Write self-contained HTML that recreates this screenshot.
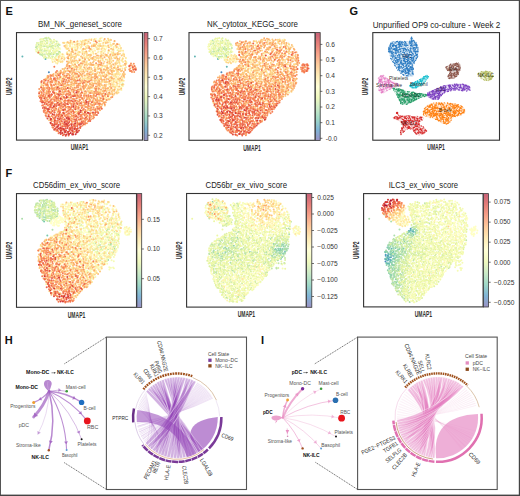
<!DOCTYPE html><html><head><meta charset="utf-8"><style>html,body{margin:0;padding:0;background:#fff;}svg{display:block;font-family:"Liberation Sans", sans-serif;}</style></head><body><svg width="520" height="496" viewBox="0 0 520 496"><rect width="520" height="496" fill="#fff"/><text x="5.6" y="14.6" font-size="11" font-weight="bold" fill="#111">E</text><text x="349.6" y="14.8" font-size="11" font-weight="bold" fill="#111">G</text><text x="5.6" y="177.0" font-size="11" font-weight="bold" fill="#111">F</text><text x="4.8" y="343.7" font-size="11" font-weight="bold" fill="#111">H</text><text x="261.0" y="343.5" font-size="11" font-weight="bold" fill="#111">I</text><g stroke-width="2.00" stroke-linecap="round" fill="none"><path d="M48.9 72.3h0" stroke="#4989be"/><path d="M22.4 56.5h0M45.5 58.9h0" stroke="#62b5b4"/><path d="M59.5 52.1h0" stroke="#78c9ac"/><path d="M58.1 47.2h0" stroke="#92d3ac"/><path d="M46.6 38.4h0M50.2 39.5h0M53.6 54.0h0M56.7 54.2h0" stroke="#acdeab"/><path d="M45.1 38.3h0M44.8 41.2h0M49.6 41.3h0M50.9 41.8h0M53.9 42.0h0M56.8 41.4h0M46.9 43.1h0M58.7 44.3h0M38.6 44.7h0M41.2 45.5h0M52.3 45.8h0M57.5 45.8h0M35.9 47.2h0M37.1 46.4h0M44.2 46.3h0M49.4 46.3h0M51.3 46.7h0M37.1 48.2h0M52.9 47.8h0M41.0 50.8h0M43.5 51.4h0M44.9 50.8h0M49.9 53.8h0M56.8 53.7h0M40.0 54.3h0M41.3 54.7h0M43.0 55.1h0M44.7 54.5h0M51.0 54.6h0M58.2 53.9h0M42.8 55.7h0" stroke="#c4e7a8"/><path d="M46.2 37.8h0M48.5 37.8h0M40.3 39.6h0M43.2 39.0h0M49.6 38.9h0M44.2 41.0h0M46.7 40.3h0M47.3 40.4h0M40.6 41.9h0M42.2 41.8h0M37.0 42.9h0M47.4 42.9h0M50.0 44.2h0M52.1 43.4h0M56.8 43.8h0M40.6 44.8h0M53.6 45.8h0M59.7 44.9h0M43.2 46.3h0M46.1 46.2h0M47.2 47.1h0M55.5 46.5h0M48.3 47.5h0M53.6 48.7h0M58.3 47.6h0M39.8 50.6h0M40.3 49.1h0M42.2 49.6h0M45.1 50.5h0M46.7 49.1h0M46.9 50.8h0M58.5 51.4h0M37.9 52.7h0M39.6 53.5h0M42.5 53.6h0M48.7 53.4h0M51.6 53.0h0M59.1 53.0h0M60.0 52.8h0M47.2 54.2h0M49.3 54.3h0M45.4 56.5h0M48.6 55.8h0M49.3 56.3h0M52.2 56.8h0M52.9 56.6h0M56.7 55.6h0M46.5 58.1h0M52.3 57.1h0M122.6 83.4h0" stroke="#daf0a3"/><path d="M43.4 40.0h0M51.1 40.2h0M54.0 39.7h0M47.2 42.2h0M38.8 43.1h0M40.9 43.7h0M42.1 43.8h0M44.4 43.0h0M53.0 42.8h0M36.3 44.9h0M45.5 44.4h0M49.4 45.3h0M50.5 45.0h0M55.3 44.7h0M39.1 46.1h0M41.3 46.5h0M40.1 47.8h0M41.1 47.5h0M44.7 49.0h0M51.1 47.8h0M59.9 48.6h0M37.1 49.3h0M50.0 50.6h0M57.1 50.2h0M117.5 50.2h0M36.4 51.4h0M38.4 50.7h0M49.0 52.0h0M50.1 51.5h0M52.9 50.8h0M54.8 52.1h0M55.9 51.3h0M41.5 52.5h0M46.3 53.0h0M53.7 52.8h0M55.0 53.1h0M52.2 54.3h0M55.7 56.5h0M44.0 57.8h0M44.7 56.9h0M48.4 57.7h0M50.4 58.0h0M54.9 57.7h0M59.9 60.9h0" stroke="#ecf7a6"/><path d="M41.3 39.1h0M100.0 39.1h0M41.5 39.8h0M55.1 40.9h0M80.4 41.1h0M52.5 41.4h0M55.4 43.7h0M98.7 43.8h0M110.2 42.8h0M43.5 44.5h0M47.6 45.4h0M83.5 44.5h0M53.3 46.9h0M57.7 47.3h0M38.0 47.6h0M56.4 48.8h0M35.7 49.7h0M48.5 50.2h0M50.9 49.3h0M53.8 50.5h0M55.5 49.5h0M40.5 51.7h0M69.3 50.7h0M90.5 50.8h0M108.3 51.2h0M44.0 55.5h0M102.5 58.9h0M75.5 62.5h0M118.6 62.3h0M105.1 67.0h0M119.8 84.2h0M121.7 85.1h0M122.8 86.2h0" stroke="#f5fbb5"/><path d="M101.9 37.8h0M96.1 38.8h0M49.6 41.1h0M98.3 40.6h0M44.1 41.9h0M57.9 42.5h0M71.8 41.5h0M86.6 41.2h0M69.3 45.4h0M75.6 45.5h0M100.7 45.5h0M73.8 46.9h0M78.6 47.1h0M114.3 46.4h0M42.7 48.6h0M46.4 48.9h0M71.1 48.2h0M75.7 48.5h0M80.2 48.7h0M93.8 48.4h0M106.1 48.4h0M110.5 48.7h0M116.1 48.3h0M58.2 49.5h0M60.2 49.2h0M66.3 49.0h0M85.5 49.3h0M114.1 50.0h0M74.1 50.7h0M102.4 51.7h0M43.6 52.2h0M91.2 53.0h0M59.8 54.3h0M61.5 54.2h0M63.8 55.3h0M56.4 58.2h0M82.7 59.2h0M96.3 60.0h0M125.7 58.5h0M52.0 60.2h0M61.2 61.6h0M82.0 60.8h0M57.6 62.0h0M109.6 64.7h0M95.3 66.8h0M102.3 66.4h0M81.6 68.8h0M113.9 74.0h0M123.4 75.8h0M118.9 78.8h0M110.4 80.0h0M113.1 80.8h0M116.4 80.8h0M109.1 86.3h0M113.3 86.0h0M115.9 87.8h0M118.1 86.9h0M120.4 86.7h0M121.3 87.2h0M110.0 88.7h0M108.8 97.0h0" stroke="#ffffc4"/><path d="M91.5 38.9h0M110.3 39.5h0M100.6 41.0h0M101.4 41.0h0M64.4 42.7h0M75.5 42.4h0M77.0 42.1h0M105.2 41.5h0M109.4 41.8h0M114.2 41.4h0M66.5 42.8h0M71.9 43.0h0M72.9 42.8h0M93.4 44.3h0M102.6 43.5h0M66.7 44.8h0M72.4 44.5h0M87.2 45.5h0M105.0 45.4h0M66.7 46.9h0M67.2 46.1h0M72.1 47.2h0M75.3 47.3h0M81.0 46.8h0M96.9 47.4h0M103.6 46.7h0M106.0 46.2h0M107.3 46.8h0M111.0 46.3h0M113.6 46.9h0M117.5 47.1h0M120.1 46.0h0M74.4 47.7h0M67.3 49.1h0M94.6 50.6h0M103.0 50.4h0M120.4 49.1h0M121.5 50.4h0M67.4 52.1h0M81.9 50.6h0M95.1 50.8h0M98.6 51.5h0M104.8 51.6h0M109.3 51.2h0M111.5 51.5h0M68.0 53.8h0M69.6 53.5h0M77.4 52.8h0M78.3 53.0h0M79.9 52.4h0M84.2 52.2h0M86.8 52.6h0M97.8 52.4h0M100.7 53.1h0M101.3 52.2h0M111.6 53.1h0M112.7 53.2h0M71.1 53.9h0M76.2 54.1h0M113.0 54.9h0M60.4 56.2h0M86.1 56.6h0M116.0 56.1h0M59.4 57.1h0M63.8 56.9h0M52.0 58.8h0M53.7 59.6h0M60.6 59.9h0M68.9 58.5h0M79.1 58.8h0M117.1 58.7h0M58.2 60.5h0M111.2 61.0h0M55.8 62.8h0M62.3 62.3h0M87.1 62.9h0M126.4 62.5h0M107.3 64.4h0M75.2 66.0h0M94.6 65.3h0M96.2 65.0h0M121.6 66.2h0M70.5 67.2h0M72.9 67.9h0M74.8 66.8h0M83.5 67.1h0M98.6 66.5h0M101.7 67.5h0M97.2 68.1h0M113.2 69.2h0M90.7 70.3h0M95.2 70.8h0M96.8 69.8h0M105.7 70.4h0M116.1 70.0h0M98.6 72.0h0M92.9 72.7h0M107.1 73.0h0M120.5 74.0h0M109.0 76.9h0M118.5 76.9h0M61.0 77.6h0M115.8 77.8h0M77.1 79.3h0M89.1 79.9h0M115.8 80.1h0M97.2 80.9h0M117.6 81.1h0M121.9 81.3h0M111.9 82.3h0M115.9 82.1h0M119.4 83.2h0M120.4 82.0h0M80.3 83.9h0M108.2 84.5h0M116.4 84.5h0M115.2 86.3h0M92.1 88.6h0M115.5 88.7h0M68.9 90.9h0M79.2 90.6h0M81.9 90.2h0M121.4 90.1h0M117.6 92.6h0M109.3 94.9h0M98.8 96.3h0M95.4 108.2h0" stroke="#fff3b0"/><path d="M89.2 39.4h0M100.5 38.5h0M82.7 40.8h0M84.4 40.6h0M86.9 39.9h0M94.1 39.8h0M103.9 40.2h0M106.8 41.1h0M82.8 41.9h0M84.8 42.3h0M93.8 41.3h0M106.5 42.7h0M69.8 43.6h0M79.0 43.5h0M85.9 43.5h0M87.6 43.2h0M100.2 44.1h0M70.0 45.0h0M74.7 44.7h0M79.2 45.2h0M84.3 44.9h0M97.9 45.8h0M110.3 44.7h0M111.8 45.3h0M119.2 44.6h0M70.0 46.4h0M81.8 46.1h0M85.8 46.7h0M99.2 46.7h0M102.2 46.4h0M72.1 48.4h0M81.0 47.5h0M96.3 47.5h0M98.9 48.8h0M102.2 48.3h0M104.2 48.7h0M113.3 48.4h0M118.6 48.6h0M75.2 49.7h0M77.3 49.8h0M99.0 49.1h0M105.1 49.7h0M78.5 51.8h0M82.7 51.7h0M85.0 52.1h0M92.8 51.4h0M120.3 50.9h0M123.1 50.8h0M66.8 52.9h0M82.4 52.7h0M86.3 52.6h0M93.2 53.0h0M108.1 53.1h0M116.1 53.6h0M123.3 53.6h0M73.9 54.4h0M78.9 55.2h0M93.6 53.8h0M112.6 53.9h0M123.0 54.8h0M59.3 55.8h0M62.2 56.6h0M70.3 56.1h0M70.8 55.8h0M79.0 55.3h0M83.9 55.8h0M101.7 55.8h0M114.2 55.4h0M61.5 58.3h0M75.7 57.6h0M84.5 57.7h0M86.8 57.7h0M89.3 56.9h0M99.5 57.4h0M114.1 57.7h0M119.9 57.4h0M122.7 58.3h0M125.9 58.0h0M55.6 58.9h0M58.7 58.9h0M68.6 58.8h0M72.7 59.9h0M80.4 59.4h0M91.4 58.8h0M100.8 58.8h0M107.5 59.8h0M122.2 59.8h0M54.9 61.2h0M68.9 61.2h0M77.7 61.1h0M86.9 61.3h0M99.3 61.3h0M102.9 60.4h0M107.8 61.1h0M121.4 60.5h0M122.8 61.5h0M52.7 62.0h0M58.3 61.6h0M73.7 62.0h0M77.5 62.3h0M82.4 61.8h0M116.4 62.0h0M123.0 62.0h0M126.0 61.9h0M57.3 63.5h0M74.6 63.9h0M77.5 63.3h0M108.8 63.5h0M112.6 64.2h0M119.6 63.7h0M82.0 64.9h0M104.1 65.9h0M114.7 65.9h0M117.9 65.7h0M120.2 65.8h0M123.3 65.3h0M79.4 66.8h0M86.3 67.1h0M115.4 67.4h0M126.0 67.3h0M73.4 68.1h0M79.2 69.2h0M101.3 68.5h0M114.7 68.0h0M120.1 68.9h0M122.5 68.5h0M66.7 70.2h0M79.4 69.6h0M81.6 69.5h0M86.5 70.1h0M103.2 70.0h0M114.2 70.9h0M59.1 71.9h0M68.1 71.1h0M76.4 71.6h0M85.4 71.0h0M118.2 71.5h0M104.7 74.1h0M115.2 73.9h0M118.9 73.1h0M124.1 74.0h0M75.7 75.7h0M80.2 75.6h0M86.5 75.0h0M98.6 75.5h0M108.6 74.8h0M114.5 75.1h0M117.7 74.6h0M119.5 74.8h0M61.6 77.1h0M68.9 77.2h0M82.6 75.9h0M85.3 75.7h0M87.0 75.7h0M90.9 76.6h0M113.9 75.9h0M115.5 76.1h0M116.6 77.1h0M46.7 77.4h0M76.6 78.1h0M82.9 78.3h0M84.7 78.2h0M86.4 78.3h0M101.2 77.9h0M109.8 78.0h0M122.2 78.1h0M61.4 79.0h0M81.6 79.4h0M84.1 78.9h0M87.3 79.8h0M106.9 81.9h0M123.7 80.7h0M86.2 83.3h0M95.0 83.1h0M102.9 82.0h0M113.6 82.5h0M113.9 84.5h0M71.0 85.4h0M100.4 85.9h0M117.0 85.9h0M58.4 87.5h0M94.8 87.8h0M112.3 89.3h0M89.8 90.1h0M92.7 91.1h0M98.6 91.0h0M100.3 91.2h0M107.5 90.3h0M117.0 91.3h0M118.1 90.3h0M113.5 95.3h0M49.3 98.4h0M100.0 99.2h0M106.4 97.7h0M108.3 98.8h0M89.5 110.1h0" stroke="#fee79c"/><path d="M94.6 39.2h0M108.0 38.8h0M108.9 40.3h0M68.1 42.5h0M81.5 42.1h0M103.5 42.8h0M63.1 42.8h0M64.0 43.1h0M68.5 43.0h0M81.9 44.0h0M90.2 43.1h0M94.5 44.2h0M96.2 44.2h0M113.0 43.9h0M65.5 45.5h0M77.1 44.6h0M81.0 44.6h0M91.9 45.6h0M95.1 45.3h0M99.4 45.5h0M103.3 45.5h0M77.3 46.2h0M88.2 45.9h0M65.5 47.5h0M67.1 48.8h0M68.4 48.6h0M77.6 48.1h0M85.1 49.0h0M86.9 47.9h0M90.5 48.9h0M98.0 48.9h0M101.4 48.9h0M121.0 48.1h0M82.8 49.4h0M83.4 49.5h0M91.5 49.4h0M97.3 49.2h0M71.2 52.1h0M79.7 51.9h0M89.2 51.0h0M101.3 51.5h0M113.4 52.2h0M118.9 51.3h0M71.1 53.7h0M103.5 53.3h0M113.9 53.7h0M120.0 53.7h0M62.6 54.2h0M71.5 54.8h0M77.5 54.7h0M84.7 53.8h0M86.9 54.0h0M91.3 55.1h0M101.4 54.4h0M118.4 54.3h0M124.1 54.5h0M72.5 56.4h0M74.9 56.9h0M76.1 56.0h0M81.8 56.4h0M87.1 55.8h0M95.6 56.8h0M103.0 55.6h0M105.5 55.4h0M107.2 56.2h0M109.2 56.2h0M110.4 55.6h0M124.2 56.2h0M58.6 56.9h0M64.6 58.2h0M67.2 57.5h0M72.0 57.2h0M74.2 56.9h0M90.7 58.3h0M93.5 58.1h0M96.4 57.9h0M97.9 58.0h0M111.2 57.3h0M57.4 60.0h0M64.2 59.5h0M70.7 59.2h0M88.2 58.5h0M94.3 59.6h0M98.5 58.7h0M105.9 59.4h0M111.6 58.7h0M122.8 58.8h0M62.5 61.2h0M70.8 60.6h0M89.1 60.0h0M95.6 60.1h0M109.8 60.4h0M117.2 60.6h0M118.8 60.6h0M125.3 61.1h0M60.7 62.1h0M69.3 62.4h0M77.9 62.2h0M84.1 62.8h0M86.1 62.6h0M104.4 61.8h0M111.4 62.2h0M119.3 62.3h0M71.3 63.2h0M72.6 64.4h0M79.9 64.2h0M86.7 64.4h0M88.9 64.1h0M115.8 64.6h0M117.1 63.3h0M126.2 63.7h0M67.9 65.6h0M71.0 65.9h0M73.3 65.4h0M80.5 66.0h0M87.3 65.3h0M90.1 65.0h0M92.9 64.9h0M105.4 66.2h0M107.1 65.7h0M111.1 65.2h0M75.2 67.0h0M81.1 66.7h0M91.0 67.4h0M94.5 67.4h0M97.7 67.8h0M110.2 67.1h0M118.3 66.6h0M120.7 66.3h0M76.6 68.0h0M80.2 68.3h0M85.2 68.9h0M89.6 68.9h0M116.1 68.8h0M124.9 68.3h0M64.1 70.0h0M64.5 70.7h0M70.3 70.6h0M83.1 69.7h0M88.6 69.5h0M92.8 70.8h0M107.5 70.1h0M116.8 69.7h0M120.1 70.1h0M61.2 72.5h0M78.1 71.6h0M81.0 71.3h0M82.0 72.0h0M97.3 72.2h0M107.5 72.1h0M112.4 72.1h0M117.2 71.2h0M70.7 72.7h0M90.0 72.7h0M97.2 73.3h0M102.6 72.9h0M116.9 73.1h0M69.1 74.6h0M73.2 75.2h0M87.8 75.4h0M100.3 75.2h0M102.3 75.2h0M104.3 75.6h0M115.9 74.4h0M122.6 74.9h0M123.6 74.4h0M57.2 76.1h0M65.5 77.0h0M66.2 77.1h0M99.3 75.6h0M101.0 76.7h0M106.2 76.2h0M73.0 78.8h0M89.0 78.8h0M90.4 78.1h0M101.0 77.7h0M124.2 77.6h0M59.3 79.4h0M69.2 79.2h0M94.7 79.3h0M96.2 80.2h0M98.3 79.8h0M99.4 79.1h0M111.5 80.3h0M113.5 79.2h0M117.7 79.1h0M122.3 80.0h0M61.4 80.7h0M72.0 81.2h0M92.8 80.5h0M99.7 81.4h0M104.3 81.1h0M105.4 81.5h0M110.5 80.6h0M114.0 81.3h0M119.4 80.8h0M49.6 82.4h0M55.0 82.5h0M58.3 83.3h0M77.1 83.2h0M89.8 82.7h0M92.0 82.7h0M93.1 83.4h0M101.2 83.0h0M108.9 82.0h0M109.4 82.3h0M41.3 83.7h0M41.9 85.0h0M44.8 84.1h0M56.3 84.2h0M65.2 84.2h0M83.3 85.0h0M86.9 84.6h0M106.1 84.5h0M109.3 83.6h0M112.3 84.2h0M117.5 83.8h0M123.4 84.4h0M51.0 85.9h0M68.4 85.2h0M72.9 85.2h0M74.1 85.6h0M102.9 85.7h0M112.6 86.4h0M64.7 87.8h0M65.3 87.1h0M69.0 87.2h0M80.7 87.9h0M89.2 88.1h0M100.0 86.8h0M102.4 88.1h0M113.6 86.6h0M115.1 87.2h0M75.9 88.2h0M98.2 89.7h0M117.9 89.2h0M119.8 89.6h0M83.9 89.8h0M95.6 89.9h0M102.3 90.7h0M109.1 90.3h0M110.3 89.8h0M56.0 92.8h0M72.0 91.7h0M82.7 92.9h0M88.7 91.9h0M90.0 91.5h0M100.6 92.3h0M104.1 91.6h0M108.7 92.7h0M114.2 91.5h0M118.5 92.4h0M73.2 94.2h0M85.5 93.8h0M110.6 94.1h0M112.2 92.9h0M117.0 93.4h0M91.8 96.0h0M107.0 94.4h0M68.8 97.6h0M105.2 96.6h0M43.5 98.2h0M81.9 98.5h0M87.1 98.4h0M95.1 98.7h0M104.7 99.1h0M101.4 100.5h0M93.2 100.8h0M104.7 102.0h0M58.4 103.6h0M94.1 103.2h0M65.7 106.1h0M87.8 109.1h0M56.8 110.2h0M75.6 111.7h0M77.4 111.3h0M83.1 110.6h0M86.2 115.5h0M89.0 117.0h0M52.5 119.8h0" stroke="#fed78b"/><path d="M70.6 40.8h0M77.5 41.2h0M85.5 40.2h0M91.3 40.1h0M111.0 40.0h0M67.6 42.2h0M70.3 42.6h0M88.5 41.6h0M99.3 41.3h0M107.8 42.5h0M77.4 44.0h0M105.8 42.9h0M113.9 43.7h0M116.9 44.1h0M93.9 45.3h0M108.2 45.6h0M115.8 45.6h0M64.4 45.9h0M89.3 46.8h0M91.8 46.5h0M95.0 45.9h0M100.8 45.9h0M108.9 47.2h0M116.5 46.9h0M111.2 48.8h0M69.1 50.5h0M72.5 50.5h0M113.0 49.8h0M75.9 50.6h0M73.2 52.3h0M117.9 53.1h0M82.6 54.0h0M88.6 54.9h0M90.2 54.8h0M95.9 53.8h0M105.4 54.4h0M68.3 56.4h0M81.0 56.6h0M90.5 55.8h0M93.8 56.8h0M98.6 55.8h0M112.9 55.5h0M121.7 55.4h0M71.1 57.8h0M100.9 56.9h0M102.6 58.4h0M108.9 57.6h0M115.2 58.3h0M116.6 57.1h0M61.8 58.4h0M74.4 58.7h0M84.7 58.6h0M89.3 59.9h0M92.6 59.1h0M109.8 59.0h0M119.3 59.0h0M56.8 60.1h0M72.5 61.1h0M74.3 60.9h0M76.1 60.4h0M83.1 61.3h0M93.7 61.3h0M100.5 61.1h0M113.2 60.7h0M68.5 62.4h0M71.5 62.1h0M90.5 62.8h0M92.9 62.6h0M98.9 62.0h0M100.3 62.1h0M109.3 61.7h0M115.3 63.2h0M68.0 63.5h0M85.7 64.4h0M90.5 64.5h0M103.5 63.6h0M110.0 63.5h0M84.6 64.9h0M100.7 65.2h0M102.4 65.4h0M125.2 65.0h0M66.8 66.3h0M69.1 67.2h0M77.6 67.3h0M111.5 66.3h0M62.5 69.1h0M64.4 68.8h0M65.3 67.9h0M91.6 69.1h0M98.3 69.0h0M106.1 69.4h0M107.0 68.2h0M108.4 68.2h0M111.7 68.3h0M71.8 69.7h0M73.9 70.4h0M94.6 70.2h0M105.5 70.2h0M110.2 69.8h0M112.1 70.4h0M119.8 69.5h0M122.2 70.6h0M61.7 72.4h0M63.7 72.1h0M73.5 72.1h0M89.5 72.5h0M91.0 72.1h0M101.0 71.3h0M101.7 71.4h0M108.5 70.9h0M113.8 71.1h0M121.1 71.2h0M53.7 74.0h0M64.6 73.0h0M84.3 72.6h0M86.8 73.9h0M94.3 74.0h0M112.0 72.5h0M122.9 73.9h0M67.6 75.2h0M71.8 74.4h0M77.3 74.4h0M91.1 74.9h0M92.3 74.1h0M96.2 74.9h0M106.3 74.8h0M111.8 74.6h0M112.4 74.4h0M124.8 74.3h0M64.0 76.3h0M72.6 76.7h0M73.6 75.9h0M82.1 76.8h0M89.0 76.6h0M95.2 76.3h0M110.6 77.2h0M111.6 76.9h0M121.6 76.6h0M59.5 78.5h0M63.7 78.3h0M74.4 78.1h0M77.8 77.5h0M80.1 78.2h0M87.8 77.7h0M93.0 77.4h0M97.4 78.3h0M97.6 77.3h0M105.1 77.5h0M106.8 78.7h0M112.1 78.5h0M114.0 78.4h0M45.5 78.9h0M46.8 78.9h0M49.3 79.6h0M57.6 79.2h0M75.2 79.9h0M102.9 79.7h0M106.4 79.8h0M118.9 79.3h0M121.3 80.0h0M81.9 81.5h0M94.9 80.9h0M101.9 81.0h0M56.1 81.9h0M61.8 82.6h0M68.0 82.3h0M70.5 82.5h0M76.0 82.9h0M81.8 82.6h0M97.6 82.3h0M105.0 82.2h0M106.9 82.1h0M116.5 82.4h0M73.0 83.7h0M101.6 85.1h0M122.1 84.7h0M41.1 86.2h0M56.2 86.3h0M59.8 85.6h0M66.8 85.8h0M80.5 85.8h0M85.4 86.0h0M86.4 85.8h0M88.7 85.9h0M90.5 86.6h0M91.8 85.1h0M97.6 86.0h0M105.1 86.3h0M105.9 86.0h0M110.7 86.1h0M119.2 86.5h0M53.1 88.0h0M62.7 87.7h0M72.5 87.7h0M88.2 87.6h0M92.6 87.0h0M98.2 88.0h0M103.5 87.4h0M105.5 87.4h0M108.1 88.1h0M110.0 86.8h0M68.8 88.8h0M84.6 88.3h0M87.1 89.1h0M103.4 88.7h0M105.3 88.6h0M121.2 88.6h0M40.6 91.0h0M46.8 90.8h0M48.8 91.3h0M51.8 89.8h0M88.0 91.0h0M91.4 91.0h0M112.6 90.5h0M114.4 90.1h0M44.9 92.6h0M58.7 92.1h0M67.0 91.3h0M86.3 92.7h0M92.6 92.9h0M102.9 91.6h0M106.5 92.1h0M111.6 91.5h0M116.1 92.4h0M70.1 93.7h0M76.6 94.5h0M93.8 94.2h0M109.7 93.7h0M114.4 93.8h0M47.8 95.1h0M70.0 94.6h0M79.7 95.1h0M108.0 95.9h0M60.8 97.5h0M76.6 96.3h0M89.4 96.9h0M97.2 97.5h0M99.7 97.4h0M52.3 98.2h0M63.5 98.0h0M69.5 97.7h0M77.7 98.0h0M89.1 99.1h0M109.7 99.2h0M60.2 100.4h0M79.3 99.9h0M89.6 100.2h0M93.2 99.2h0M103.0 99.2h0M106.3 100.1h0M108.9 99.4h0M99.5 101.4h0M54.6 103.7h0M88.6 103.8h0M93.0 102.6h0M102.6 103.6h0M48.8 104.2h0M76.3 103.8h0M97.9 103.9h0M102.2 104.7h0M71.4 106.8h0M84.7 105.6h0M90.8 106.2h0M94.1 105.6h0M98.9 106.8h0M99.9 106.7h0M104.9 105.5h0M74.1 108.2h0M78.0 107.2h0M55.5 108.8h0M76.7 108.7h0M97.3 109.5h0M61.1 110.2h0M64.7 110.5h0M87.9 110.1h0M62.8 112.9h0M74.8 112.3h0M82.2 112.2h0M91.2 112.6h0M71.6 114.2h0M77.1 113.9h0M50.0 116.9h0M72.9 116.5h0M49.1 120.2h0M74.7 119.7h0M72.2 121.9h0M79.4 122.5h0M62.5 125.5h0M76.4 124.2h0" stroke="#fdc47b"/><path d="M104.7 39.0h0M114.6 40.9h0M84.6 43.9h0M93.7 46.0h0M83.4 48.8h0M72.0 49.2h0M90.2 49.1h0M108.7 50.3h0M72.2 51.6h0M86.3 51.4h0M75.3 53.5h0M67.3 54.2h0M69.4 55.0h0M106.8 54.9h0M110.4 54.4h0M115.1 54.6h0M117.5 54.6h0M97.1 55.4h0M100.9 56.1h0M82.5 57.9h0M92.3 57.9h0M104.5 57.2h0M85.1 59.5h0M117.5 58.7h0M67.0 61.6h0M84.4 61.3h0M98.3 61.1h0M107.2 62.6h0M67.1 64.4h0M75.1 64.6h0M82.6 63.6h0M91.4 64.3h0M93.4 64.7h0M98.2 64.6h0M101.0 64.4h0M113.5 64.4h0M125.0 63.8h0M66.7 66.1h0M76.6 66.2h0M91.9 65.0h0M98.3 66.0h0M131.9 65.3h0M84.4 67.4h0M89.3 67.5h0M107.2 67.5h0M114.0 67.8h0M117.8 67.6h0M70.0 67.8h0M87.6 68.5h0M95.1 69.2h0M99.9 68.4h0M104.0 69.3h0M130.3 68.5h0M132.9 68.9h0M60.7 70.8h0M68.3 70.7h0M76.5 69.5h0M125.2 70.0h0M65.6 71.5h0M71.9 71.0h0M74.5 72.5h0M83.4 71.3h0M87.4 71.6h0M95.1 71.2h0M104.0 72.3h0M111.3 70.9h0M123.8 72.1h0M56.0 72.8h0M57.9 73.4h0M60.9 72.6h0M63.3 72.9h0M67.2 73.8h0M68.6 74.0h0M72.5 73.0h0M74.9 74.0h0M79.4 72.6h0M80.6 74.1h0M82.8 73.8h0M88.0 73.7h0M95.7 74.1h0M99.7 72.7h0M101.8 72.7h0M108.7 73.1h0M110.0 73.8h0M50.3 74.9h0M52.9 74.7h0M55.9 75.2h0M57.7 74.1h0M59.9 74.9h0M78.7 75.3h0M81.4 74.9h0M84.6 75.6h0M95.2 75.3h0M106.7 75.4h0M47.6 76.1h0M53.0 75.9h0M53.5 76.0h0M56.6 75.9h0M76.2 77.2h0M79.1 76.0h0M91.9 77.2h0M94.6 76.5h0M103.3 76.3h0M105.4 77.1h0M123.9 76.1h0M65.8 77.5h0M71.5 77.5h0M111.8 77.9h0M120.2 78.3h0M51.0 79.5h0M51.8 80.2h0M63.4 80.4h0M72.3 79.0h0M74.4 79.7h0M82.7 80.4h0M91.4 79.3h0M101.1 79.3h0M104.3 79.6h0M108.4 79.2h0M44.1 81.4h0M52.6 80.9h0M55.4 81.2h0M62.0 81.3h0M69.2 81.3h0M73.7 80.5h0M75.4 81.0h0M80.2 81.0h0M85.8 80.9h0M87.1 81.8h0M99.1 80.9h0M44.7 83.0h0M71.8 82.6h0M74.6 82.3h0M84.8 82.7h0M99.0 83.1h0M50.6 84.1h0M58.3 84.2h0M60.2 83.7h0M62.3 85.0h0M63.8 84.4h0M67.5 84.4h0M68.9 85.0h0M71.1 84.6h0M74.2 83.7h0M86.0 84.9h0M89.8 83.9h0M90.7 84.2h0M93.1 84.0h0M95.0 83.6h0M96.6 83.8h0M98.4 84.3h0M100.0 84.1h0M104.6 85.0h0M110.5 83.9h0M43.5 85.4h0M48.1 86.2h0M58.1 86.5h0M63.6 86.5h0M65.4 86.6h0M76.7 85.8h0M79.0 85.2h0M99.1 85.5h0M43.1 87.4h0M44.9 87.9h0M46.9 87.9h0M54.9 87.7h0M61.2 88.0h0M70.9 86.7h0M83.7 87.1h0M85.3 87.1h0M91.1 87.5h0M96.5 88.2h0M44.8 89.5h0M50.8 88.5h0M53.7 88.7h0M61.2 89.3h0M66.1 89.6h0M79.4 89.4h0M88.9 88.4h0M89.7 88.3h0M94.6 88.6h0M101.0 89.6h0M105.9 88.8h0M107.8 88.6h0M114.4 89.4h0M54.8 89.8h0M62.5 89.9h0M64.9 89.7h0M71.4 90.0h0M74.9 90.2h0M81.2 90.1h0M46.7 92.0h0M62.1 91.9h0M63.2 92.2h0M79.0 91.7h0M84.6 91.4h0M95.0 92.9h0M97.7 91.9h0M99.2 92.8h0M41.4 94.2h0M41.9 93.2h0M49.2 93.1h0M54.8 94.1h0M63.1 94.1h0M63.9 94.0h0M77.9 93.1h0M82.1 93.0h0M84.5 93.8h0M88.4 94.4h0M94.3 93.2h0M96.2 93.0h0M100.4 93.3h0M102.3 94.0h0M103.7 93.3h0M108.0 94.3h0M54.9 95.9h0M57.7 94.5h0M62.7 94.8h0M83.9 95.3h0M84.5 95.5h0M101.3 94.8h0M104.9 95.3h0M112.4 94.6h0M38.9 96.2h0M53.8 97.0h0M62.0 96.8h0M70.8 96.2h0M86.4 96.7h0M88.1 97.4h0M90.9 97.0h0M93.2 97.0h0M94.1 96.0h0M103.4 96.9h0M111.0 97.4h0M55.1 98.3h0M72.8 98.7h0M73.5 99.0h0M84.3 98.0h0M89.6 99.0h0M97.2 98.9h0M44.2 100.7h0M56.9 100.1h0M76.9 100.6h0M82.2 99.1h0M83.5 100.1h0M90.4 99.9h0M96.9 100.6h0M98.6 100.4h0M100.1 100.4h0M52.3 101.8h0M58.6 102.3h0M59.7 100.9h0M60.8 101.5h0M63.7 101.3h0M70.7 101.5h0M74.6 101.7h0M77.5 101.5h0M81.4 101.9h0M83.5 102.3h0M90.0 101.2h0M95.0 102.2h0M101.8 101.1h0M102.9 100.9h0M105.8 102.2h0M79.3 103.6h0M84.1 102.3h0M85.3 103.3h0M96.9 102.5h0M79.3 105.0h0M83.8 105.3h0M90.8 104.0h0M92.1 104.9h0M101.1 104.6h0M45.7 106.5h0M51.3 105.6h0M54.8 106.2h0M78.5 106.3h0M81.0 105.8h0M86.5 106.8h0M101.3 106.9h0M58.7 108.2h0M66.3 107.2h0M90.3 108.2h0M46.4 108.9h0M53.9 109.7h0M61.2 108.7h0M68.2 108.8h0M91.0 110.1h0M51.2 111.2h0M70.3 111.4h0M72.0 111.2h0M86.5 111.5h0M91.3 110.1h0M94.5 110.2h0M100.0 110.3h0M54.2 112.3h0M57.6 111.9h0M59.5 112.8h0M70.3 114.3h0M92.6 113.5h0M95.1 114.0h0M58.6 115.2h0M65.8 115.3h0M91.5 115.9h0M70.8 117.1h0M91.6 116.8h0M72.7 119.0h0M85.6 119.2h0M91.1 119.3h0M77.2 120.7h0M81.4 119.6h0M83.2 121.0h0M60.3 122.0h0M73.5 121.4h0M87.9 121.5h0M85.0 124.6h0M56.4 131.0h0" stroke="#fcaf6b"/><path d="M74.1 41.8h0M96.8 42.4h0M117.5 44.2h0M89.1 48.1h0M68.1 58.2h0M79.5 60.3h0M101.4 63.0h0M81.0 63.3h0M96.1 63.3h0M99.8 64.4h0M131.0 63.5h0M133.8 63.8h0M78.9 65.1h0M129.4 66.6h0M132.4 66.9h0M134.7 66.6h0M74.4 69.4h0M118.3 69.4h0M129.3 69.4h0M135.8 68.2h0M101.0 69.9h0M129.9 70.9h0M131.7 71.0h0M55.8 72.2h0M132.0 72.1h0M134.2 72.1h0M75.8 73.5h0M77.0 73.7h0M62.9 74.6h0M64.6 75.4h0M89.6 74.5h0M48.7 76.2h0M50.8 76.1h0M69.8 75.8h0M96.7 76.9h0M48.0 77.7h0M50.5 78.0h0M51.2 78.7h0M55.6 78.2h0M57.6 77.9h0M62.9 78.8h0M95.1 78.3h0M66.4 79.9h0M71.0 79.5h0M51.7 81.3h0M56.5 80.8h0M58.6 81.8h0M65.6 81.6h0M68.6 80.4h0M76.1 81.1h0M84.8 80.6h0M90.9 80.5h0M109.5 81.1h0M47.6 82.6h0M51.2 82.3h0M52.3 82.3h0M59.2 82.5h0M62.7 83.4h0M65.1 83.2h0M67.3 82.5h0M80.1 83.2h0M87.9 82.2h0M46.0 84.3h0M53.6 84.8h0M55.6 83.9h0M76.1 83.6h0M78.6 83.7h0M46.1 85.6h0M47.7 85.2h0M51.9 85.9h0M54.1 85.3h0M77.9 85.3h0M83.8 85.7h0M93.2 85.7h0M96.0 86.6h0M47.2 88.0h0M51.8 87.9h0M74.6 87.7h0M76.7 87.3h0M78.3 87.0h0M82.5 86.8h0M111.2 88.0h0M39.2 89.0h0M42.1 89.2h0M43.4 88.5h0M47.4 88.7h0M52.8 89.0h0M56.7 88.2h0M58.5 89.4h0M63.7 89.1h0M65.9 88.8h0M70.2 88.5h0M72.4 89.4h0M73.3 89.4h0M78.0 89.4h0M80.8 89.0h0M83.5 88.5h0M99.0 88.7h0M43.1 90.2h0M49.1 90.9h0M53.3 90.7h0M56.6 89.8h0M59.6 90.9h0M65.3 91.3h0M73.7 89.9h0M85.8 91.2h0M104.2 90.7h0M105.5 90.4h0M39.3 92.2h0M50.2 91.8h0M59.5 91.7h0M64.6 91.8h0M68.6 91.4h0M94.2 91.8h0M109.4 92.6h0M46.3 93.7h0M48.1 93.0h0M60.4 93.6h0M66.5 93.5h0M68.1 93.6h0M74.7 94.0h0M80.5 93.4h0M89.9 93.0h0M90.9 93.1h0M40.3 95.5h0M41.6 95.3h0M45.4 95.4h0M55.3 95.7h0M66.9 94.7h0M74.5 95.5h0M75.3 95.4h0M93.6 95.2h0M99.2 94.5h0M40.8 97.1h0M43.0 96.5h0M44.8 97.1h0M45.9 97.4h0M48.1 96.7h0M58.4 96.2h0M67.9 97.3h0M78.2 96.4h0M80.3 96.6h0M81.4 97.4h0M84.0 96.0h0M102.5 96.6h0M112.3 96.9h0M46.7 98.1h0M79.5 97.6h0M91.7 97.8h0M94.0 98.3h0M100.9 98.3h0M45.8 100.0h0M47.8 99.8h0M53.7 99.2h0M58.4 100.0h0M62.2 99.5h0M65.3 100.2h0M69.5 100.2h0M73.3 99.3h0M74.6 99.2h0M86.9 99.2h0M95.5 100.0h0M106.8 100.1h0M45.7 102.1h0M47.0 101.3h0M50.8 102.1h0M54.3 101.1h0M56.4 101.2h0M65.8 100.8h0M68.9 101.3h0M79.0 101.7h0M92.6 101.2h0M97.3 102.1h0M46.9 103.7h0M50.6 103.7h0M60.8 103.2h0M68.0 102.3h0M69.9 103.1h0M71.4 103.8h0M73.3 102.9h0M81.4 103.5h0M104.0 102.7h0M62.1 104.7h0M64.9 104.6h0M71.3 104.4h0M71.6 105.4h0M82.1 105.2h0M84.9 104.1h0M94.2 104.5h0M99.4 105.0h0M104.8 104.2h0M75.3 105.5h0M76.4 106.4h0M81.7 105.6h0M88.4 105.9h0M89.0 106.2h0M92.4 105.6h0M97.1 106.8h0M53.9 107.6h0M55.5 107.9h0M60.1 107.2h0M60.8 107.9h0M62.8 107.2h0M65.6 107.4h0M69.2 107.1h0M82.6 107.0h0M85.2 107.0h0M87.3 107.5h0M88.7 108.5h0M91.3 107.8h0M93.6 107.6h0M99.3 108.2h0M100.9 107.2h0M51.4 109.3h0M65.2 109.8h0M70.9 109.4h0M72.8 109.9h0M78.2 108.8h0M80.2 109.9h0M82.8 110.0h0M85.5 109.9h0M93.0 109.4h0M45.3 110.6h0M78.9 111.6h0M85.1 111.3h0M90.3 110.5h0M97.7 111.6h0M45.8 112.7h0M47.3 111.7h0M66.2 112.2h0M77.6 112.9h0M97.0 112.3h0M45.4 113.5h0M46.8 113.6h0M56.9 114.2h0M58.6 114.7h0M61.6 114.6h0M66.9 114.7h0M68.4 113.8h0M75.2 114.7h0M82.0 114.4h0M83.2 114.0h0M84.9 113.9h0M86.4 113.9h0M93.6 114.2h0M51.8 116.0h0M54.0 115.0h0M55.9 116.2h0M60.1 115.0h0M64.5 115.5h0M68.9 116.2h0M71.9 115.8h0M75.1 116.3h0M81.5 115.7h0M87.5 115.8h0M93.5 116.1h0M95.3 115.0h0M46.4 116.5h0M52.9 117.2h0M61.7 116.5h0M63.1 117.5h0M73.8 117.6h0M81.8 116.8h0M82.8 117.9h0M94.0 117.4h0M59.3 118.3h0M71.2 118.7h0M82.0 118.6h0M87.4 119.0h0M93.0 118.5h0M61.0 120.5h0M63.7 119.7h0M69.0 120.1h0M70.4 120.2h0M79.8 119.7h0M85.2 120.8h0M86.4 119.6h0M51.7 121.2h0M54.1 121.4h0M85.0 122.0h0M54.9 124.1h0M56.6 123.5h0M62.2 123.2h0M63.2 123.5h0M70.1 124.2h0M86.9 123.2h0M60.6 125.1h0M82.5 125.5h0M52.5 127.2h0M55.8 129.7h0M75.9 128.9h0M77.1 129.8h0M75.0 131.5h0M73.6 132.2h0" stroke="#f99760"/><path d="M95.7 41.3h0M69.4 65.9h0M130.2 65.2h0M134.4 66.1h0M67.5 68.5h0M71.9 68.5h0M134.8 69.0h0M57.0 71.1h0M69.8 71.7h0M130.9 71.0h0M60.1 73.4h0M51.5 75.5h0M66.6 75.7h0M60.1 77.1h0M78.5 76.3h0M67.8 78.0h0M69.4 78.1h0M44.1 79.8h0M53.9 79.4h0M55.4 79.9h0M64.5 79.6h0M79.6 79.9h0M41.8 80.9h0M48.2 80.8h0M50.4 81.8h0M89.1 81.3h0M43.6 82.9h0M83.8 82.2h0M47.4 84.3h0M51.2 85.0h0M82.8 83.5h0M49.1 87.8h0M49.1 89.2h0M59.4 88.5h0M96.0 89.1h0M43.6 90.5h0M68.5 91.1h0M76.7 90.8h0M96.0 90.9h0M41.4 92.3h0M43.5 91.7h0M48.4 91.6h0M54.1 92.6h0M70.0 92.6h0M73.7 91.9h0M77.9 91.5h0M43.7 94.2h0M57.1 94.1h0M70.6 94.3h0M98.1 94.0h0M43.0 95.8h0M49.9 94.6h0M51.9 94.8h0M61.0 94.6h0M65.9 95.0h0M69.0 95.0h0M72.2 95.9h0M77.7 95.2h0M81.2 95.3h0M86.3 95.5h0M88.3 96.0h0M90.5 95.8h0M95.9 95.9h0M96.7 94.5h0M102.8 96.0h0M51.0 96.1h0M55.6 97.3h0M56.6 96.9h0M107.9 96.3h0M49.9 97.8h0M58.4 98.1h0M60.4 98.4h0M64.9 98.0h0M66.5 98.0h0M71.0 97.7h0M76.4 98.3h0M82.5 98.3h0M41.0 99.3h0M42.2 100.4h0M50.6 100.2h0M51.7 99.6h0M54.9 100.1h0M64.9 100.6h0M80.0 99.9h0M40.5 101.2h0M41.9 101.7h0M49.5 101.8h0M67.5 100.8h0M85.4 102.2h0M88.7 101.8h0M52.8 103.1h0M61.7 103.0h0M64.7 102.6h0M65.7 103.6h0M74.3 103.7h0M76.6 102.7h0M98.6 103.4h0M99.9 103.4h0M42.9 105.2h0M44.6 104.3h0M51.8 104.7h0M56.3 104.1h0M68.2 104.3h0M86.2 104.1h0M88.2 105.1h0M95.8 104.1h0M42.2 105.6h0M44.0 106.9h0M48.0 105.5h0M59.4 105.6h0M61.1 105.9h0M63.2 106.4h0M68.0 106.8h0M69.1 107.0h0M49.5 107.4h0M51.0 107.2h0M70.6 108.3h0M71.6 107.1h0M75.5 107.3h0M78.8 107.7h0M81.7 108.1h0M97.4 108.3h0M44.2 110.1h0M56.2 108.8h0M58.6 109.7h0M69.6 109.5h0M83.9 108.9h0M95.3 109.3h0M98.5 108.7h0M99.5 108.8h0M43.7 110.9h0M47.8 110.2h0M54.8 110.6h0M58.6 111.2h0M59.9 111.3h0M67.1 111.3h0M68.6 110.8h0M95.7 111.0h0M44.0 111.9h0M51.4 112.8h0M68.3 113.2h0M69.1 113.3h0M71.3 112.2h0M74.0 112.4h0M84.8 112.2h0M48.7 114.4h0M50.5 113.3h0M64.4 113.4h0M73.5 113.3h0M90.1 113.6h0M45.7 115.5h0M49.1 116.4h0M56.9 115.6h0M67.7 116.4h0M73.7 115.5h0M78.9 114.8h0M80.8 115.1h0M84.6 115.5h0M90.0 115.3h0M49.3 116.7h0M60.5 117.0h0M65.4 116.6h0M67.6 116.6h0M78.0 117.3h0M80.2 116.8h0M86.5 117.1h0M89.8 117.2h0M53.7 118.4h0M54.8 119.1h0M62.0 119.1h0M67.9 118.0h0M76.4 118.4h0M78.6 119.4h0M84.4 118.7h0M55.9 120.7h0M57.9 120.6h0M67.3 120.1h0M71.7 120.9h0M88.8 120.5h0M57.2 122.3h0M59.4 121.9h0M66.4 121.6h0M77.2 122.2h0M81.1 122.7h0M83.4 121.4h0M88.9 121.1h0M57.3 123.4h0M74.3 124.1h0M77.5 123.3h0M85.2 123.2h0M73.5 124.4h0M78.0 124.6h0M60.4 127.3h0M64.0 126.4h0M74.1 126.0h0M75.6 126.3h0M80.0 127.3h0M53.2 127.7h0M59.9 129.3h0M62.5 129.0h0M58.1 131.3h0M58.6 133.2h0M62.6 133.1h0M67.3 132.4h0M38.4 52.5h0M54.3 66.8h0" stroke="#f67e54"/><path d="M129.3 66.1h0M132.9 67.2h0M133.7 69.7h0M58.7 75.2h0M54.1 78.2h0M45.7 80.4h0M63.5 81.6h0M77.8 80.5h0M41.3 82.1h0M61.3 85.2h0M41.1 87.5h0M52.9 92.0h0M81.8 92.2h0M39.1 93.5h0M51.8 94.2h0M54.1 92.9h0M105.5 93.9h0M59.3 95.4h0M49.1 96.2h0M63.9 96.9h0M75.0 96.0h0M39.9 97.7h0M41.6 98.1h0M56.9 98.6h0M103.3 99.0h0M68.4 100.2h0M71.2 100.4h0M85.8 100.6h0M43.1 102.0h0M72.9 101.2h0M75.2 100.8h0M44.7 103.1h0M48.5 102.3h0M51.8 103.0h0M80.6 103.2h0M88.4 103.3h0M91.8 102.3h0M46.6 104.3h0M50.1 104.7h0M54.7 104.8h0M58.2 105.1h0M63.7 104.3h0M73.3 105.1h0M77.5 104.0h0M50.3 106.3h0M56.3 106.1h0M65.0 105.8h0M42.9 108.0h0M46.3 108.3h0M52.7 107.8h0M49.1 109.2h0M63.1 109.5h0M64.9 109.2h0M101.8 108.7h0M48.3 111.3h0M52.6 111.1h0M73.3 111.2h0M49.5 111.9h0M54.6 112.6h0M59.9 112.7h0M79.1 113.1h0M88.7 113.0h0M95.2 112.8h0M98.2 113.1h0M54.4 114.7h0M58.9 114.2h0M63.9 113.7h0M89.3 113.8h0M76.6 115.9h0M96.9 114.9h0M55.1 117.3h0M55.5 117.4h0M58.5 116.4h0M75.8 116.6h0M85.7 117.8h0M60.6 118.6h0M64.8 119.2h0M74.3 119.5h0M80.5 118.9h0M89.6 119.0h0M50.8 120.1h0M65.5 120.9h0M90.2 121.0h0M54.8 122.2h0M61.9 121.2h0M64.4 121.7h0M67.2 122.0h0M75.2 121.7h0M81.7 121.4h0M50.9 123.6h0M52.7 123.9h0M60.2 124.1h0M71.7 123.6h0M79.2 123.7h0M82.8 122.9h0M52.0 125.3h0M56.5 124.6h0M64.2 124.8h0M65.5 124.3h0M69.0 125.4h0M74.6 125.4h0M83.7 124.3h0M54.5 126.1h0M62.2 126.5h0M65.6 126.2h0M67.2 126.0h0M68.2 125.9h0M71.3 127.1h0M72.7 126.9h0M77.3 126.1h0M80.8 126.5h0M57.0 127.6h0M65.8 128.2h0M69.6 128.0h0M70.8 128.1h0M72.7 128.2h0M76.7 128.9h0M80.2 128.0h0M61.5 129.4h0M64.4 129.5h0M69.4 129.6h0M61.7 130.7h0M69.7 131.0h0M71.7 130.6h0M68.3 133.3h0M62.9 135.2h0M64.2 134.3h0M68.6 135.4h0" stroke="#ec6649"/><path d="M135.8 69.7h0M57.6 87.5h0M67.7 87.9h0M60.0 91.2h0M58.8 94.3h0M48.8 95.4h0M73.5 96.2h0M44.5 98.5h0M42.2 102.6h0M57.6 102.7h0M59.6 104.3h0M67.2 104.1h0M44.9 108.1h0M75.3 109.2h0M63.2 110.3h0M63.4 112.8h0M80.5 112.3h0M85.0 112.2h0M93.0 112.4h0M78.8 113.8h0M62.1 115.4h0M68.9 118.0h0M47.5 118.5h0M50.5 118.7h0M57.7 118.6h0M54.8 120.5h0M59.4 119.5h0M76.0 119.9h0M69.2 122.1h0M68.1 123.5h0M53.2 125.3h0M54.8 124.3h0M58.6 124.9h0M67.1 124.9h0M79.7 124.8h0M56.6 127.3h0M55.2 128.4h0M61.9 128.3h0M67.5 127.9h0M75.0 128.1h0M77.8 128.2h0M54.2 129.8h0M57.2 130.1h0M66.1 130.4h0M70.7 129.0h0M72.7 130.2h0M79.0 130.4h0M64.2 130.7h0M72.6 131.2h0M64.7 132.1h0M72.8 133.5h0M77.7 132.1h0M60.7 134.1h0M68.4 134.2h0M65.7 135.7h0" stroke="#e14f3f"/><path d="M76.4 92.4h0M66.7 96.9h0M60.8 98.8h0M86.8 102.0h0M53.8 106.3h0M73.4 106.7h0M48.0 109.1h0M80.9 110.7h0M87.9 112.7h0M52.6 114.2h0M48.4 116.2h0M51.0 119.0h0M66.8 117.9h0M69.0 118.9h0M50.5 122.7h0M64.7 122.7h0M66.4 124.0h0M75.2 123.5h0M81.0 124.1h0M71.6 124.9h0M57.9 126.3h0M58.5 128.4h0M60.4 127.9h0M63.6 128.9h0M74.4 129.1h0M60.7 130.7h0M65.4 131.9h0M68.1 131.8h0M76.5 130.5h0M60.1 132.6h0M62.1 133.1h0M70.7 133.0h0M76.7 132.5h0M66.2 134.5h0M69.1 134.0h0M72.2 134.5h0M73.1 134.4h0M75.6 134.3h0" stroke="#d33938"/></g><g stroke-width="2.00" stroke-linecap="round" fill="none"><path d="M210.9 52.5h0M221.4 72.3h0" stroke="#4989be"/><path d="M194.9 56.5h0M218.0 59.0h0M226.8 66.8h0" stroke="#62b5b4"/><path d="M226.2 56.1h0" stroke="#92d3ac"/><path d="M212.6 40.4h0M218.6 44.1h0M223.6 48.4h0M218.3 50.8h0M230.8 52.2h0" stroke="#acdeab"/><path d="M222.8 40.8h0M213.2 43.8h0M225.6 44.1h0M229.3 43.6h0M230.8 44.3h0M224.8 47.1h0M226.5 48.7h0M231.9 47.9h0M219.1 49.8h0M224.6 49.2h0M226.5 50.1h0M213.2 51.5h0M214.3 51.4h0M219.9 53.7h0M211.2 54.1h0M225.3 54.2h0M215.3 55.6h0M219.3 56.8h0M220.9 56.8h0M222.0 56.4h0M218.3 57.0h0" stroke="#c4e7a8"/><path d="M222.5 38.2h0M220.8 41.2h0M226.4 40.5h0M228.2 40.4h0M213.9 42.1h0M216.4 41.8h0M224.9 42.5h0M220.5 43.6h0M222.4 43.3h0M210.8 44.5h0M214.9 45.3h0M227.0 45.2h0M230.8 44.8h0M215.4 46.9h0M220.3 47.2h0M222.6 47.2h0M213.0 48.7h0M218.6 48.3h0M220.1 47.8h0M224.9 48.2h0M228.1 47.7h0M229.7 48.9h0M213.9 49.8h0M217.3 50.2h0M222.1 49.7h0M210.2 51.2h0M216.3 51.7h0M221.4 51.7h0M225.4 50.7h0M227.5 52.0h0M228.1 51.7h0M230.9 51.4h0M213.0 53.6h0M223.1 53.6h0M226.4 52.9h0M221.3 54.3h0M224.0 53.8h0M228.3 54.2h0M227.0 57.6h0" stroke="#daf0a3"/><path d="M214.7 39.4h0M215.6 38.6h0M217.5 38.5h0M219.3 38.1h0M221.6 39.1h0M225.7 39.2h0M217.2 40.5h0M220.4 42.6h0M222.0 42.6h0M223.4 41.8h0M227.5 42.2h0M210.9 43.0h0M217.4 43.4h0M227.4 43.0h0M215.9 45.5h0M220.1 44.6h0M220.6 45.9h0M224.6 44.6h0M228.5 44.5h0M231.7 45.4h0M209.2 46.3h0M213.4 47.0h0M227.8 46.9h0M228.7 46.2h0M214.3 48.5h0M215.7 48.6h0M221.7 48.2h0M209.1 49.3h0M210.9 50.3h0M221.3 49.4h0M227.8 49.3h0M228.9 49.4h0M209.4 52.0h0M220.2 50.9h0M223.2 51.7h0M211.0 52.6h0M215.2 53.0h0M217.6 52.7h0M218.8 52.7h0M224.6 53.6h0M227.7 52.6h0M230.1 52.6h0M211.9 54.5h0M213.7 54.5h0M216.4 53.9h0M217.1 54.4h0M220.1 54.0h0M216.7 56.5h0M224.5 55.9h0M228.1 56.4h0M219.1 58.4h0" stroke="#ecf7a6"/><path d="M211.1 41.0h0M215.5 41.2h0M218.8 40.9h0M212.4 41.8h0M218.3 41.5h0M229.1 42.7h0M229.6 42.2h0M209.1 43.9h0M215.6 43.4h0M224.5 42.8h0M208.7 44.7h0M213.0 45.2h0M208.2 46.8h0M211.5 47.0h0M217.5 46.4h0M218.7 45.9h0M226.3 45.9h0M231.3 46.1h0M211.4 48.7h0M215.2 50.3h0M231.0 50.0h0M232.4 51.7h0M226.9 54.3h0M213.5 56.2h0M221.4 57.7h0M224.0 57.7h0M225.4 57.8h0" stroke="#f5fbb5"/><path d="M224.1 40.7h0M210.1 41.6h0M223.7 45.2h0M257.2 45.5h0M208.5 48.5h0M229.1 56.1h0M230.7 57.9h0M230.1 60.0h0M258.9 75.5h0M290.4 88.3h0" stroke="#ffffc4"/><path d="M284.1 39.5h0M277.6 40.8h0M256.6 43.1h0M218.1 44.4h0M244.9 55.3h0M264.5 54.0h0M268.0 56.8h0M268.8 56.5h0M232.5 57.4h0M286.6 58.2h0M225.3 59.8h0M232.8 59.8h0M250.6 58.9h0M225.7 61.5h0M229.1 60.4h0M231.6 60.3h0M234.4 60.5h0M236.5 61.3h0M250.1 60.7h0M235.5 62.2h0M289.4 64.7h0M245.4 67.5h0M248.3 66.3h0M254.2 69.2h0M250.5 69.7h0M250.4 72.3h0M258.3 72.0h0M248.0 72.6h0M249.1 75.6h0M241.5 76.1h0M254.3 86.5h0" stroke="#fff3b0"/><path d="M254.5 41.2h0M282.3 40.3h0M278.0 41.7h0M244.9 43.3h0M250.8 43.4h0M288.4 43.4h0M269.2 44.6h0M285.0 45.2h0M281.1 46.2h0M287.3 46.3h0M241.9 49.4h0M268.6 49.9h0M285.7 49.1h0M287.1 49.5h0M276.0 51.7h0M240.9 52.4h0M265.1 52.8h0M290.3 52.2h0M231.2 55.0h0M231.7 55.2h0M234.7 54.8h0M248.6 54.9h0M253.6 54.1h0M231.2 56.0h0M233.7 56.1h0M242.7 56.9h0M263.8 56.1h0M294.1 56.1h0M236.1 57.6h0M236.9 57.4h0M224.6 60.0h0M227.2 59.5h0M230.8 59.2h0M290.6 59.0h0M259.2 61.6h0M229.7 61.6h0M251.3 62.3h0M259.1 62.6h0M250.4 64.2h0M255.5 64.6h0M257.4 64.6h0M265.8 64.6h0M270.7 63.8h0M294.5 66.1h0M240.8 67.0h0M243.0 66.4h0M246.5 67.2h0M250.3 66.7h0M260.8 66.5h0M265.3 66.8h0M280.0 67.0h0M256.1 69.0h0M283.8 68.9h0M288.8 68.1h0M295.5 69.4h0M251.6 70.6h0M263.6 70.7h0M266.4 70.9h0M272.5 70.5h0M256.6 71.9h0M260.3 71.9h0M263.4 71.9h0M263.0 73.8h0M266.7 72.5h0M268.1 74.0h0M254.1 74.5h0M256.2 74.4h0M274.6 75.3h0M228.5 75.7h0M257.2 76.1h0M268.4 76.0h0M251.6 78.3h0M260.0 78.2h0M254.0 79.1h0M279.9 81.5h0M284.7 83.0h0M241.1 85.5h0M280.3 86.3h0M291.7 88.0h0M284.5 89.4h0M272.9 90.6h0M286.5 91.3h0M287.7 91.7h0M289.3 92.5h0M269.1 99.4h0M271.0 104.9h0" stroke="#fee79c"/><path d="M277.9 39.7h0M279.7 39.6h0M263.1 40.1h0M267.6 40.4h0M269.9 40.5h0M274.0 40.7h0M283.4 41.2h0M284.9 40.1h0M256.2 41.3h0M258.8 41.4h0M267.6 42.0h0M271.6 42.6h0M238.8 43.8h0M278.2 43.0h0M279.7 43.9h0M284.5 43.0h0M244.1 45.9h0M247.8 45.5h0M253.1 45.7h0M255.3 45.2h0M274.8 45.2h0M276.8 45.6h0M289.1 44.4h0M240.7 47.3h0M246.2 46.4h0M247.7 47.1h0M260.4 46.7h0M288.7 47.2h0M292.6 46.6h0M238.4 47.7h0M253.9 48.3h0M269.5 48.4h0M274.0 48.4h0M282.3 48.4h0M237.3 49.1h0M256.9 50.6h0M262.0 50.5h0M271.5 50.0h0M243.1 51.0h0M247.8 51.8h0M288.2 51.9h0M245.7 53.8h0M246.8 53.2h0M263.2 53.2h0M268.7 53.1h0M286.7 52.2h0M281.4 54.5h0M284.0 54.1h0M285.5 55.1h0M235.5 56.4h0M236.2 55.9h0M258.8 56.3h0M274.9 56.5h0M276.5 55.3h0M233.4 58.4h0M245.9 56.9h0M258.1 58.4h0M262.7 57.4h0M230.0 58.8h0M234.5 58.6h0M243.5 59.9h0M253.3 59.7h0M256.1 59.8h0M262.7 58.7h0M294.2 58.9h0M227.3 60.1h0M247.1 61.6h0M252.4 60.3h0M256.6 61.0h0M267.0 60.5h0M274.1 60.6h0M282.9 60.8h0M285.0 60.1h0M226.5 62.3h0M228.3 62.7h0M230.6 62.4h0M233.0 61.8h0M248.1 63.1h0M253.4 61.9h0M259.5 62.6h0M262.6 62.7h0M263.8 61.6h0M270.8 62.7h0M278.2 62.9h0M285.1 61.9h0M296.6 61.7h0M231.0 63.3h0M260.5 63.3h0M276.9 63.9h0M286.4 63.9h0M287.8 64.6h0M294.0 64.3h0M295.5 63.9h0M242.2 65.8h0M246.0 65.6h0M273.5 65.4h0M275.3 66.1h0M276.9 64.7h0M279.2 66.1h0M239.3 66.9h0M257.1 67.8h0M273.1 66.5h0M275.3 66.5h0M291.1 66.6h0M245.0 68.8h0M248.7 68.4h0M251.4 68.6h0M252.9 68.1h0M268.4 68.9h0M275.0 69.4h0M280.3 69.2h0M287.3 68.9h0M242.2 70.0h0M247.9 70.8h0M265.0 69.6h0M284.2 70.6h0M291.8 70.6h0M244.5 71.0h0M254.7 71.0h0M270.8 71.8h0M273.8 71.0h0M288.7 71.4h0M294.0 71.0h0M241.8 73.9h0M244.1 72.7h0M250.0 73.7h0M253.6 72.8h0M261.5 73.2h0M270.2 73.3h0M272.2 72.7h0M273.3 73.5h0M231.5 74.9h0M241.3 75.4h0M243.5 74.6h0M246.3 74.3h0M247.0 75.3h0M250.6 74.7h0M259.9 74.2h0M267.1 74.9h0M271.4 74.5h0M270.3 76.5h0M271.4 76.1h0M283.3 75.7h0M286.7 77.2h0M289.9 76.7h0M244.6 77.7h0M247.1 77.3h0M255.3 77.3h0M256.1 78.4h0M264.2 77.8h0M268.4 77.4h0M296.2 78.6h0M242.6 79.1h0M251.6 80.3h0M255.9 79.0h0M261.4 79.1h0M270.6 79.8h0M295.1 79.5h0M248.6 80.7h0M250.8 81.6h0M256.9 80.9h0M260.6 81.3h0M265.4 80.4h0M272.7 80.9h0M274.7 81.0h0M233.8 83.2h0M245.2 82.6h0M250.1 82.0h0M262.2 82.3h0M266.7 82.4h0M277.1 82.1h0M280.7 82.5h0M290.3 83.0h0M291.5 82.6h0M264.4 84.6h0M282.8 85.0h0M292.0 84.4h0M244.9 85.4h0M262.3 85.4h0M289.1 86.4h0M247.3 88.1h0M264.1 88.1h0M264.7 87.4h0M284.8 87.5h0M217.3 89.1h0M260.5 88.6h0M272.6 88.9h0M213.7 90.6h0M275.2 90.3h0M280.0 90.3h0M283.7 90.2h0M287.4 90.7h0M291.5 91.8h0M239.9 93.1h0M286.5 92.9h0M221.0 95.5h0M285.4 96.1h0M271.7 97.6h0M265.8 100.3h0M278.4 99.6h0M240.6 102.2h0M265.8 100.8h0M258.6 103.8h0M235.9 107.6h0M260.5 109.1h0M264.9 111.0h0M261.5 118.2h0" stroke="#fed78b"/><path d="M272.4 39.6h0M246.2 41.2h0M260.7 40.5h0M261.8 39.8h0M273.3 40.8h0M239.9 41.3h0M243.3 42.0h0M248.9 42.4h0M253.7 41.3h0M257.3 42.7h0M262.1 42.0h0M279.0 41.4h0M281.9 42.3h0M283.9 41.6h0M241.7 43.0h0M249.4 43.6h0M262.6 43.7h0M267.2 44.2h0M271.0 44.1h0M275.6 43.6h0M281.7 43.8h0M284.1 43.6h0M236.1 45.0h0M237.0 45.3h0M239.0 45.6h0M247.2 45.8h0M250.1 45.7h0M286.2 44.9h0M291.8 45.0h0M249.4 46.7h0M256.6 46.8h0M275.6 47.4h0M290.9 47.5h0M243.5 47.9h0M247.6 48.5h0M256.3 48.1h0M260.9 48.3h0M267.1 48.1h0M268.7 49.0h0M272.6 48.8h0M277.3 47.6h0M288.8 48.5h0M240.5 49.6h0M249.9 49.8h0M290.0 49.1h0M252.8 52.1h0M273.3 50.6h0M284.0 51.0h0M289.1 50.9h0M239.2 52.6h0M255.3 52.7h0M258.8 52.2h0M267.0 52.5h0M272.1 52.6h0M279.4 52.7h0M241.8 53.8h0M289.0 53.8h0M295.6 55.0h0M243.7 55.7h0M249.4 55.5h0M255.8 56.9h0M260.3 56.8h0M271.4 56.4h0M277.5 55.4h0M285.5 55.6h0M289.9 56.9h0M228.0 57.3h0M241.4 57.5h0M243.0 57.7h0M249.1 58.0h0M251.0 57.8h0M259.7 57.2h0M273.5 57.9h0M279.5 57.6h0M289.4 57.0h0M291.4 57.8h0M293.2 58.1h0M298.3 57.9h0M236.5 59.1h0M238.0 59.2h0M245.6 59.0h0M247.7 59.8h0M255.4 58.7h0M265.2 58.5h0M266.5 58.9h0M281.9 58.8h0M283.2 59.4h0M288.5 59.0h0M292.0 58.8h0M242.8 60.2h0M244.4 60.6h0M253.9 60.4h0M264.3 61.0h0M267.8 60.4h0M279.8 61.1h0M280.4 60.3h0M296.5 60.5h0M241.3 62.5h0M249.5 62.3h0M256.7 61.6h0M273.3 61.7h0M282.8 63.1h0M287.9 62.4h0M288.3 62.3h0M290.6 62.7h0M241.1 63.2h0M246.7 64.2h0M253.4 64.2h0M259.4 64.3h0M268.1 63.9h0M281.1 64.3h0M253.1 65.6h0M254.5 65.8h0M256.3 65.4h0M257.6 65.6h0M260.5 66.1h0M266.6 64.8h0M281.7 66.0h0M236.6 67.8h0M237.9 67.6h0M262.7 67.4h0M267.6 66.7h0M283.4 67.5h0M235.2 69.0h0M237.7 69.4h0M240.4 68.2h0M241.4 68.1h0M248.0 69.3h0M258.4 67.9h0M259.7 69.2h0M261.9 68.7h0M272.7 69.1h0M245.6 70.4h0M246.8 70.7h0M253.9 70.8h0M255.6 70.5h0M257.3 70.3h0M259.0 69.9h0M270.3 70.5h0M273.5 70.4h0M275.2 69.9h0M287.7 70.6h0M232.7 72.0h0M242.8 72.4h0M245.6 71.3h0M248.3 72.2h0M262.0 71.7h0M265.4 71.4h0M273.4 71.1h0M275.8 72.4h0M277.8 72.2h0M281.8 72.4h0M284.1 71.3h0M229.2 73.4h0M233.7 73.3h0M239.0 73.8h0M243.0 74.0h0M252.1 73.9h0M256.2 73.3h0M257.3 72.8h0M259.1 74.0h0M278.5 73.2h0M282.8 73.9h0M287.4 73.1h0M290.0 73.4h0M291.9 73.3h0M294.8 72.6h0M229.8 74.8h0M235.0 74.7h0M261.2 74.9h0M272.5 74.2h0M286.1 75.4h0M288.9 74.5h0M293.5 75.3h0M219.7 76.3h0M237.5 76.0h0M244.7 76.3h0M251.9 76.1h0M253.6 77.2h0M255.4 76.2h0M259.6 76.4h0M261.1 76.7h0M264.7 75.7h0M278.4 77.0h0M280.9 76.8h0M226.1 78.3h0M229.0 78.0h0M235.7 77.3h0M245.9 77.2h0M252.5 78.0h0M259.0 78.5h0M271.2 78.4h0M279.7 78.5h0M287.7 77.4h0M231.9 80.2h0M246.1 79.3h0M247.9 79.3h0M250.5 79.3h0M259.8 79.0h0M263.3 79.7h0M267.7 78.9h0M273.8 79.7h0M286.2 80.0h0M287.7 78.8h0M292.7 79.3h0M235.2 80.7h0M238.4 81.2h0M242.4 80.6h0M261.2 81.6h0M278.6 81.9h0M282.0 80.6h0M294.1 81.4h0M295.3 80.3h0M213.9 82.5h0M231.1 83.2h0M238.8 82.3h0M249.0 82.1h0M253.2 82.0h0M257.2 82.7h0M259.1 83.2h0M269.7 83.1h0M272.1 83.4h0M274.3 82.2h0M282.5 82.1h0M293.3 83.1h0M224.4 83.8h0M232.0 83.9h0M233.6 83.6h0M245.0 84.8h0M253.1 84.9h0M257.6 83.6h0M260.6 84.2h0M270.9 84.7h0M277.9 84.1h0M281.8 83.8h0M285.4 84.6h0M290.5 83.6h0M222.8 86.6h0M232.7 85.8h0M274.2 85.8h0M286.8 86.4h0M291.0 86.0h0M223.6 87.4h0M238.6 87.7h0M240.6 86.7h0M245.4 87.4h0M252.2 87.1h0M257.0 87.6h0M257.6 87.4h0M270.4 88.1h0M274.0 86.7h0M276.1 86.9h0M282.0 87.8h0M290.1 87.6h0M253.6 88.4h0M266.9 88.4h0M286.2 89.0h0M292.9 89.8h0M217.4 90.9h0M225.1 90.1h0M246.4 90.1h0M249.9 90.6h0M258.0 90.2h0M266.2 90.2h0M275.9 90.6h0M291.3 91.0h0M228.3 92.0h0M267.7 91.7h0M282.3 93.0h0M259.6 95.9h0M263.2 95.6h0M271.7 95.2h0M212.8 96.8h0M276.6 96.7h0M230.3 98.1h0M265.8 99.1h0M275.8 98.5h0M262.9 100.2h0M267.2 100.0h0M271.1 100.0h0M260.3 101.0h0M213.6 102.9h0M248.9 102.6h0M267.9 103.4h0M270.4 103.7h0M220.1 104.3h0M239.3 105.0h0M245.8 104.7h0M276.8 105.4h0M255.1 106.7h0M260.5 106.9h0M237.0 107.6h0M230.2 108.7h0M266.7 110.0h0M236.8 112.5h0M246.1 113.0h0M268.8 111.8h0M230.1 113.2h0M250.7 116.1h0M224.7 116.9h0M250.5 120.6h0M262.3 120.2h0M231.4 129.1h0M233.9 129.9h0M241.7 130.9h0" stroke="#fdc47b"/><path d="M264.2 38.3h0M267.0 38.7h0M268.8 39.2h0M265.2 40.2h0M275.7 39.8h0M280.0 41.0h0M250.0 42.3h0M260.4 41.9h0M266.1 42.5h0M270.1 42.7h0M273.0 42.2h0M235.9 43.6h0M240.3 43.7h0M244.7 43.7h0M269.4 43.5h0M275.1 43.5h0M286.4 42.9h0M240.8 44.8h0M258.5 45.1h0M260.8 45.4h0M263.5 44.8h0M265.1 45.3h0M271.5 45.5h0M273.1 44.8h0M238.5 46.5h0M244.4 46.7h0M253.1 47.1h0M261.7 46.3h0M264.1 47.4h0M264.7 46.3h0M269.1 47.2h0M245.4 48.2h0M275.5 48.4h0M279.7 47.8h0M280.3 47.8h0M293.8 48.7h0M239.1 49.6h0M243.5 49.8h0M248.0 50.1h0M251.8 49.3h0M266.3 49.7h0M268.0 49.2h0M278.0 50.6h0M289.3 49.2h0M294.4 49.7h0M241.6 51.7h0M245.9 51.8h0M250.6 51.4h0M253.7 50.7h0M258.0 51.4h0M260.2 50.7h0M267.1 52.1h0M276.9 52.2h0M278.8 51.2h0M292.4 51.9h0M244.3 53.3h0M249.2 53.6h0M252.2 53.7h0M274.6 53.3h0M296.4 52.2h0M250.8 54.8h0M256.7 54.2h0M278.9 53.8h0M297.6 54.8h0M240.6 56.7h0M246.3 56.7h0M247.2 55.8h0M250.8 56.0h0M255.2 56.9h0M261.8 55.4h0M282.1 55.7h0M292.4 55.6h0M245.2 57.5h0M251.2 57.1h0M253.9 57.5h0M264.4 58.0h0M268.7 58.3h0M275.9 57.2h0M277.5 57.7h0M280.7 56.9h0M295.8 57.0h0M250.1 59.1h0M258.4 58.5h0M270.7 58.7h0M275.8 58.5h0M279.2 59.5h0M287.3 59.2h0M298.0 58.9h0M239.5 61.6h0M241.7 61.4h0M256.2 60.3h0M262.7 61.1h0M269.2 60.3h0M271.5 60.5h0M292.2 61.5h0M292.9 61.3h0M295.4 60.6h0M243.9 62.0h0M254.9 62.5h0M266.1 62.7h0M281.5 62.7h0M299.2 63.0h0M242.2 63.8h0M248.2 64.4h0M252.3 64.2h0M282.8 64.7h0M290.5 64.2h0M297.0 64.1h0M238.6 65.9h0M239.8 65.3h0M243.2 66.0h0M248.8 66.1h0M262.6 66.0h0M263.1 65.4h0M269.5 66.1h0M271.7 66.3h0M278.6 65.2h0M285.5 65.0h0M292.5 66.3h0M297.8 65.0h0M252.3 67.7h0M254.3 66.7h0M255.1 67.0h0M265.7 66.8h0M271.4 66.8h0M278.7 67.8h0M286.8 67.6h0M290.4 66.4h0M294.6 67.2h0M305.4 66.9h0M237.0 68.2h0M243.1 68.6h0M266.1 68.6h0M267.2 68.7h0M271.0 68.6h0M285.5 69.4h0M293.7 68.3h0M234.4 69.6h0M280.9 69.5h0M285.7 69.4h0M296.4 69.6h0M237.5 71.1h0M238.4 71.6h0M240.3 71.0h0M287.3 71.7h0M296.6 71.9h0M230.6 73.7h0M246.1 73.9h0M274.9 72.7h0M281.5 74.0h0M286.2 73.3h0M293.7 73.5h0M228.0 75.2h0M237.4 75.2h0M240.6 74.4h0M253.5 75.0h0M264.5 75.1h0M269.8 74.4h0M277.1 74.5h0M278.7 75.3h0M282.8 75.0h0M290.9 74.5h0M222.1 76.7h0M231.0 76.1h0M239.2 77.0h0M247.0 75.7h0M249.2 76.4h0M266.0 76.0h0M277.9 77.0h0M292.1 76.5h0M218.0 77.6h0M231.1 78.1h0M236.7 78.1h0M240.7 77.5h0M272.9 78.1h0M275.3 77.6h0M282.8 78.4h0M289.5 77.7h0M290.0 78.4h0M292.2 77.3h0M218.5 80.3h0M237.1 79.8h0M244.9 79.7h0M256.9 78.9h0M265.8 80.2h0M271.4 78.9h0M277.2 79.9h0M278.4 79.9h0M282.0 79.1h0M296.7 78.8h0M230.0 81.2h0M233.2 81.2h0M237.5 81.6h0M243.7 81.5h0M252.8 81.7h0M255.3 80.7h0M258.8 81.3h0M264.4 81.6h0M270.7 81.0h0M275.8 80.9h0M287.5 80.8h0M289.3 80.7h0M290.0 80.7h0M217.0 83.5h0M231.6 83.5h0M235.4 82.9h0M237.7 82.6h0M242.7 83.3h0M246.0 82.7h0M261.5 82.0h0M265.0 82.2h0M268.7 82.7h0M287.9 81.9h0M295.9 82.5h0M296.3 82.7h0M221.6 85.0h0M229.2 84.5h0M234.2 83.9h0M235.9 84.5h0M249.3 84.1h0M251.0 83.8h0M255.5 84.5h0M266.6 84.5h0M269.5 83.8h0M274.8 83.5h0M275.6 84.8h0M279.5 85.1h0M287.2 84.9h0M293.8 84.3h0M218.3 86.1h0M250.8 86.1h0M252.8 85.6h0M255.7 86.6h0M259.8 86.4h0M268.9 85.4h0M270.2 86.2h0M281.9 86.0h0M288.3 86.1h0M294.7 86.1h0M218.8 88.0h0M230.0 88.1h0M243.3 87.3h0M273.3 87.8h0M278.3 87.3h0M283.1 87.3h0M288.4 86.8h0M294.0 87.9h0M221.1 89.6h0M231.9 89.5h0M233.6 89.2h0M240.0 88.3h0M242.2 89.3h0M248.6 88.2h0M259.3 89.2h0M273.3 89.6h0M281.4 89.6h0M282.8 89.5h0M287.4 88.2h0M291.8 88.5h0M229.0 90.4h0M235.7 89.9h0M240.9 91.0h0M247.5 90.5h0M257.0 91.3h0M261.3 91.1h0M264.0 90.1h0M282.1 90.9h0M216.2 91.6h0M219.8 91.8h0M221.3 91.9h0M224.2 92.1h0M235.9 92.9h0M238.2 91.7h0M245.2 92.0h0M256.7 91.8h0M259.4 91.7h0M260.7 91.7h0M263.5 92.7h0M265.2 92.0h0M271.3 92.0h0M279.0 92.6h0M281.0 92.2h0M283.3 91.6h0M285.2 92.1h0M211.0 94.1h0M212.8 94.2h0M219.0 92.9h0M230.9 93.8h0M235.2 94.4h0M248.6 93.8h0M251.5 94.0h0M252.2 93.5h0M266.6 94.2h0M273.0 93.4h0M275.8 93.0h0M285.8 94.0h0M215.2 94.8h0M233.2 94.9h0M239.4 94.9h0M251.3 94.9h0M260.4 95.3h0M276.6 94.7h0M279.4 95.5h0M281.9 96.0h0M285.2 94.5h0M287.9 94.6h0M219.5 97.0h0M224.0 97.3h0M236.6 97.4h0M239.3 97.3h0M253.4 97.3h0M264.2 96.8h0M266.9 96.2h0M281.8 97.0h0M283.2 96.4h0M224.6 98.2h0M254.9 98.2h0M258.1 98.8h0M258.5 98.4h0M261.5 97.6h0M276.5 98.0h0M280.3 97.7h0M224.7 99.6h0M226.2 100.6h0M238.1 99.5h0M241.7 100.7h0M261.1 99.5h0M272.5 100.1h0M275.9 100.3h0M213.1 101.4h0M221.1 100.8h0M222.5 101.6h0M245.3 101.7h0M248.8 100.9h0M255.5 101.2h0M263.1 102.0h0M264.0 101.4h0M273.4 101.8h0M220.1 103.9h0M224.6 102.3h0M238.1 103.2h0M246.2 102.8h0M248.0 102.9h0M252.2 102.6h0M264.8 103.8h0M274.8 103.8h0M222.2 105.4h0M228.9 104.3h0M235.4 103.9h0M244.8 104.0h0M254.3 104.3h0M266.5 103.8h0M268.6 103.9h0M276.0 104.5h0M221.1 106.7h0M230.3 106.6h0M263.2 106.2h0M267.3 105.4h0M252.8 108.0h0M254.9 108.5h0M257.6 108.3h0M262.6 107.8h0M221.3 108.6h0M224.3 109.9h0M226.5 108.9h0M239.8 109.6h0M249.1 109.1h0M259.1 109.6h0M219.1 111.4h0M225.3 110.1h0M238.4 111.0h0M241.3 111.6h0M243.1 111.7h0M269.5 111.4h0M224.2 113.1h0M241.5 111.7h0M256.5 112.8h0M259.1 112.8h0M263.4 114.4h0M264.9 113.3h0M220.3 116.4h0M221.9 115.3h0M245.8 115.2h0M249.2 115.4h0M226.5 117.9h0M228.8 117.1h0M246.8 117.5h0M252.8 117.4h0M253.3 116.9h0M257.7 117.6h0M227.9 118.1h0M249.5 119.1h0M260.8 118.0h0M245.9 121.0h0M238.4 122.1h0M240.4 122.6h0M248.2 121.1h0M254.4 122.1h0M256.9 121.9h0M257.5 122.6h0M249.4 124.2h0M253.5 124.4h0M232.0 126.9h0M251.3 127.4h0M247.1 128.1h0M241.7 129.2h0M246.2 129.0h0M231.4 131.7h0M239.3 131.1h0M240.6 132.3h0M246.2 134.0h0" stroke="#fcaf6b"/><path d="M237.3 42.7h0M245.5 41.6h0M247.3 43.6h0M259.9 42.9h0M272.7 43.9h0M243.7 44.9h0M251.4 45.7h0M242.5 47.0h0M270.3 47.2h0M274.6 46.2h0M285.4 46.8h0M240.1 48.5h0M240.4 47.8h0M251.6 48.2h0M257.1 48.9h0M286.0 48.3h0M259.0 49.1h0M281.3 49.9h0M239.1 52.1h0M265.1 51.4h0M272.3 51.7h0M280.1 51.8h0M292.8 52.1h0M242.5 52.8h0M257.3 52.7h0M276.7 53.1h0M282.1 53.3h0M292.6 53.0h0M242.8 54.6h0M261.7 54.0h0M273.5 54.8h0M280.5 55.9h0M284.1 56.4h0M288.4 56.7h0M297.9 55.3h0M255.4 57.0h0M260.2 58.3h0M270.3 57.3h0M282.2 57.6h0M297.7 57.2h0M240.2 59.4h0M260.5 59.4h0M263.6 59.6h0M278.7 60.0h0M296.3 58.7h0M248.3 61.6h0M277.6 61.1h0M288.4 60.3h0M239.8 61.6h0M279.5 62.6h0M297.5 62.4h0M245.1 64.4h0M272.2 64.5h0M273.8 64.7h0M279.6 64.3h0M285.0 64.7h0M264.8 65.4h0M283.7 65.8h0M302.3 65.0h0M308.2 65.4h0M293.5 66.8h0M296.4 66.9h0M301.0 67.6h0M303.9 67.2h0M292.7 69.3h0M301.3 69.3h0M304.8 69.4h0M236.4 69.4h0M241.5 69.6h0M268.7 69.4h0M277.5 70.7h0M293.3 69.6h0M294.6 70.1h0M303.6 70.7h0M306.3 70.4h0M307.4 70.8h0M231.1 72.2h0M253.1 72.3h0M280.4 71.9h0M302.1 71.5h0M227.1 73.3h0M232.8 73.0h0M264.0 72.8h0M232.8 75.5h0M280.1 74.8h0M291.9 75.0h0M296.7 74.7h0M223.7 76.5h0M233.6 75.7h0M235.2 77.2h0M243.5 76.5h0M249.6 76.4h0M275.0 76.9h0M284.1 76.1h0M288.1 76.8h0M293.7 75.7h0M219.9 77.9h0M221.9 78.0h0M223.4 78.3h0M226.9 78.2h0M233.8 78.7h0M239.3 78.1h0M242.8 78.7h0M249.6 78.4h0M265.7 78.6h0M267.9 77.6h0M276.2 77.3h0M277.9 77.3h0M281.9 78.3h0M293.8 78.5h0M222.8 79.6h0M226.3 79.3h0M230.6 80.2h0M241.7 79.7h0M275.5 78.8h0M280.8 79.5h0M289.9 79.4h0M214.5 81.4h0M220.9 80.8h0M223.4 81.1h0M230.7 80.6h0M240.2 81.9h0M246.3 81.9h0M267.2 81.2h0M268.6 80.8h0M285.2 81.3h0M220.2 83.4h0M220.9 82.1h0M279.4 83.2h0M285.4 82.6h0M215.5 84.2h0M217.3 83.7h0M227.7 83.5h0M239.8 84.7h0M242.5 83.5h0M243.9 84.6h0M261.4 83.7h0M265.8 84.0h0M273.2 84.4h0M288.5 84.3h0M295.7 83.7h0M220.1 85.1h0M221.7 86.4h0M227.5 85.2h0M227.8 85.1h0M230.2 86.4h0M246.1 85.3h0M257.7 85.6h0M264.4 85.5h0M265.7 86.1h0M279.3 86.6h0M283.6 86.6h0M293.2 86.1h0M213.7 87.8h0M221.2 86.8h0M222.5 87.6h0M226.9 87.1h0M233.4 87.1h0M235.7 87.2h0M237.0 88.2h0M242.2 88.1h0M255.1 87.9h0M262.7 87.8h0M267.2 87.2h0M269.0 86.8h0M287.2 88.0h0M214.2 88.8h0M222.8 88.2h0M224.8 89.6h0M229.0 89.4h0M235.3 88.8h0M241.6 88.8h0M257.5 89.7h0M263.4 89.3h0M267.6 88.8h0M277.6 89.5h0M279.5 88.3h0M211.9 90.0h0M223.1 90.8h0M231.8 90.5h0M233.1 90.5h0M251.2 91.3h0M253.2 90.8h0M260.4 91.3h0M268.7 91.2h0M270.7 89.7h0M285.9 91.3h0M288.4 90.0h0M213.9 91.4h0M217.9 92.7h0M223.5 92.2h0M232.6 92.5h0M233.7 92.4h0M239.3 91.7h0M247.3 91.5h0M248.9 91.9h0M255.1 92.5h0M270.6 91.4h0M273.4 91.4h0M276.0 91.9h0M217.7 93.4h0M242.4 93.4h0M244.0 93.6h0M245.1 93.9h0M254.5 93.3h0M263.6 93.2h0M265.5 93.8h0M268.5 94.2h0M271.6 93.5h0M274.6 94.4h0M279.6 93.7h0M283.1 94.2h0M219.1 94.9h0M231.1 94.9h0M243.3 95.4h0M244.4 94.5h0M248.7 95.9h0M249.6 94.4h0M255.3 95.3h0M256.9 95.6h0M266.0 95.9h0M268.2 95.8h0M273.8 94.8h0M275.5 95.3h0M215.1 96.8h0M216.3 97.3h0M222.0 96.5h0M227.3 96.2h0M232.4 97.4h0M235.4 96.8h0M240.3 96.8h0M243.9 96.4h0M248.2 97.2h0M250.1 97.6h0M255.8 97.2h0M262.7 97.4h0M264.9 97.2h0M272.3 96.8h0M274.4 96.7h0M278.9 96.1h0M279.9 96.7h0M231.6 97.9h0M236.2 98.6h0M239.4 99.1h0M241.7 98.1h0M243.3 98.3h0M267.7 98.3h0M279.1 97.9h0M281.9 98.9h0M220.7 99.6h0M231.9 100.5h0M253.2 99.4h0M260.8 99.3h0M279.9 100.5h0M217.4 101.9h0M237.2 101.1h0M239.2 102.2h0M249.4 101.5h0M254.5 100.7h0M259.6 102.2h0M271.6 101.0h0M275.2 100.8h0M278.3 101.4h0M215.0 103.6h0M227.7 102.6h0M230.9 103.5h0M236.6 102.5h0M241.4 103.7h0M244.0 103.2h0M269.1 102.3h0M272.8 103.4h0M225.2 105.4h0M231.0 104.6h0M233.2 105.3h0M242.0 105.3h0M264.5 105.1h0M273.9 105.2h0M214.4 105.5h0M222.3 106.3h0M232.7 106.7h0M248.7 106.2h0M251.2 106.9h0M253.3 106.6h0M256.1 106.3h0M261.5 107.0h0M215.7 107.1h0M245.2 107.9h0M253.5 108.5h0M259.6 108.2h0M264.6 107.0h0M267.1 107.0h0M268.7 108.2h0M271.9 108.5h0M274.3 107.0h0M217.4 109.9h0M226.9 109.0h0M233.8 109.7h0M236.9 109.3h0M238.8 109.4h0M257.2 109.4h0M262.0 109.2h0M264.1 108.8h0M270.2 109.7h0M273.9 109.1h0M216.6 111.3h0M227.1 111.3h0M235.2 111.7h0M254.5 110.8h0M262.6 110.6h0M267.7 111.1h0M217.7 113.0h0M220.6 113.0h0M243.5 112.9h0M251.8 111.8h0M263.8 112.4h0M219.4 113.3h0M227.5 113.9h0M229.2 114.5h0M239.0 113.6h0M257.9 114.1h0M266.7 113.3h0M267.5 113.7h0M226.2 115.4h0M242.8 115.8h0M243.2 114.8h0M248.0 115.7h0M254.7 115.0h0M264.3 116.3h0M265.3 115.1h0M267.2 115.4h0M235.5 117.1h0M243.5 116.8h0M248.5 117.5h0M261.0 116.9h0M222.1 119.3h0M223.7 118.1h0M240.2 119.4h0M243.2 118.1h0M250.4 118.8h0M255.5 118.2h0M225.6 119.8h0M228.4 121.0h0M235.6 119.5h0M239.7 120.9h0M241.0 120.1h0M244.1 120.9h0M253.1 120.3h0M259.9 120.7h0M227.4 122.5h0M230.9 121.6h0M246.4 122.0h0M249.2 121.4h0M261.9 121.6h0M228.4 123.3h0M234.4 124.0h0M240.0 122.7h0M244.9 122.7h0M249.0 124.2h0M233.2 124.4h0M245.1 125.0h0M251.7 125.2h0M254.8 125.3h0M226.8 127.2h0M240.7 126.2h0M242.7 127.2h0M246.5 127.2h0M248.1 126.5h0M225.8 127.7h0M238.0 127.6h0M226.6 129.3h0M247.6 129.8h0M250.1 129.5h0M227.5 130.6h0M229.5 131.4h0M235.6 131.2h0M236.9 132.3h0M245.4 133.1h0M236.1 135.1h0M245.9 135.2h0" stroke="#f99760"/><path d="M241.8 42.2h0M264.2 42.9h0M283.7 47.1h0M259.2 48.1h0M245.4 49.3h0M279.8 50.6h0M245.5 51.7h0M286.3 51.6h0M271.1 53.2h0M285.0 53.3h0M295.1 52.5h0M252.2 54.8h0M275.1 54.9h0M292.8 53.7h0M272.4 56.6h0M242.9 59.9h0M290.5 60.3h0M298.4 60.8h0M245.4 62.2h0M264.5 63.8h0M303.0 64.3h0M304.0 64.4h0M306.2 64.5h0M307.3 64.2h0M248.2 66.0h0M290.0 66.1h0M302.5 65.6h0M269.9 67.6h0M278.0 67.8h0M302.3 67.7h0M307.3 67.5h0M276.0 69.3h0M291.0 68.5h0M302.9 68.4h0M239.0 69.6h0M261.8 70.0h0M302.4 70.6h0M229.5 72.5h0M234.1 71.1h0M285.7 72.0h0M291.0 72.6h0M291.8 72.2h0M303.4 71.6h0M304.8 71.5h0M236.6 73.5h0M277.7 72.6h0M304.2 72.5h0M222.3 75.3h0M223.6 75.3h0M226.7 74.2h0M238.2 74.9h0M287.5 75.0h0M225.7 77.0h0M232.0 75.7h0M273.1 76.5h0M295.2 75.9h0M284.8 77.9h0M219.1 79.9h0M224.9 79.0h0M233.8 79.5h0M236.2 79.6h0M265.1 79.5h0M284.3 79.1h0M216.7 80.6h0M219.3 82.0h0M222.8 80.6h0M247.9 81.5h0M282.9 81.7h0M293.0 80.4h0M216.0 82.3h0M223.5 82.4h0M227.1 82.4h0M240.9 83.2h0M256.4 83.3h0M275.8 82.7h0M220.6 84.6h0M226.3 84.5h0M248.1 84.1h0M256.6 84.0h0M212.5 86.6h0M214.4 85.2h0M216.1 85.1h0M225.6 86.2h0M237.5 86.3h0M239.0 86.6h0M243.5 85.8h0M260.7 86.2h0M275.2 85.9h0M211.8 87.3h0M217.3 87.2h0M231.3 88.0h0M251.0 86.9h0M259.3 87.3h0M279.4 87.0h0M219.4 89.0h0M230.8 88.8h0M245.2 88.6h0M264.5 89.8h0M269.6 88.8h0M215.6 90.3h0M223.4 91.3h0M236.7 89.9h0M254.9 90.0h0M267.6 89.9h0M212.5 91.4h0M227.4 91.5h0M243.1 92.1h0M249.9 92.4h0M251.8 92.6h0M253.2 91.5h0M277.9 92.1h0M219.8 93.5h0M224.5 94.0h0M226.0 93.6h0M228.1 93.1h0M228.8 93.4h0M232.4 93.9h0M236.9 93.0h0M256.7 93.9h0M260.4 93.8h0M262.6 93.5h0M278.9 94.2h0M211.0 94.5h0M217.4 95.8h0M226.5 95.3h0M231.8 94.8h0M237.7 94.6h0M246.5 95.7h0M265.0 95.2h0M270.7 95.1h0M280.3 94.6h0M211.3 97.5h0M226.3 96.5h0M230.0 96.2h0M242.7 97.2h0M245.1 96.8h0M250.9 97.4h0M259.9 97.6h0M270.3 97.0h0M212.7 99.0h0M214.2 98.6h0M219.0 98.7h0M221.0 98.1h0M227.0 98.6h0M233.8 97.8h0M238.0 98.4h0M245.2 97.8h0M247.3 98.1h0M248.3 98.6h0M250.3 97.9h0M252.5 98.6h0M253.6 98.8h0M264.9 98.7h0M270.2 98.9h0M273.6 98.2h0M212.6 99.6h0M221.7 99.9h0M226.9 100.2h0M229.7 99.5h0M233.2 99.8h0M245.2 99.5h0M247.0 100.5h0M250.6 99.9h0M254.7 100.2h0M256.0 100.7h0M258.1 99.7h0M216.3 101.1h0M228.5 102.0h0M232.4 102.0h0M246.5 101.3h0M258.1 100.9h0M268.3 101.0h0M276.6 101.2h0M217.2 103.3h0M223.1 103.1h0M235.2 102.8h0M239.6 102.5h0M262.6 102.8h0M276.4 103.4h0M279.5 102.5h0M216.8 104.1h0M217.7 105.0h0M226.0 104.1h0M243.2 105.1h0M251.7 104.5h0M257.1 105.0h0M262.4 104.9h0M218.9 106.6h0M234.3 105.9h0M236.2 106.3h0M239.3 106.6h0M244.1 106.1h0M245.0 105.9h0M257.5 105.9h0M264.8 106.3h0M273.1 107.0h0M274.5 106.6h0M219.6 107.7h0M232.8 107.4h0M243.2 107.5h0M248.0 108.5h0M250.5 107.5h0M218.1 109.5h0M251.0 108.8h0M254.7 109.9h0M265.6 109.9h0M268.7 109.4h0M228.3 110.7h0M233.9 110.8h0M238.6 111.5h0M246.7 111.3h0M258.5 111.4h0M272.3 111.7h0M218.9 113.0h0M225.9 113.1h0M232.7 112.6h0M246.8 113.2h0M249.3 112.4h0M260.0 113.1h0M262.4 112.3h0M267.4 112.4h0M270.6 113.2h0M223.3 113.2h0M232.0 114.1h0M235.9 113.2h0M237.7 113.6h0M250.0 114.8h0M252.7 113.2h0M255.9 113.8h0M260.5 113.7h0M219.5 115.5h0M226.9 115.3h0M231.9 116.2h0M240.8 115.7h0M257.0 115.4h0M258.5 115.3h0M259.4 115.8h0M262.3 115.8h0M218.9 116.4h0M223.4 117.4h0M236.9 116.5h0M250.8 117.8h0M258.9 117.5h0M264.9 117.6h0M226.5 118.6h0M231.8 118.1h0M232.8 118.9h0M235.4 118.7h0M237.5 118.6h0M237.9 119.5h0M241.7 119.1h0M246.1 119.5h0M252.2 118.1h0M265.5 119.1h0M223.0 120.2h0M237.1 120.5h0M248.2 119.8h0M251.5 121.0h0M256.2 120.8h0M221.7 122.2h0M226.3 122.5h0M232.5 121.4h0M244.1 121.8h0M252.8 121.2h0M260.5 122.3h0M223.3 123.5h0M231.5 123.1h0M235.5 123.8h0M237.0 122.6h0M254.0 124.0h0M255.0 123.9h0M258.7 123.6h0M224.5 125.3h0M239.3 124.6h0M240.3 125.8h0M231.2 126.7h0M235.9 126.9h0M237.3 125.9h0M239.8 127.2h0M253.5 126.3h0M227.0 127.9h0M230.3 127.7h0M232.7 128.8h0M249.2 128.7h0M253.9 127.7h0M228.8 130.1h0M230.8 130.0h0M236.4 130.2h0M243.1 130.1h0M245.3 130.4h0M251.8 130.2h0M237.3 131.6h0M245.1 131.5h0M233.5 132.2h0M235.6 132.3h0M246.7 132.5h0M237.2 135.5h0" stroke="#f67e54"/><path d="M253.2 43.6h0M257.9 46.3h0M255.0 50.5h0M277.0 49.8h0M270.4 54.3h0M291.6 54.7h0M274.8 59.7h0M304.5 65.5h0M307.3 65.5h0M297.5 68.9h0M307.3 69.0h0M308.5 68.5h0M238.3 70.5h0M306.6 71.1h0M238.1 73.2h0M226.2 76.4h0M228.7 79.5h0M226.0 81.4h0M227.7 81.9h0M228.6 82.9h0M219.3 84.6h0M238.1 84.7h0M233.7 85.8h0M235.4 86.6h0M271.6 86.6h0M214.4 86.9h0M249.4 87.5h0M211.8 89.1h0M216.7 88.9h0M236.8 88.9h0M247.0 89.3h0M250.4 89.8h0M251.3 89.0h0M218.8 91.3h0M219.9 90.2h0M226.9 89.9h0M238.1 90.8h0M241.9 90.9h0M244.2 91.2h0M278.5 90.4h0M230.2 92.7h0M266.9 91.8h0M214.3 94.2h0M221.8 93.1h0M238.1 93.8h0M248.3 94.1h0M258.5 93.6h0M212.3 95.6h0M215.0 95.2h0M229.4 95.7h0M241.0 95.3h0M253.2 94.8h0M231.9 97.1h0M258.6 96.6h0M268.7 96.6h0M217.3 97.7h0M223.6 97.8h0M215.9 100.2h0M217.6 100.2h0M235.2 99.2h0M237.1 100.1h0M239.8 99.9h0M249.8 100.3h0M274.6 99.5h0M213.5 101.1h0M218.9 100.9h0M225.3 101.7h0M226.9 101.8h0M234.7 101.1h0M243.2 101.5h0M270.6 101.5h0M219.4 103.0h0M230.1 103.4h0M233.9 102.8h0M250.4 102.6h0M255.3 103.2h0M257.2 102.8h0M259.8 102.9h0M263.0 103.4h0M277.7 103.4h0M232.1 104.0h0M237.9 103.9h0M248.6 104.8h0M250.0 105.4h0M255.8 104.8h0M259.0 104.3h0M217.6 106.2h0M226.4 106.0h0M227.3 106.3h0M230.9 106.3h0M240.5 106.9h0M242.3 106.1h0M247.0 106.9h0M271.6 106.3h0M221.2 108.5h0M223.5 108.0h0M229.0 108.0h0M241.2 107.7h0M260.6 107.5h0M270.3 107.7h0M274.9 107.6h0M221.7 109.5h0M235.6 110.1h0M241.7 108.7h0M246.4 110.1h0M247.0 109.0h0M253.2 109.2h0M272.0 109.6h0M223.8 111.0h0M232.4 110.4h0M248.9 111.1h0M250.5 110.6h0M252.6 111.4h0M255.5 110.3h0M266.4 110.3h0M230.3 112.5h0M240.3 111.8h0M252.8 112.5h0M264.8 112.9h0M221.4 114.1h0M225.2 114.1h0M240.4 113.9h0M245.5 113.9h0M254.5 114.1h0M258.8 114.7h0M223.7 115.8h0M233.0 115.1h0M234.9 116.1h0M237.3 115.6h0M238.0 115.4h0M252.6 115.2h0M221.8 117.6h0M232.0 116.4h0M234.6 117.4h0M241.0 117.3h0M256.1 117.8h0M265.8 117.6h0M220.7 119.5h0M229.1 118.1h0M246.9 118.0h0M255.7 118.5h0M263.5 117.9h0M221.2 119.8h0M227.3 120.8h0M230.3 119.8h0M242.4 120.2h0M260.3 120.7h0M221.3 121.1h0M223.5 121.3h0M236.3 122.6h0M242.8 121.9h0M250.4 122.0h0M225.2 123.8h0M226.6 122.8h0M231.0 122.9h0M240.9 124.0h0M242.6 124.0h0M247.2 123.0h0M249.9 123.1h0M252.5 123.6h0M226.2 125.0h0M229.2 125.4h0M231.5 125.0h0M234.8 124.6h0M242.6 125.4h0M243.8 124.3h0M224.3 125.9h0M233.5 126.7h0M245.0 126.5h0M255.0 126.7h0M236.7 128.4h0M241.7 127.6h0M245.6 127.6h0M251.6 128.1h0M252.7 128.7h0M247.1 132.1h0M248.8 130.5h0M250.5 131.7h0M230.3 132.6h0M231.6 133.3h0M239.9 133.2h0M243.5 133.3h0M249.5 132.8h0M240.0 133.9h0M242.0 134.2h0M243.9 133.9h0M242.2 135.6h0" stroke="#ec6649"/><path d="M239.2 55.0h0M265.8 55.6h0M285.2 66.4h0M239.7 80.2h0M251.3 82.7h0M248.2 85.9h0M277.9 85.6h0M225.2 86.7h0M227.4 89.3h0M256.1 89.8h0M275.5 89.0h0M240.7 92.6h0M223.6 94.9h0M224.4 95.1h0M235.5 95.9h0M255.3 97.0h0M228.5 98.9h0M262.1 98.5h0M244.2 99.6h0M236.5 102.3h0M251.4 101.7h0M225.4 102.7h0M214.7 104.8h0M222.4 104.5h0M260.7 104.4h0M269.4 104.6h0M224.0 106.7h0M269.7 106.2h0M276.3 105.6h0M217.2 108.4h0M225.4 108.0h0M231.0 107.9h0M234.2 108.0h0M239.7 108.1h0M246.8 108.0h0M217.3 111.6h0M245.2 110.4h0M257.3 110.8h0M260.7 110.4h0M232.0 112.8h0M238.9 113.3h0M254.2 112.0h0M217.6 114.7h0M233.3 114.7h0M242.9 114.1h0M246.2 114.7h0M249.1 113.3h0M229.6 115.1h0M230.2 116.9h0M239.5 116.5h0M262.4 117.1h0M258.2 118.3h0M220.3 119.9h0M232.5 119.9h0M234.0 119.9h0M235.4 122.0h0M257.3 123.7h0M227.6 125.3h0M237.0 124.9h0M247.8 125.1h0M256.6 125.4h0M228.4 127.3h0M250.0 127.3h0M231.0 128.9h0M235.2 127.4h0M243.6 127.9h0M237.1 130.0h0M238.9 130.4h0M232.6 131.2h0M241.1 131.5h0M244.1 131.6h0M248.7 132.7h0M232.9 134.4h0M235.4 134.5h0" stroke="#e14f3f"/><path d="M222.2 80.2h0M225.5 83.1h0M221.0 96.9h0M216.5 99.2h0M218.8 100.1h0M231.0 102.3h0M227.2 107.6h0M231.6 108.7h0M244.3 110.0h0M221.7 111.5h0M229.9 111.6h0M222.7 112.9h0M227.2 111.9h0M235.5 112.9h0M245.0 117.8h0M257.4 120.6h0M264.8 119.8h0M229.0 121.3h0M241.0 128.2h0M239.1 134.1h0" stroke="#d33938"/></g><rect x="16.50" y="32.60" width="126.00" height="107.50" fill="none" stroke="#333" stroke-width="1.1"/><rect x="189.00" y="32.60" width="126.00" height="107.70" fill="none" stroke="#333" stroke-width="1.1"/><text x="80.0" y="27.3" font-size="8.7" fill="#222" text-anchor="middle" textLength="84.0" lengthAdjust="spacingAndGlyphs">BM_NK_geneset_score</text><text x="252.5" y="27.3" font-size="8.7" fill="#222" text-anchor="middle" textLength="91.0" lengthAdjust="spacingAndGlyphs">NK_cytotox_KEGG_score</text><text x="79.5" y="150.3" font-size="8.6" font-weight="bold" fill="#333" text-anchor="middle" textLength="17.5" lengthAdjust="spacingAndGlyphs">UMAP1</text><text transform="translate(12.1 86.3) rotate(-90)" x="0" y="0" font-size="8.6" font-weight="bold" fill="#333" text-anchor="middle" textLength="17.5" lengthAdjust="spacingAndGlyphs">UMAP2</text><text x="252.0" y="150.5" font-size="8.6" font-weight="bold" fill="#333" text-anchor="middle" textLength="17.5" lengthAdjust="spacingAndGlyphs">UMAP1</text><text transform="translate(184.6 86.5) rotate(-90)" x="0" y="0" font-size="8.6" font-weight="bold" fill="#333" text-anchor="middle" textLength="17.5" lengthAdjust="spacingAndGlyphs">UMAP2</text><defs><linearGradient id="cb144" x1="0" y1="0" x2="0" y2="1"><stop offset="0.00" stop-color="#c76178"/><stop offset="0.10" stop-color="#e67f79"/><stop offset="0.20" stop-color="#f8a48a"/><stop offset="0.30" stop-color="#fecd9d"/><stop offset="0.40" stop-color="#feecb7"/><stop offset="0.50" stop-color="#ffffd7"/><stop offset="0.60" stop-color="#f0f9bf"/><stop offset="0.70" stop-color="#cbeac7"/><stop offset="0.80" stop-color="#a0d9c7"/><stop offset="0.90" stop-color="#80b5d6"/><stop offset="1.00" stop-color="#9b92c5"/></linearGradient></defs><rect x="144.0" y="32.4" width="3.9" height="108.1" fill="url(#cb144)" stroke="#3a3a3a" stroke-width="0.8"/><line x1="147.9" y1="38.60" x2="150.1" y2="38.60" stroke="#333" stroke-width="0.7"/><text x="153.4" y="40.90" font-size="6.6" fill="#333">0.7</text><line x1="147.9" y1="57.94" x2="150.1" y2="57.94" stroke="#333" stroke-width="0.7"/><text x="153.4" y="60.24" font-size="6.6" fill="#333">0.6</text><line x1="147.9" y1="77.28" x2="150.1" y2="77.28" stroke="#333" stroke-width="0.7"/><text x="153.4" y="79.58" font-size="6.6" fill="#333">0.5</text><line x1="147.9" y1="96.62" x2="150.1" y2="96.62" stroke="#333" stroke-width="0.7"/><text x="153.4" y="98.92" font-size="6.6" fill="#333">0.4</text><line x1="147.9" y1="115.96" x2="150.1" y2="115.96" stroke="#333" stroke-width="0.7"/><text x="153.4" y="118.26" font-size="6.6" fill="#333">0.3</text><line x1="147.9" y1="135.30" x2="150.1" y2="135.30" stroke="#333" stroke-width="0.7"/><text x="153.4" y="137.60" font-size="6.6" fill="#333">0.2</text><defs><linearGradient id="cb315" x1="0" y1="0" x2="0" y2="1"><stop offset="0.00" stop-color="#c76178"/><stop offset="0.10" stop-color="#e67f79"/><stop offset="0.20" stop-color="#f8a48a"/><stop offset="0.30" stop-color="#fecd9d"/><stop offset="0.40" stop-color="#feecb7"/><stop offset="0.50" stop-color="#ffffd7"/><stop offset="0.60" stop-color="#f0f9bf"/><stop offset="0.70" stop-color="#cbeac7"/><stop offset="0.80" stop-color="#a0d9c7"/><stop offset="0.90" stop-color="#80b5d6"/><stop offset="1.00" stop-color="#9b92c5"/></linearGradient></defs><rect x="315.4" y="32.6" width="4.8" height="107.9" fill="url(#cb315)" stroke="#3a3a3a" stroke-width="0.8"/><line x1="320.2" y1="44.40" x2="322.4" y2="44.40" stroke="#333" stroke-width="0.7"/><text x="325.7" y="46.70" font-size="6.6" fill="#333">0.6</text><line x1="320.2" y1="60.05" x2="322.4" y2="60.05" stroke="#333" stroke-width="0.7"/><text x="325.7" y="62.35" font-size="6.6" fill="#333">0.5</text><line x1="320.2" y1="75.70" x2="322.4" y2="75.70" stroke="#333" stroke-width="0.7"/><text x="325.7" y="78.00" font-size="6.6" fill="#333">0.4</text><line x1="320.2" y1="91.35" x2="322.4" y2="91.35" stroke="#333" stroke-width="0.7"/><text x="325.7" y="93.65" font-size="6.6" fill="#333">0.3</text><line x1="320.2" y1="107.00" x2="322.4" y2="107.00" stroke="#333" stroke-width="0.7"/><text x="325.7" y="109.30" font-size="6.6" fill="#333">0.2</text><line x1="320.2" y1="122.65" x2="322.4" y2="122.65" stroke="#333" stroke-width="0.7"/><text x="325.7" y="124.95" font-size="6.6" fill="#333">0.1</text><line x1="320.2" y1="138.30" x2="322.4" y2="138.30" stroke="#333" stroke-width="0.7"/><text x="325.7" y="140.60" font-size="6.6" fill="#333">-0.0</text><g stroke-width="2.00" stroke-linecap="round" fill="none"><path d="M44.1 221.5h0M37.4 214.6h0M47.3 235.6h0" stroke="#78c9ac"/><path d="M38.7 208.8h0M40.3 212.9h0M43.6 213.4h0M45.1 217.3h0M42.8 220.3h0M79.4 220.5h0M107.7 237.2h0M110.7 244.0h0" stroke="#92d3ac"/><path d="M47.0 199.8h0M39.7 200.7h0M51.7 201.4h0M46.3 203.5h0M36.0 205.1h0M40.2 205.3h0M42.8 204.9h0M42.3 206.9h0M48.6 207.3h0M57.4 208.4h0M39.8 209.5h0M40.5 211.0h0M43.3 211.6h0M48.0 210.9h0M53.3 210.2h0M55.2 211.3h0M57.8 210.9h0M40.4 213.7h0M37.4 216.0h0M39.7 215.7h0M52.3 214.7h0M43.1 216.9h0M55.0 217.0h0M56.9 216.4h0M39.6 217.9h0M43.2 219.5h0M45.0 219.6h0M49.7 221.0h0M114.0 231.7h0M99.9 245.1h0M105.2 246.3h0M114.3 248.8h0M108.2 260.1h0M22.1 218.8h0M52.5 229.8h0" stroke="#acdeab"/><path d="M43.1 200.3h0M45.3 200.3h0M43.4 201.6h0M44.5 200.9h0M36.3 203.5h0M37.7 203.2h0M41.0 203.0h0M43.8 203.2h0M45.6 203.1h0M36.7 205.3h0M39.4 204.3h0M44.5 204.2h0M50.1 205.4h0M52.1 204.2h0M35.2 206.8h0M43.6 206.3h0M45.3 206.1h0M46.4 205.4h0M51.5 205.6h0M45.6 207.8h0M53.2 207.3h0M36.7 210.0h0M43.4 208.6h0M45.0 210.1h0M51.4 209.0h0M52.3 209.8h0M54.8 209.8h0M55.5 209.8h0M34.8 210.4h0M38.3 210.5h0M44.7 210.3h0M49.8 211.6h0M51.7 211.0h0M35.3 212.6h0M36.0 212.7h0M37.3 212.3h0M43.4 211.6h0M45.0 211.8h0M88.0 212.4h0M38.5 214.3h0M54.6 213.9h0M45.7 215.1h0M49.2 215.9h0M51.4 215.8h0M38.5 216.5h0M47.0 216.3h0M48.3 216.6h0M50.6 216.3h0M52.1 217.8h0M46.1 217.9h0M50.7 218.5h0M47.6 220.9h0M80.9 225.0h0M112.6 227.0h0M68.7 227.5h0M107.8 229.2h0M89.1 231.3h0M106.9 230.8h0M118.4 234.8h0M111.6 238.9h0M95.5 243.3h0M111.3 243.8h0M110.7 245.9h0M97.6 247.3h0M113.4 246.9h0M96.8 248.2h0M93.9 249.9h0M100.9 249.9h0M108.0 249.3h0M97.3 251.4h0M113.5 252.0h0M57.6 252.9h0M100.2 260.2h0" stroke="#c4e7a8"/><path d="M41.0 200.2h0M50.2 200.5h0M41.3 200.8h0M46.7 200.9h0M47.3 201.9h0M49.1 201.0h0M81.7 202.0h0M49.3 202.6h0M52.3 203.0h0M54.0 202.6h0M46.7 205.1h0M48.4 205.1h0M53.4 204.7h0M54.5 204.0h0M36.6 205.4h0M38.7 206.1h0M40.1 206.3h0M52.9 205.9h0M54.5 205.9h0M55.4 206.7h0M76.0 205.6h0M35.3 207.4h0M39.1 208.2h0M41.2 208.4h0M43.2 208.3h0M44.4 208.0h0M51.0 207.1h0M54.7 207.8h0M80.7 207.1h0M35.1 209.7h0M41.7 209.8h0M57.4 208.9h0M70.1 209.7h0M104.8 209.4h0M37.5 210.3h0M46.6 210.6h0M41.0 212.5h0M47.5 211.6h0M49.4 212.7h0M52.7 213.2h0M53.8 213.1h0M57.1 212.4h0M37.4 213.4h0M50.3 214.6h0M53.2 214.5h0M57.8 213.8h0M66.2 213.9h0M42.1 214.9h0M42.7 215.6h0M46.8 216.1h0M55.0 216.3h0M55.5 214.9h0M57.3 215.0h0M37.5 216.3h0M40.9 217.1h0M52.7 216.4h0M42.2 219.3h0M47.5 218.0h0M48.9 218.2h0M53.1 218.1h0M73.0 219.1h0M74.1 218.0h0M112.2 218.5h0M46.2 220.2h0M51.4 219.7h0M109.6 220.1h0M115.8 223.1h0M121.1 222.8h0M109.1 228.9h0M100.8 231.5h0M88.7 232.3h0M109.3 232.7h0M116.7 233.6h0M93.4 233.6h0M101.5 235.2h0M95.1 239.5h0M108.5 240.1h0M112.6 240.3h0M100.6 241.7h0M105.0 241.9h0M114.1 242.2h0M82.7 244.4h0M108.7 244.5h0M74.0 244.8h0M98.4 245.2h0M109.6 245.3h0M79.1 246.2h0M103.0 246.7h0M115.0 246.8h0M101.3 248.6h0M112.3 249.2h0M70.3 252.3h0M109.8 254.5h0M99.8 255.8h0M101.6 258.2h0M90.7 269.6h0" stroke="#daf0a3"/><path d="M40.1 203.5h0M50.2 203.6h0M75.1 204.4h0M49.4 206.3h0M104.1 206.4h0M50.3 208.0h0M46.7 209.5h0M48.9 209.5h0M68.6 209.4h0M73.4 208.8h0M78.5 208.8h0M102.6 211.6h0M51.1 211.9h0M55.6 212.5h0M63.3 212.9h0M42.6 213.2h0M45.8 213.4h0M47.9 213.8h0M51.4 214.6h0M73.1 215.1h0M74.6 215.6h0M81.4 214.7h0M113.2 215.0h0M98.6 216.7h0M54.5 218.0h0M86.2 218.6h0M110.5 218.6h0M66.3 222.4h0M69.3 222.2h0M72.8 221.6h0M82.3 221.4h0M103.4 221.1h0M90.8 223.8h0M100.1 223.4h0M108.1 224.0h0M97.2 224.4h0M82.3 225.8h0M86.6 226.8h0M94.9 227.3h0M114.8 226.5h0M83.7 228.3h0M87.3 228.3h0M97.4 227.5h0M117.9 227.7h0M119.1 228.0h0M100.2 229.7h0M111.7 230.3h0M63.6 231.3h0M76.5 230.8h0M129.6 231.6h0M79.8 232.2h0M106.1 232.5h0M73.0 233.6h0M111.9 233.7h0M117.0 234.1h0M104.6 236.6h0M111.8 236.4h0M117.0 235.3h0M118.8 235.7h0M57.9 237.4h0M93.4 236.9h0M100.3 238.1h0M118.7 238.1h0M114.2 238.2h0M101.1 240.4h0M109.9 240.4h0M114.4 240.3h0M115.6 240.5h0M117.9 240.7h0M75.0 242.1h0M81.8 241.5h0M102.1 241.9h0M118.4 241.4h0M50.8 244.3h0M90.3 243.9h0M93.1 243.2h0M81.5 244.9h0M89.0 244.7h0M114.5 245.0h0M116.2 245.0h0M90.1 248.4h0M95.1 248.4h0M116.1 249.0h0M92.8 249.8h0M100.0 250.3h0M102.6 249.9h0M116.0 249.8h0M105.2 252.3h0M109.6 252.0h0M96.3 252.3h0M97.2 253.5h0M103.1 253.3h0M105.9 253.0h0M112.3 254.4h0M101.5 257.0h0M87.5 258.4h0M98.0 258.2h0M108.2 257.6h0M107.0 259.3h0M106.8 261.2h0M89.0 262.5h0M104.3 262.8h0M70.2 263.7h0M98.6 269.0h0M87.2 270.9h0" stroke="#ecf7a6"/><path d="M80.3 201.9h0M68.4 203.6h0M73.9 203.8h0M75.2 203.4h0M101.4 202.5h0M71.3 204.3h0M81.9 205.1h0M106.4 204.2h0M107.0 204.0h0M65.8 206.4h0M36.6 207.1h0M72.6 207.4h0M82.6 207.8h0M84.1 208.1h0M103.2 208.3h0M70.3 210.2h0M98.3 211.0h0M103.3 211.1h0M102.4 211.9h0M76.2 213.3h0M92.7 213.8h0M95.6 213.2h0M115.9 216.2h0M78.4 217.7h0M82.9 216.9h0M96.6 216.5h0M119.4 217.0h0M71.2 218.4h0M77.8 219.2h0M103.6 219.2h0M115.6 218.7h0M65.5 219.6h0M71.9 220.9h0M81.2 219.9h0M81.4 219.9h0M92.3 219.9h0M117.0 221.1h0M80.4 223.6h0M97.7 224.1h0M104.3 223.0h0M65.5 224.3h0M75.2 224.8h0M77.3 224.6h0M95.3 225.4h0M108.6 225.6h0M112.3 224.9h0M113.9 224.2h0M121.5 225.0h0M79.8 226.0h0M119.6 226.3h0M91.0 227.5h0M91.7 227.5h0M124.9 227.6h0M129.5 227.8h0M77.9 230.3h0M89.5 229.4h0M92.6 230.4h0M94.7 229.1h0M102.6 229.8h0M118.3 228.8h0M65.4 231.2h0M69.5 231.4h0M81.2 231.2h0M95.8 231.5h0M97.7 232.0h0M104.6 231.7h0M81.8 232.2h0M98.0 233.5h0M101.7 232.7h0M103.1 233.1h0M107.2 233.4h0M115.2 233.2h0M118.6 233.3h0M99.9 233.8h0M101.2 234.1h0M102.5 234.2h0M108.2 234.2h0M110.3 234.9h0M127.7 234.8h0M129.2 234.6h0M81.6 235.9h0M108.4 236.4h0M68.8 238.1h0M73.5 237.8h0M86.0 237.2h0M89.8 238.0h0M92.8 237.4h0M106.3 236.9h0M115.1 236.8h0M85.4 238.2h0M97.9 238.4h0M105.6 239.5h0M115.7 239.8h0M98.1 240.6h0M106.6 241.3h0M45.6 241.9h0M92.6 241.9h0M94.9 241.8h0M98.6 241.7h0M112.0 242.1h0M101.8 244.1h0M102.9 244.0h0M113.9 243.0h0M116.0 244.4h0M119.1 243.5h0M52.1 245.3h0M94.4 245.1h0M118.0 246.0h0M117.9 247.4h0M63.1 247.8h0M103.8 248.7h0M81.4 249.3h0M106.8 250.7h0M95.5 251.8h0M98.2 252.3h0M100.5 251.5h0M110.1 253.4h0M113.7 253.9h0M98.4 254.5h0M101.4 254.4h0M106.7 255.1h0M110.6 255.4h0M86.1 256.7h0M111.7 255.5h0M113.9 256.9h0M76.8 258.5h0M80.2 258.4h0M94.2 258.5h0M106.3 257.6h0M110.0 258.0h0M92.4 258.7h0M97.3 260.0h0M111.6 260.2h0M95.6 260.7h0M113.8 261.2h0M95.4 263.8h0M100.9 263.8h0M107.2 263.8h0M98.8 265.8h0M101.4 266.4h0M71.6 267.8h0M91.9 267.6h0M97.8 266.9h0M109.3 267.3h0M110.9 267.8h0M113.1 267.4h0M109.4 269.4h0M113.9 268.2h0M90.0 269.8h0M86.0 272.1h0M90.4 272.1h0M96.9 272.6h0M49.5 274.1h0M93.6 274.7h0M95.4 276.9h0M91.6 277.9h0M46.0 284.2h0" stroke="#f5fbb5"/><path d="M91.8 199.7h0M72.1 202.5h0M82.0 202.8h0M61.3 204.6h0M64.8 204.9h0M69.2 203.8h0M77.4 204.9h0M86.8 204.6h0M99.6 204.1h0M63.5 206.2h0M77.9 206.3h0M114.8 206.8h0M66.6 208.4h0M68.3 207.8h0M70.0 207.1h0M79.0 208.4h0M90.9 207.2h0M112.7 208.3h0M66.7 208.9h0M75.9 209.3h0M109.3 209.1h0M65.2 210.2h0M68.4 210.7h0M74.5 211.3h0M80.7 210.8h0M85.9 211.3h0M87.6 210.3h0M94.6 210.9h0M105.6 210.2h0M115.0 211.6h0M67.4 212.4h0M70.4 213.0h0M72.6 212.4h0M81.3 212.9h0M98.6 212.1h0M70.8 213.3h0M87.0 214.2h0M104.2 213.9h0M105.3 213.5h0M115.3 213.7h0M116.0 214.2h0M59.3 216.3h0M67.6 215.8h0M78.9 215.7h0M82.9 214.9h0M58.2 217.7h0M60.4 217.1h0M62.0 217.9h0M68.3 216.8h0M73.0 217.7h0M77.1 216.6h0M88.0 217.7h0M99.5 217.2h0M56.8 218.4h0M57.7 218.3h0M60.3 219.0h0M62.1 219.1h0M62.7 219.0h0M64.6 218.5h0M84.6 218.7h0M94.5 217.9h0M53.9 219.7h0M55.7 220.1h0M56.7 220.4h0M59.5 220.8h0M61.0 220.3h0M63.2 220.3h0M69.4 220.7h0M99.5 219.7h0M103.3 219.5h0M118.7 220.3h0M119.3 219.9h0M51.4 221.4h0M51.8 221.4h0M54.7 221.8h0M56.4 222.3h0M57.9 221.7h0M59.0 221.0h0M61.9 222.0h0M62.8 222.2h0M75.9 222.4h0M76.9 221.5h0M85.6 221.9h0M93.1 221.9h0M100.0 221.7h0M108.7 222.1h0M50.5 222.7h0M51.3 223.4h0M53.6 222.9h0M54.4 224.0h0M56.6 222.7h0M58.3 222.9h0M60.0 223.1h0M65.7 224.0h0M75.5 223.4h0M83.2 222.8h0M88.2 223.4h0M89.5 223.3h0M93.5 223.8h0M95.2 223.3h0M102.3 223.9h0M53.1 225.2h0M54.3 225.5h0M56.5 224.4h0M57.8 225.7h0M59.0 225.6h0M71.6 224.5h0M73.8 225.7h0M79.8 224.2h0M92.2 225.7h0M109.5 225.5h0M114.8 224.6h0M58.8 226.1h0M71.5 227.0h0M74.8 226.5h0M83.2 225.7h0M105.3 226.5h0M108.0 227.2h0M108.6 226.5h0M117.4 226.3h0M95.2 228.4h0M106.2 228.8h0M126.7 228.5h0M83.9 230.3h0M85.2 230.2h0M112.9 230.0h0M114.0 229.8h0M124.2 228.8h0M125.1 229.2h0M127.9 230.2h0M129.0 229.2h0M131.0 229.8h0M60.1 231.7h0M79.4 231.5h0M84.4 231.6h0M102.9 231.1h0M110.0 231.4h0M120.3 231.2h0M125.3 231.3h0M128.4 231.9h0M83.6 233.3h0M86.0 232.2h0M87.5 232.4h0M90.8 232.8h0M113.5 232.0h0M119.9 232.2h0M126.9 232.5h0M68.3 234.7h0M77.1 234.8h0M82.9 234.6h0M88.9 234.3h0M90.1 233.8h0M114.9 234.9h0M125.1 233.8h0M126.3 235.0h0M50.9 236.5h0M88.1 236.5h0M93.2 236.1h0M94.3 236.1h0M99.5 236.3h0M107.2 235.5h0M73.1 236.7h0M94.9 236.8h0M99.6 237.4h0M118.0 236.7h0M58.7 238.7h0M82.0 239.4h0M88.8 239.1h0M107.5 238.6h0M70.0 241.2h0M71.5 240.3h0M77.8 240.7h0M80.8 241.3h0M84.8 240.4h0M92.7 240.4h0M99.5 239.9h0M102.2 240.3h0M104.7 240.4h0M103.4 241.9h0M106.6 241.4h0M108.5 242.6h0M63.0 243.5h0M82.0 243.0h0M87.7 243.2h0M91.7 243.0h0M96.7 244.3h0M78.6 244.8h0M85.5 244.5h0M93.4 244.9h0M102.4 244.6h0M105.5 246.0h0M107.4 245.9h0M42.9 247.0h0M61.4 246.5h0M87.8 246.9h0M93.9 247.6h0M100.0 246.8h0M107.7 246.3h0M109.9 246.6h0M111.1 247.3h0M106.7 248.7h0M108.6 248.0h0M68.7 249.3h0M79.3 250.8h0M87.5 249.6h0M104.9 249.5h0M110.0 250.0h0M116.8 250.2h0M101.2 251.2h0M106.6 251.3h0M116.6 251.4h0M54.8 252.4h0M82.0 253.3h0M94.6 253.0h0M101.0 253.9h0M77.0 254.7h0M82.5 254.6h0M90.0 254.9h0M93.2 254.4h0M99.5 254.8h0M106.1 255.1h0M84.7 255.5h0M88.7 256.5h0M103.1 255.5h0M75.4 258.1h0M71.9 258.7h0M99.9 259.0h0M105.5 259.4h0M89.8 261.4h0M49.0 262.8h0M67.2 262.1h0M101.1 261.8h0M105.8 263.2h0M61.9 264.0h0M89.4 264.2h0M96.4 264.7h0M85.6 266.0h0M93.6 266.3h0M85.1 271.1h0M100.1 269.7h0M91.4 271.2h0M95.3 273.1h0M65.8 274.5h0M58.2 296.0h0" stroke="#ffffc4"/><path d="M90.0 200.4h0M93.2 201.6h0M82.8 203.5h0M90.8 202.8h0M104.5 203.7h0M108.6 202.4h0M65.8 204.0h0M68.5 205.2h0M73.4 204.9h0M67.7 206.8h0M69.1 205.6h0M70.2 205.4h0M72.8 206.0h0M74.9 206.0h0M83.2 205.5h0M90.0 206.9h0M110.3 205.6h0M105.9 208.2h0M63.5 208.8h0M65.8 209.0h0M80.1 209.1h0M103.1 209.2h0M112.5 209.5h0M113.4 209.5h0M116.3 209.6h0M65.0 211.1h0M77.5 210.7h0M81.9 210.2h0M83.4 210.7h0M113.2 211.0h0M74.0 211.7h0M86.5 212.5h0M93.3 211.7h0M104.1 212.8h0M67.4 214.5h0M69.8 214.7h0M75.6 214.1h0M80.8 214.3h0M85.3 213.3h0M118.5 213.6h0M86.8 214.9h0M88.4 215.5h0M103.5 216.3h0M112.5 215.4h0M64.9 217.1h0M65.4 217.5h0M71.8 217.6h0M95.0 217.4h0M105.8 217.4h0M108.1 216.5h0M108.5 216.9h0M115.8 217.0h0M67.0 218.1h0M75.8 217.9h0M79.6 218.9h0M90.3 218.8h0M91.7 217.9h0M94.9 218.8h0M114.0 218.6h0M119.7 218.5h0M68.3 219.5h0M73.2 219.9h0M75.6 220.9h0M86.0 220.0h0M113.6 219.6h0M115.9 220.6h0M91.3 221.7h0M109.9 222.2h0M111.8 222.0h0M114.1 221.6h0M70.3 223.8h0M86.4 223.4h0M113.0 223.2h0M66.5 225.4h0M70.4 224.8h0M87.3 225.1h0M94.2 224.3h0M100.7 226.7h0M104.2 226.8h0M110.5 225.9h0M116.0 225.9h0M126.6 227.1h0M70.1 228.9h0M75.9 227.4h0M79.8 228.4h0M85.4 227.7h0M88.2 228.3h0M102.3 227.5h0M105.4 228.2h0M109.9 227.6h0M113.4 228.0h0M114.7 227.7h0M128.4 228.7h0M68.6 230.3h0M88.3 229.6h0M99.1 229.9h0M103.0 230.2h0M105.9 229.3h0M119.4 230.4h0M74.7 230.5h0M77.6 231.8h0M108.1 231.4h0M130.9 231.8h0M59.5 233.0h0M61.4 232.1h0M75.5 232.1h0M77.2 233.5h0M92.7 233.4h0M125.2 232.5h0M129.2 233.4h0M87.0 234.7h0M53.7 235.8h0M66.2 236.2h0M89.8 236.6h0M96.7 236.0h0M105.0 236.1h0M115.0 236.5h0M54.9 236.9h0M65.3 236.7h0M98.1 237.5h0M46.3 239.3h0M75.4 239.4h0M81.2 238.3h0M99.8 238.3h0M109.3 238.4h0M74.6 241.2h0M76.4 239.9h0M86.3 240.2h0M93.2 239.9h0M96.1 239.8h0M76.8 242.4h0M91.5 242.6h0M85.9 243.5h0M98.8 243.9h0M117.2 244.5h0M42.2 244.8h0M71.4 245.4h0M75.5 245.2h0M80.0 244.7h0M91.4 245.5h0M96.5 245.1h0M103.7 244.6h0M113.3 244.5h0M40.6 246.3h0M45.3 247.4h0M66.4 246.9h0M86.5 246.8h0M96.3 246.8h0M52.1 248.4h0M53.6 248.1h0M82.0 248.1h0M85.9 248.4h0M91.3 247.7h0M99.9 247.8h0M113.1 248.3h0M58.3 249.9h0M72.9 249.9h0M74.2 250.0h0M83.4 250.7h0M88.9 250.7h0M113.8 250.5h0M54.5 251.3h0M59.9 252.1h0M63.1 251.6h0M67.4 252.2h0M78.2 252.1h0M111.3 252.3h0M85.2 253.9h0M115.4 252.5h0M44.1 254.6h0M91.1 254.0h0M97.0 255.0h0M103.9 255.2h0M114.8 255.0h0M67.0 256.3h0M71.6 255.5h0M76.1 255.8h0M91.5 256.0h0M94.3 256.3h0M95.7 256.7h0M96.8 256.3h0M64.5 258.0h0M82.9 257.8h0M84.4 257.4h0M93.7 258.0h0M96.7 257.1h0M104.3 258.5h0M65.8 259.1h0M88.4 259.8h0M102.6 258.8h0M78.1 261.7h0M82.3 260.7h0M90.4 260.7h0M101.8 261.6h0M104.4 260.7h0M69.4 261.9h0M81.1 262.3h0M86.8 262.8h0M89.5 262.3h0M99.4 261.7h0M105.0 264.3h0M97.4 264.9h0M75.0 268.0h0M78.7 267.6h0M96.1 267.5h0M100.2 267.5h0M68.2 268.5h0M81.5 269.1h0M85.7 268.5h0M90.7 269.1h0M95.6 268.3h0M97.7 268.0h0M67.9 271.3h0M75.5 271.5h0M88.2 271.7h0M95.3 271.9h0M80.6 274.2h0M86.0 273.8h0M83.6 275.2h0M87.2 278.8h0M74.4 279.0h0M83.2 279.1h0M90.2 279.4h0M47.0 281.3h0M90.4 283.8h0M64.2 285.4h0M51.8 289.9h0" stroke="#fff3b0"/><path d="M104.2 200.4h0M108.8 202.0h0M80.1 203.4h0M92.6 202.9h0M99.7 202.3h0M62.8 204.5h0M78.7 205.1h0M80.4 204.7h0M86.2 205.3h0M89.9 203.9h0M94.9 204.2h0M97.9 203.8h0M61.0 206.5h0M84.6 205.8h0M85.9 205.5h0M91.4 206.4h0M97.4 206.3h0M98.8 206.6h0M100.7 206.5h0M63.5 208.5h0M90.1 206.9h0M97.0 208.1h0M98.8 208.3h0M107.5 208.1h0M88.9 209.2h0M90.9 209.1h0M91.7 209.0h0M99.2 209.5h0M100.9 208.5h0M108.4 209.7h0M71.7 210.1h0M89.1 211.1h0M90.5 210.9h0M108.5 211.4h0M65.3 212.2h0M68.2 212.3h0M77.8 212.5h0M80.1 212.4h0M92.6 211.6h0M95.6 212.9h0M73.4 213.6h0M82.0 214.4h0M84.5 213.6h0M97.2 213.4h0M99.8 213.2h0M102.4 214.7h0M108.0 214.6h0M113.0 213.5h0M63.7 215.1h0M70.2 214.8h0M77.4 216.2h0M93.9 215.2h0M95.1 215.9h0M107.5 216.0h0M69.3 217.8h0M80.9 217.0h0M84.7 216.3h0M90.6 217.4h0M104.0 217.6h0M111.7 217.4h0M118.7 217.1h0M81.8 217.9h0M83.1 218.6h0M99.5 218.9h0M100.8 218.1h0M116.6 218.8h0M84.6 219.5h0M95.9 220.3h0M107.5 220.9h0M78.8 221.1h0M81.4 221.4h0M86.3 221.9h0M89.3 221.5h0M95.8 222.4h0M97.4 222.1h0M121.5 221.4h0M79.1 223.6h0M82.6 222.7h0M97.0 223.3h0M105.9 223.1h0M109.5 223.4h0M114.6 223.3h0M117.5 223.2h0M120.3 224.1h0M88.8 224.5h0M90.5 225.4h0M100.9 224.4h0M118.4 224.8h0M66.2 227.3h0M87.1 226.6h0M95.9 227.1h0M72.2 227.4h0M99.8 228.3h0M108.6 227.2h0M70.1 228.9h0M74.0 230.1h0M74.4 230.3h0M77.1 229.8h0M81.4 228.8h0M66.8 231.3h0M70.0 231.9h0M91.3 230.7h0M112.6 230.6h0M115.9 230.6h0M127.1 230.9h0M62.4 232.1h0M67.5 232.8h0M69.0 233.2h0M72.5 232.0h0M78.7 232.2h0M95.3 233.5h0M96.6 232.0h0M100.3 232.1h0M59.3 233.5h0M65.5 234.0h0M69.9 234.9h0M74.2 234.2h0M81.0 234.2h0M96.8 233.6h0M58.4 235.1h0M63.4 236.1h0M73.0 235.7h0M78.9 235.4h0M85.7 236.5h0M63.5 237.7h0M78.3 237.8h0M83.3 237.7h0M84.3 236.9h0M87.8 237.2h0M102.9 237.6h0M109.6 237.6h0M111.5 237.9h0M55.1 239.1h0M72.8 238.6h0M84.4 238.4h0M103.1 238.9h0M118.6 239.2h0M49.1 240.2h0M57.1 241.0h0M60.3 240.3h0M63.0 240.6h0M65.0 241.2h0M80.2 241.4h0M89.9 240.3h0M49.5 242.9h0M60.3 241.5h0M63.5 241.5h0M65.3 242.0h0M89.8 241.6h0M116.2 242.4h0M53.0 243.0h0M57.2 244.2h0M70.9 244.3h0M72.9 243.9h0M73.5 243.9h0M85.2 243.5h0M104.7 243.7h0M105.9 242.9h0M61.2 244.5h0M62.8 245.0h0M68.2 245.3h0M87.0 245.4h0M64.9 246.9h0M73.9 247.6h0M81.6 246.3h0M83.4 247.5h0M84.7 247.3h0M90.4 247.3h0M91.8 246.4h0M66.5 248.3h0M69.3 248.8h0M70.9 247.8h0M78.8 248.2h0M92.4 249.1h0M97.6 248.3h0M105.2 248.4h0M110.3 248.5h0M43.3 250.2h0M50.9 249.8h0M84.7 250.4h0M90.2 250.0h0M95.8 249.3h0M97.8 249.5h0M74.8 252.0h0M80.6 251.4h0M86.0 250.8h0M89.7 252.2h0M90.5 252.1h0M92.2 251.7h0M104.4 252.0h0M114.7 250.8h0M41.3 252.3h0M59.6 252.5h0M69.8 253.7h0M73.9 252.8h0M76.0 252.4h0M77.8 253.3h0M82.7 253.1h0M87.4 252.6h0M90.7 252.4h0M91.9 252.9h0M112.5 252.9h0M43.0 255.0h0M62.4 255.4h0M66.0 254.3h0M69.5 255.0h0M71.8 254.9h0M75.3 255.4h0M83.5 254.4h0M86.4 254.7h0M69.4 256.6h0M81.6 255.9h0M89.9 256.5h0M105.0 256.1h0M107.1 256.9h0M108.5 256.2h0M109.4 256.5h0M56.2 257.7h0M65.3 258.0h0M67.1 258.1h0M100.5 257.4h0M110.6 257.6h0M59.0 258.7h0M61.8 259.3h0M67.0 259.1h0M69.0 258.6h0M78.1 260.2h0M81.1 260.1h0M85.5 259.6h0M94.7 259.3h0M68.0 261.3h0M98.5 260.4h0M54.9 261.8h0M60.3 263.2h0M63.0 262.4h0M92.1 262.3h0M95.0 263.1h0M97.3 262.2h0M102.5 261.9h0M71.4 264.2h0M73.0 264.7h0M77.9 263.4h0M80.7 263.8h0M82.2 264.2h0M54.8 266.2h0M58.0 265.7h0M68.5 265.3h0M77.9 266.3h0M86.7 265.4h0M88.1 265.3h0M90.1 266.4h0M95.9 266.3h0M103.3 264.9h0M85.8 267.3h0M87.8 266.5h0M101.6 267.1h0M56.1 269.1h0M60.2 269.4h0M86.2 268.0h0M91.7 268.7h0M52.0 271.0h0M78.2 270.1h0M93.2 269.7h0M96.0 271.0h0M98.7 269.7h0M51.4 271.8h0M66.4 271.7h0M74.2 271.8h0M94.3 271.3h0M93.1 274.0h0M43.5 274.9h0M54.0 275.7h0M87.1 275.3h0M65.6 276.4h0M74.6 275.9h0M80.9 277.1h0M81.9 276.6h0M86.8 277.2h0M93.2 276.5h0M87.8 277.4h0M77.8 279.5h0M90.8 280.3h0M93.2 279.0h0M50.8 281.0h0M54.4 281.1h0M85.0 281.3h0M92.0 282.0h0M54.7 282.1h0M64.2 283.6h0M71.1 283.4h0M77.3 282.6h0M85.9 283.3h0M60.6 286.3h0M71.1 285.5h0M86.1 285.8h0M71.8 287.3h0M83.9 287.7h0M73.0 289.9h0M60.2 293.0h0M79.3 293.0h0M77.7 294.4h0M73.8 296.6h0" stroke="#fee79c"/><path d="M95.5 200.6h0M83.5 202.1h0M98.7 201.2h0M108.0 201.9h0M70.8 202.5h0M77.4 202.9h0M85.3 203.4h0M98.1 203.5h0M93.3 205.1h0M81.0 205.4h0M102.4 206.6h0M63.0 207.1h0M77.1 207.0h0M86.2 207.2h0M99.8 208.0h0M72.9 209.2h0M85.1 210.0h0M95.4 209.7h0M97.1 211.0h0M99.5 210.9h0M82.6 212.8h0M84.8 211.8h0M109.7 212.2h0M64.6 214.2h0M98.6 214.6h0M65.5 216.2h0M68.2 215.8h0M98.9 216.0h0M101.3 215.1h0M118.4 215.1h0M86.4 217.1h0M93.6 216.5h0M104.9 219.3h0M94.1 220.9h0M102.6 221.0h0M111.3 219.9h0M65.1 221.4h0M70.2 221.7h0M77.4 223.8h0M111.6 223.7h0M97.8 225.8h0M64.9 227.7h0M66.7 228.7h0M64.7 230.1h0M71.3 230.2h0M80.8 229.5h0M91.8 229.4h0M96.3 230.4h0M61.3 231.9h0M72.7 230.9h0M90.3 231.7h0M93.4 230.4h0M117.0 231.3h0M56.1 234.5h0M66.4 233.9h0M79.3 234.0h0M91.5 234.2h0M54.7 235.4h0M60.0 235.2h0M63.1 236.6h0M70.8 235.7h0M79.6 236.6h0M97.7 235.7h0M52.2 237.5h0M60.2 237.5h0M62.1 238.1h0M67.3 237.9h0M79.0 237.9h0M50.0 239.6h0M61.3 238.4h0M65.3 239.3h0M69.6 238.7h0M70.7 239.1h0M77.1 238.4h0M79.2 239.8h0M91.5 239.2h0M95.8 238.3h0M101.5 238.7h0M112.6 239.4h0M45.0 240.2h0M67.4 240.8h0M68.4 240.7h0M88.7 240.6h0M54.1 241.8h0M54.6 241.8h0M62.2 242.4h0M69.8 241.8h0M73.7 241.9h0M80.1 241.7h0M83.8 242.6h0M86.1 242.6h0M96.3 242.2h0M55.5 243.9h0M64.7 243.6h0M66.2 244.0h0M68.4 243.4h0M75.3 243.9h0M79.4 243.7h0M40.8 245.1h0M49.7 245.8h0M52.9 245.3h0M76.4 246.0h0M84.0 244.7h0M47.2 246.9h0M48.8 246.5h0M51.8 246.0h0M54.8 246.3h0M57.4 247.6h0M70.7 247.0h0M76.6 246.1h0M100.9 247.1h0M106.0 247.6h0M73.5 248.4h0M83.8 248.5h0M54.8 249.7h0M60.4 250.0h0M67.3 249.6h0M77.5 249.7h0M38.7 250.8h0M56.4 252.1h0M63.9 251.0h0M72.8 251.6h0M81.8 251.4h0M88.1 252.2h0M56.7 252.6h0M62.5 252.3h0M72.7 252.7h0M79.4 253.5h0M104.3 253.5h0M108.9 253.3h0M52.0 254.2h0M56.3 254.1h0M87.1 254.9h0M94.4 255.1h0M38.2 256.7h0M50.7 255.6h0M56.7 256.6h0M74.7 255.8h0M78.8 255.8h0M83.1 256.7h0M38.8 258.3h0M54.1 257.9h0M61.0 257.6h0M62.3 257.5h0M68.8 258.3h0M73.4 257.7h0M85.3 257.0h0M89.8 258.1h0M90.7 257.4h0M46.8 259.2h0M75.2 259.4h0M86.1 259.0h0M96.2 259.9h0M101.7 258.7h0M63.2 261.0h0M64.6 260.2h0M69.0 260.7h0M75.2 260.8h0M80.5 261.0h0M83.8 261.1h0M86.0 260.6h0M88.4 261.1h0M105.3 261.3h0M65.3 261.8h0M72.5 262.5h0M93.3 262.0h0M65.4 264.0h0M83.8 263.5h0M92.4 264.8h0M50.5 266.1h0M59.2 265.4h0M66.2 265.0h0M73.3 265.2h0M81.8 266.4h0M73.6 267.8h0M76.7 268.0h0M90.2 267.7h0M48.4 268.7h0M50.0 268.3h0M61.5 268.9h0M66.6 268.8h0M72.9 268.1h0M78.3 269.0h0M79.5 269.4h0M94.7 269.5h0M101.8 268.6h0M63.9 270.1h0M66.0 270.9h0M73.0 269.7h0M82.9 270.2h0M84.2 269.8h0M70.5 271.4h0M79.0 272.2h0M82.3 271.7h0M47.3 273.0h0M56.7 273.1h0M58.1 273.7h0M77.2 273.1h0M84.5 272.7h0M91.0 273.7h0M96.6 273.1h0M50.4 275.6h0M71.8 274.7h0M73.5 274.6h0M79.7 274.3h0M90.9 274.7h0M92.3 275.6h0M94.9 274.5h0M91.6 276.6h0M74.4 278.7h0M76.3 278.3h0M80.0 278.6h0M83.1 277.8h0M90.3 278.6h0M65.3 280.5h0M70.0 279.0h0M71.9 280.5h0M73.7 280.0h0M87.9 279.5h0M80.2 282.0h0M87.0 280.5h0M67.5 283.3h0M80.3 282.9h0M90.1 283.6h0M66.9 284.8h0M78.5 284.5h0M80.3 284.7h0M74.5 285.9h0M84.4 285.4h0M87.5 286.4h0M49.3 291.3h0M59.6 289.9h0M81.7 290.5h0M54.1 292.2h0M75.6 293.1h0M72.8 295.0h0M76.2 297.2h0" stroke="#fed78b"/><path d="M93.4 200.1h0M102.0 201.6h0M103.6 202.1h0M66.4 202.4h0M89.0 206.2h0M113.5 206.0h0M94.8 207.7h0M101.7 207.7h0M83.5 209.3h0M87.4 209.4h0M93.2 209.6h0M63.2 210.7h0M73.9 211.2h0M116.5 211.3h0M98.1 212.5h0M105.9 212.2h0M114.0 211.7h0M79.0 214.4h0M75.0 217.5h0M107.3 218.7h0M76.1 219.6h0M87.6 219.9h0M71.9 223.0h0M73.9 223.2h0M105.1 225.0h0M117.5 224.2h0M67.9 226.0h0M70.4 226.8h0M76.8 227.2h0M91.1 226.2h0M93.5 226.6h0M120.9 227.9h0M71.6 232.1h0M57.3 234.4h0M60.9 233.6h0M106.6 234.2h0M57.3 235.9h0M77.4 236.0h0M83.8 236.1h0M50.3 238.1h0M70.7 237.8h0M51.3 238.6h0M54.0 239.0h0M61.9 238.7h0M64.4 238.7h0M87.0 238.6h0M93.5 239.2h0M52.8 240.2h0M56.6 241.2h0M60.8 240.5h0M83.3 241.0h0M50.9 242.7h0M67.5 242.7h0M79.0 242.7h0M87.3 241.5h0M110.4 242.5h0M54.4 243.0h0M59.8 243.0h0M77.8 244.0h0M45.7 244.9h0M48.4 245.1h0M55.2 245.2h0M69.7 245.6h0M42.1 246.5h0M50.7 247.1h0M60.3 246.8h0M63.5 246.2h0M68.3 249.1h0M76.4 248.9h0M87.6 249.2h0M39.4 249.3h0M42.4 250.7h0M56.3 250.3h0M63.7 249.8h0M64.9 249.7h0M69.9 249.5h0M75.9 249.5h0M41.6 250.9h0M43.9 251.7h0M48.6 252.3h0M51.3 251.7h0M58.2 252.2h0M77.2 250.7h0M84.6 251.4h0M65.7 252.3h0M66.2 252.4h0M87.7 252.6h0M99.2 253.2h0M39.0 254.5h0M49.6 254.5h0M44.0 257.0h0M45.1 256.1h0M46.5 256.9h0M58.0 256.7h0M61.0 256.2h0M70.2 256.3h0M40.9 258.6h0M43.0 257.7h0M47.5 257.8h0M49.0 258.2h0M72.1 257.2h0M38.8 259.8h0M40.7 259.0h0M58.3 259.1h0M70.7 259.9h0M90.8 259.2h0M50.3 260.5h0M53.7 260.5h0M54.6 260.5h0M57.5 261.0h0M59.3 261.5h0M60.9 261.0h0M72.2 260.4h0M76.9 261.5h0M50.5 261.9h0M57.6 261.8h0M62.1 262.1h0M75.7 262.2h0M83.6 262.1h0M85.0 262.6h0M60.1 263.8h0M77.0 263.6h0M86.0 263.5h0M91.0 263.4h0M102.2 263.8h0M39.7 265.4h0M43.9 265.1h0M45.7 266.4h0M52.4 265.8h0M63.5 266.4h0M70.0 266.3h0M73.0 265.7h0M91.6 266.1h0M40.0 267.2h0M50.6 266.4h0M61.3 267.1h0M69.1 267.9h0M82.9 266.9h0M94.0 266.8h0M39.5 268.1h0M41.2 269.5h0M64.4 268.5h0M70.3 269.4h0M73.7 268.5h0M62.2 271.1h0M67.6 270.8h0M57.4 271.3h0M63.2 271.7h0M72.1 272.1h0M81.1 271.6h0M100.0 271.4h0M55.8 274.2h0M70.6 274.3h0M72.7 273.6h0M87.7 272.8h0M98.1 274.0h0M48.7 274.8h0M59.8 275.3h0M69.2 275.8h0M75.6 274.7h0M52.3 276.3h0M64.2 276.7h0M69.7 276.4h0M78.0 276.1h0M86.2 275.9h0M46.5 278.4h0M68.3 278.8h0M70.2 278.7h0M80.8 277.6h0M84.6 278.5h0M93.5 277.7h0M45.4 279.3h0M56.0 280.4h0M56.3 279.5h0M67.3 279.8h0M77.2 280.3h0M82.7 280.0h0M61.8 282.0h0M64.9 281.7h0M68.6 281.5h0M73.0 281.1h0M83.4 280.9h0M90.3 281.3h0M51.3 282.7h0M62.0 282.8h0M83.9 282.6h0M73.6 284.6h0M80.7 284.8h0M87.8 284.4h0M57.2 286.1h0M67.8 286.2h0M76.2 286.1h0M82.9 286.3h0M54.9 288.3h0M58.4 288.3h0M59.5 288.0h0M63.8 287.9h0M65.1 286.8h0M79.4 288.3h0M55.0 289.1h0M56.9 288.8h0M79.1 289.4h0M65.5 290.9h0M58.3 292.7h0M62.8 291.6h0M74.8 292.7h0M77.5 292.0h0M52.0 293.1h0M73.0 294.1h0M78.9 293.2h0M75.3 295.9h0M77.3 295.2h0M61.8 298.4h0M71.4 299.0h0" stroke="#fdc47b"/><path d="M91.1 204.6h0M95.0 206.1h0M90.6 216.2h0M69.5 218.7h0M89.4 219.8h0M74.4 222.1h0M68.5 224.0h0M106.0 224.3h0M63.6 233.5h0M62.6 234.8h0M90.4 236.6h0M75.9 237.0h0M46.4 240.1h0M51.0 240.4h0M44.4 241.4h0M71.1 242.5h0M45.5 243.5h0M57.7 245.2h0M59.2 245.9h0M64.8 244.9h0M55.3 247.4h0M68.2 247.0h0M77.8 246.1h0M40.8 249.2h0M49.7 248.3h0M54.8 248.4h0M58.3 247.8h0M61.9 250.2h0M49.7 251.9h0M71.7 252.1h0M43.9 252.8h0M48.3 254.9h0M68.2 254.0h0M80.8 254.1h0M40.7 256.2h0M54.0 256.1h0M63.5 257.0h0M58.4 257.8h0M77.9 257.1h0M43.8 259.9h0M53.9 258.7h0M63.2 260.0h0M73.9 259.4h0M78.9 259.6h0M83.4 259.0h0M38.5 261.1h0M48.4 261.0h0M72.6 260.3h0M96.3 261.6h0M41.2 262.0h0M47.8 263.2h0M71.2 262.4h0M73.4 262.9h0M44.6 264.8h0M45.6 264.4h0M51.0 264.6h0M67.6 263.4h0M74.3 264.4h0M87.8 263.4h0M98.4 264.7h0M104.2 264.2h0M42.1 266.9h0M48.4 266.5h0M57.6 267.2h0M58.1 268.0h0M65.7 267.2h0M67.2 266.6h0M83.2 267.6h0M92.7 267.4h0M43.8 268.6h0M47.5 269.0h0M52.0 268.9h0M75.6 269.3h0M88.5 268.5h0M45.0 270.1h0M57.7 269.7h0M60.4 270.1h0M71.0 269.6h0M75.3 271.1h0M81.1 269.9h0M94.2 270.5h0M44.9 272.3h0M47.2 272.3h0M53.8 271.2h0M61.8 271.9h0M77.4 271.1h0M84.2 271.5h0M51.7 273.9h0M59.9 272.7h0M64.8 274.0h0M65.4 274.0h0M69.4 272.9h0M82.6 273.4h0M90.0 273.4h0M56.6 275.4h0M60.7 274.8h0M71.2 275.1h0M77.7 275.8h0M81.9 275.2h0M85.4 274.5h0M89.0 274.8h0M46.1 276.4h0M50.0 276.7h0M57.1 276.5h0M59.2 277.0h0M60.0 275.9h0M62.9 277.0h0M48.5 277.9h0M50.1 277.4h0M54.5 277.9h0M55.3 278.1h0M64.5 279.0h0M72.5 277.8h0M62.8 280.1h0M80.3 279.1h0M48.7 281.2h0M51.9 281.2h0M63.7 282.1h0M66.6 281.3h0M73.7 280.6h0M76.6 281.8h0M81.4 280.7h0M50.4 282.2h0M57.3 282.4h0M59.5 282.7h0M60.7 282.9h0M75.4 283.5h0M87.8 282.5h0M52.8 284.5h0M58.7 283.9h0M59.9 284.3h0M63.6 284.6h0M69.0 284.9h0M75.5 283.9h0M61.8 286.6h0M79.7 286.7h0M67.1 288.1h0M86.7 287.3h0M58.5 288.6h0M65.0 289.8h0M66.8 289.6h0M69.7 288.9h0M71.7 288.9h0M72.7 289.2h0M54.1 291.3h0M56.0 291.4h0M66.4 290.8h0M71.2 291.3h0M78.1 290.6h0M60.7 294.0h0M51.4 294.7h0M56.6 295.4h0M65.2 294.6h0M61.2 299.3h0M73.9 298.4h0" stroke="#fcaf6b"/><path d="M86.9 202.7h0M88.6 216.8h0M66.0 233.5h0M75.2 235.6h0M56.0 237.6h0M48.7 239.6h0M56.8 239.2h0M67.7 239.1h0M54.8 240.9h0M59.6 241.8h0M42.3 243.2h0M43.2 244.5h0M46.9 243.5h0M49.5 244.2h0M62.2 243.1h0M44.8 245.2h0M72.4 247.3h0M61.3 248.0h0M63.8 248.0h0M44.9 250.2h0M46.6 249.9h0M48.2 250.4h0M43.3 251.3h0M46.1 251.8h0M52.8 250.8h0M45.8 252.9h0M48.9 252.5h0M53.2 252.3h0M61.8 252.4h0M68.2 253.8h0M54.0 254.7h0M56.0 254.2h0M59.1 254.5h0M60.7 255.3h0M64.4 254.8h0M73.6 254.2h0M78.7 254.8h0M48.4 257.0h0M46.2 258.4h0M50.9 259.2h0M66.5 261.1h0M56.6 263.0h0M77.0 263.3h0M49.0 264.6h0M52.8 263.8h0M55.9 264.0h0M61.7 266.3h0M76.5 265.5h0M79.4 266.4h0M44.4 267.2h0M52.2 267.2h0M53.5 267.8h0M64.1 267.2h0M80.2 267.3h0M58.2 268.9h0M63.8 268.5h0M83.3 269.4h0M41.9 270.6h0M52.8 270.1h0M41.8 272.4h0M43.6 271.4h0M49.2 271.4h0M56.6 271.4h0M64.8 271.7h0M43.1 273.0h0M46.8 273.2h0M68.2 273.7h0M75.3 274.2h0M78.4 272.9h0M44.7 275.5h0M62.9 275.5h0M54.0 277.4h0M71.6 277.1h0M72.6 276.7h0M89.9 276.9h0M43.6 278.6h0M45.4 278.4h0M61.6 277.6h0M63.5 278.9h0M67.5 278.7h0M60.3 280.2h0M65.0 279.3h0M46.1 281.8h0M57.9 281.3h0M78.4 280.5h0M89.1 281.5h0M46.6 282.3h0M78.0 282.2h0M81.9 282.9h0M90.4 282.4h0M54.3 285.2h0M64.6 285.0h0M70.6 284.3h0M83.3 285.2h0M85.9 283.7h0M49.4 285.8h0M52.9 286.3h0M54.9 286.0h0M58.7 286.7h0M66.7 285.5h0M70.2 286.6h0M79.2 286.7h0M50.5 288.1h0M53.1 287.4h0M56.9 287.1h0M61.8 287.1h0M68.9 288.2h0M73.4 287.0h0M77.3 287.4h0M80.5 287.8h0M84.8 287.1h0M62.5 288.7h0M68.4 289.4h0M76.8 289.6h0M61.5 290.0h0M74.3 291.3h0M80.2 291.4h0M51.0 293.0h0M57.2 292.7h0M64.4 291.5h0M68.9 292.3h0M72.1 291.8h0M54.4 293.2h0M58.7 293.6h0M67.7 293.1h0M68.1 294.6h0M54.0 294.8h0M63.1 295.6h0M70.1 295.7h0M56.8 296.3h0M65.8 297.7h0M70.9 297.0h0M72.1 297.3h0M57.3 299.7h0M64.3 300.0h0M71.7 300.3h0M73.6 300.3h0M64.4 301.5h0" stroke="#f99760"/><path d="M68.3 236.3h0M69.2 236.7h0M56.4 242.3h0M66.3 244.8h0M44.6 248.6h0M48.3 248.4h0M56.9 248.7h0M75.6 248.1h0M80.5 248.8h0M38.2 250.4h0M66.8 252.2h0M47.3 252.5h0M46.6 254.6h0M41.2 257.0h0M59.7 256.3h0M65.1 256.6h0M78.3 256.1h0M43.7 258.2h0M41.8 258.9h0M44.7 258.7h0M48.6 259.5h0M44.8 261.1h0M50.9 260.4h0M93.4 261.3h0M39.7 262.6h0M45.7 262.7h0M52.4 262.1h0M40.3 264.2h0M43.3 264.1h0M57.1 264.1h0M64.5 264.3h0M46.9 265.1h0M65.5 265.9h0M55.2 267.7h0M63.0 267.8h0M54.8 269.1h0M54.7 270.3h0M58.9 271.0h0M70.4 270.2h0M77.0 270.6h0M53.0 272.6h0M45.0 274.1h0M53.6 274.1h0M62.8 273.2h0M47.4 275.1h0M51.9 275.4h0M58.3 275.6h0M67.1 274.5h0M42.2 276.3h0M47.8 276.5h0M83.4 277.3h0M57.3 278.5h0M47.9 279.7h0M53.6 280.5h0M59.4 279.0h0M85.7 280.5h0M56.0 281.9h0M69.7 281.9h0M53.0 283.3h0M70.4 282.1h0M72.7 282.4h0M51.2 283.8h0M56.0 284.2h0M61.0 285.2h0M71.8 285.2h0M49.5 287.1h0M49.0 289.2h0M51.4 289.3h0M75.7 289.3h0M82.1 289.3h0M57.4 291.4h0M63.6 291.3h0M76.7 291.1h0M66.4 291.7h0M68.5 291.6h0M73.9 292.3h0M55.5 295.0h0M57.8 296.7h0M62.2 296.3h0M63.7 298.2h0M59.7 299.7h0M61.8 300.6h0M64.1 300.8h0M58.5 301.8h0M68.0 301.8h0M70.3 301.8h0M72.7 301.2h0M65.3 302.5h0" stroke="#f67e54"/><path d="M71.8 208.0h0M47.6 242.7h0M43.2 248.3h0M46.9 248.3h0M52.3 249.4h0M40.7 253.7h0M50.5 253.4h0M40.5 255.2h0M50.9 258.0h0M52.4 259.3h0M40.0 261.6h0M42.0 260.7h0M43.0 263.0h0M80.0 261.7h0M47.6 263.9h0M59.0 264.5h0M41.3 265.2h0M56.3 266.4h0M83.3 265.2h0M45.2 269.5h0M40.9 271.1h0M45.7 270.8h0M47.5 270.6h0M59.3 271.5h0M54.5 276.4h0M77.5 277.5h0M44.7 279.6h0M49.5 280.2h0M51.6 280.3h0M60.4 281.1h0M66.1 283.2h0M47.7 284.0h0M48.8 284.7h0M84.3 284.1h0M51.4 285.7h0M46.7 287.2h0M70.0 287.4h0M75.3 287.9h0M69.2 290.9h0M55.2 291.7h0M63.2 293.1h0M65.5 293.8h0M69.7 293.5h0M73.6 293.1h0M58.0 299.2h0M68.6 298.1h0M70.3 297.7h0M69.3 300.5h0M70.0 300.6h0M65.9 301.8h0" stroke="#ec6649"/><path d="M66.4 229.9h0M53.2 256.2h0M55.3 257.7h0M55.4 259.3h0M46.7 260.8h0M38.9 264.8h0M49.5 265.9h0M46.9 267.9h0M49.7 270.7h0M67.3 277.1h0M76.0 276.0h0M52.0 277.9h0M48.3 282.7h0M48.7 286.3h0M72.6 286.1h0M60.9 288.5h0M81.1 288.6h0M50.9 293.1h0M55.6 293.2h0M61.4 295.9h0M67.5 294.8h0M70.7 294.9h0M54.0 296.2h0M67.3 297.4h0M57.0 299.3h0M66.5 297.8h0M66.4 299.5h0" stroke="#e14f3f"/><path d="M44.7 276.3h0M59.0 277.4h0M54.1 288.4h0M50.2 290.5h0M59.2 294.4h0M64.5 296.0h0M59.6 296.7h0M63.5 297.0h0M68.2 296.3h0M60.6 301.5h0M62.9 301.6h0" stroke="#d33938"/></g><g stroke-width="2.00" stroke-linecap="round" fill="none"><path d="M279.9 250.4h0M285.0 251.9h0" stroke="#62b5b4"/><path d="M212.7 201.9h0M278.7 248.8h0M280.7 248.9h0M275.8 249.5h0M286.6 249.9h0M231.0 252.9h0M275.6 253.1h0M283.1 253.4h0M280.9 258.7h0" stroke="#78c9ac"/><path d="M222.1 202.9h0M214.7 209.8h0M218.7 209.3h0M222.0 209.6h0M237.4 237.2h0M273.7 244.1h0M282.1 244.2h0M233.8 245.7h0M277.3 245.4h0M283.0 244.7h0M225.2 247.4h0M281.4 246.0h0M283.7 246.6h0M226.4 248.7h0M272.1 247.6h0M275.4 249.0h0M278.2 248.7h0M282.8 248.8h0M274.3 250.1h0M278.5 250.6h0M282.2 250.0h0M225.3 252.1h0M249.9 251.9h0M276.8 250.9h0M280.6 250.8h0M225.5 252.5h0M279.7 253.0h0M280.8 254.3h0M283.5 253.8h0M237.8 256.2h0M282.1 257.0h0" stroke="#92d3ac"/><path d="M218.3 207.5h0M212.0 213.4h0M288.9 228.6h0M286.6 228.9h0M289.9 229.1h0M235.1 230.8h0M239.0 231.8h0M289.2 234.2h0M271.6 237.1h0M237.8 239.1h0M270.9 239.0h0M287.6 239.5h0M231.7 239.8h0M220.2 242.0h0M235.3 242.0h0M286.1 241.9h0M232.1 243.4h0M280.4 243.7h0M284.3 243.5h0M286.6 243.4h0M219.1 244.5h0M275.0 244.6h0M285.1 246.0h0M286.5 244.8h0M279.1 246.2h0M285.1 246.2h0M288.1 246.3h0M223.8 248.6h0M228.7 248.0h0M234.1 247.7h0M235.9 248.5h0M284.9 248.3h0M286.3 248.4h0M287.9 248.5h0M211.1 249.2h0M213.8 250.4h0M226.5 249.6h0M270.1 250.4h0M284.1 249.7h0M285.7 249.5h0M213.4 251.3h0M229.7 250.9h0M231.8 251.7h0M279.9 251.9h0M282.2 251.3h0M286.6 250.8h0M213.9 252.5h0M217.2 253.7h0M218.2 253.2h0M222.6 253.3h0M266.3 252.2h0M272.9 252.2h0M276.1 252.4h0M278.1 252.9h0M281.6 252.4h0M285.2 253.1h0M209.4 254.1h0M215.0 255.0h0M233.3 254.7h0M245.5 254.1h0M252.1 253.8h0M273.9 254.2h0M284.9 253.8h0M218.9 255.5h0M221.2 256.3h0M222.9 256.2h0M271.6 255.7h0M272.5 256.1h0M276.8 255.6h0M222.2 258.2h0M230.8 258.1h0M275.0 257.5h0M268.8 258.5h0M233.6 261.3h0M236.9 260.5h0M271.0 260.9h0M277.9 260.2h0M215.2 263.0h0M230.6 262.8h0M215.6 263.3h0M276.6 268.5h0M232.9 270.5h0M226.4 297.5h0M230.2 299.8h0" stroke="#acdeab"/><path d="M216.6 202.7h0M237.1 203.6h0M207.4 204.3h0M234.0 205.7h0M238.1 206.1h0M220.6 207.0h0M237.8 208.4h0M216.5 208.7h0M226.6 209.4h0M207.7 216.1h0M229.7 215.9h0M209.3 218.4h0M224.2 221.3h0M231.3 222.3h0M237.4 221.5h0M291.0 221.8h0M226.9 223.8h0M222.9 225.8h0M261.1 225.7h0M238.2 228.3h0M233.5 230.8h0M247.1 230.7h0M236.2 233.4h0M237.9 232.1h0M240.1 233.5h0M252.6 236.1h0M280.6 236.5h0M282.3 235.7h0M224.1 237.0h0M225.7 237.7h0M232.0 237.7h0M235.1 238.0h0M249.5 237.4h0M260.4 238.1h0M277.7 236.6h0M280.5 237.7h0M231.1 238.8h0M247.4 238.4h0M277.6 239.3h0M283.0 239.3h0M216.9 240.1h0M219.2 240.5h0M221.3 239.9h0M222.3 240.5h0M226.6 239.9h0M228.2 241.2h0M233.4 240.1h0M236.6 240.9h0M276.0 239.9h0M278.1 240.6h0M279.5 240.5h0M224.0 242.9h0M231.2 242.8h0M232.9 241.4h0M241.5 241.6h0M246.1 242.2h0M276.5 241.7h0M283.0 242.4h0M219.3 243.9h0M226.0 244.1h0M228.6 243.2h0M257.2 242.9h0M275.2 243.8h0M276.9 243.2h0M279.0 244.2h0M211.4 244.6h0M212.7 245.0h0M214.6 244.7h0M218.5 245.3h0M222.4 245.9h0M226.4 245.9h0M238.3 244.8h0M274.2 245.3h0M279.0 245.6h0M288.8 244.6h0M219.5 247.6h0M221.4 247.2h0M231.9 246.9h0M236.9 246.0h0M240.0 246.0h0M257.6 246.1h0M271.1 247.0h0M276.7 246.4h0M280.6 246.7h0M220.9 248.5h0M225.4 248.8h0M238.0 248.2h0M241.9 248.9h0M243.8 247.7h0M268.0 249.1h0M273.3 248.2h0M217.7 250.4h0M227.8 250.2h0M229.0 249.9h0M238.1 250.6h0M240.6 249.5h0M248.4 249.5h0M257.8 249.3h0M272.7 249.3h0M218.2 251.9h0M227.1 251.4h0M230.7 251.1h0M233.8 252.2h0M235.9 251.2h0M251.7 252.2h0M267.1 252.1h0M273.5 250.7h0M275.1 251.2h0M209.3 253.5h0M211.9 252.7h0M225.1 253.7h0M228.2 253.2h0M234.0 253.3h0M244.9 252.9h0M246.5 252.4h0M255.0 252.2h0M257.1 252.4h0M264.6 252.6h0M271.5 253.8h0M220.6 254.2h0M227.4 254.7h0M237.9 254.5h0M251.1 254.4h0M266.3 254.4h0M268.7 254.8h0M269.8 254.5h0M277.7 254.0h0M280.1 255.2h0M211.8 256.5h0M227.8 256.8h0M238.3 256.3h0M275.0 256.6h0M279.5 256.0h0M283.8 255.9h0M212.7 257.0h0M215.1 257.4h0M216.9 257.1h0M220.3 258.3h0M232.1 257.2h0M238.5 257.0h0M252.3 257.8h0M271.8 258.2h0M273.3 257.4h0M285.0 258.1h0M216.9 258.5h0M221.0 258.5h0M222.8 260.0h0M224.5 259.9h0M225.8 258.9h0M238.5 260.0h0M240.5 259.6h0M254.0 260.1h0M262.4 259.2h0M220.4 260.7h0M240.8 260.3h0M252.6 260.5h0M253.4 261.0h0M265.5 261.4h0M242.3 262.2h0M265.5 262.6h0M272.4 262.3h0M278.5 263.2h0M284.3 263.1h0M241.4 264.5h0M264.1 263.7h0M281.5 263.8h0M212.0 265.3h0M214.7 265.7h0M218.2 264.8h0M224.1 265.9h0M235.4 265.8h0M247.9 266.0h0M249.6 265.5h0M258.1 265.3h0M237.8 267.9h0M256.2 267.1h0M269.2 267.4h0M276.4 267.7h0M213.6 269.0h0M220.4 268.0h0M238.0 268.2h0M242.0 268.3h0M271.8 268.6h0M228.7 270.8h0M214.8 272.0h0M216.7 271.0h0M234.6 272.0h0M243.9 271.5h0M267.0 272.2h0M214.0 272.9h0M216.4 273.0h0M248.7 273.4h0M265.3 274.0h0M219.3 277.1h0M214.3 277.3h0M226.6 277.6h0M239.4 277.6h0M230.4 279.1h0M223.3 282.6h0M231.2 282.1h0M242.1 283.6h0M228.2 294.2h0M237.4 297.1h0M238.4 297.0h0M244.3 296.2h0" stroke="#c4e7a8"/><path d="M212.5 199.3h0M238.0 204.5h0M213.6 206.0h0M232.9 207.4h0M209.8 209.0h0M213.8 208.4h0M206.3 211.3h0M211.2 210.4h0M241.9 210.9h0M222.9 212.8h0M222.9 213.7h0M224.8 213.6h0M239.9 214.6h0M212.3 215.1h0M217.7 215.2h0M228.5 216.0h0M233.8 215.4h0M217.4 217.8h0M227.3 216.5h0M230.4 219.0h0M241.2 219.3h0M284.5 218.5h0M220.5 220.2h0M223.6 220.4h0M226.8 220.2h0M229.5 220.9h0M236.1 220.2h0M227.9 222.4h0M235.3 222.0h0M224.7 223.5h0M246.1 222.9h0M224.0 225.5h0M225.6 224.5h0M237.4 225.1h0M242.2 225.5h0M274.3 225.2h0M284.0 224.3h0M226.4 225.9h0M236.3 226.7h0M269.3 226.3h0M278.5 226.3h0M289.9 226.3h0M236.2 227.6h0M285.0 227.7h0M232.8 229.5h0M251.1 230.0h0M272.4 229.0h0M252.2 231.0h0M255.1 231.3h0M264.3 231.7h0M240.4 232.9h0M246.3 233.0h0M249.8 233.3h0M284.5 233.4h0M289.0 232.5h0M224.7 234.6h0M226.6 233.8h0M229.5 234.7h0M232.7 233.7h0M234.5 234.0h0M243.0 234.9h0M246.4 234.8h0M251.2 233.7h0M257.0 234.0h0M273.6 234.5h0M282.0 234.0h0M229.5 236.1h0M234.6 235.7h0M237.9 236.0h0M246.3 235.1h0M277.7 236.5h0M279.5 236.0h0M288.2 236.4h0M223.2 237.7h0M233.7 237.5h0M239.8 237.7h0M268.9 238.0h0M272.2 236.7h0M275.2 238.1h0M283.5 237.0h0M224.6 239.3h0M229.5 239.5h0M231.8 239.4h0M233.9 239.1h0M240.2 238.1h0M241.2 238.8h0M248.3 238.6h0M261.7 239.4h0M271.8 239.0h0M274.5 239.6h0M281.7 238.9h0M285.0 238.6h0M286.2 239.2h0M224.8 241.2h0M235.1 240.7h0M238.4 239.7h0M248.3 240.8h0M248.9 239.7h0M253.6 240.2h0M254.4 240.2h0M256.6 240.3h0M261.4 240.7h0M263.9 240.7h0M266.2 240.7h0M267.5 241.0h0M283.7 240.0h0M286.0 240.6h0M287.0 240.1h0M220.9 242.8h0M225.7 241.9h0M228.4 241.5h0M238.5 241.9h0M243.1 242.0h0M251.9 241.3h0M256.5 242.3h0M259.7 242.3h0M267.8 241.5h0M277.4 241.7h0M280.0 241.4h0M285.1 241.3h0M212.1 243.3h0M214.8 244.0h0M216.7 243.4h0M220.7 244.2h0M222.9 243.9h0M224.3 244.3h0M230.2 243.6h0M236.9 244.1h0M242.8 243.6h0M259.2 243.9h0M269.7 243.4h0M271.8 243.4h0M286.1 242.9h0M224.9 244.7h0M231.0 245.8h0M232.0 245.3h0M239.2 245.4h0M243.3 244.6h0M245.2 246.0h0M252.7 245.7h0M259.5 245.8h0M267.3 245.3h0M267.9 245.0h0M280.3 244.7h0M210.4 246.0h0M212.9 246.1h0M214.6 246.9h0M221.9 247.2h0M227.5 246.0h0M229.7 247.4h0M233.5 247.5h0M235.9 247.3h0M246.2 247.4h0M263.5 247.2h0M266.0 247.0h0M268.1 247.6h0M273.4 246.7h0M274.3 246.4h0M213.2 248.4h0M220.4 248.7h0M231.1 248.7h0M232.7 248.3h0M245.1 248.9h0M247.0 247.6h0M258.3 248.6h0M261.1 247.6h0M270.9 248.7h0M210.7 250.3h0M215.5 249.1h0M219.7 249.7h0M232.0 249.7h0M234.0 250.7h0M242.7 249.9h0M244.2 250.5h0M249.5 249.3h0M263.3 249.5h0M209.2 250.8h0M215.0 252.0h0M222.9 250.7h0M241.2 251.1h0M244.6 251.3h0M253.7 252.2h0M255.5 251.0h0M260.1 251.5h0M263.5 251.1h0M272.3 251.8h0M220.4 252.3h0M230.4 252.6h0M234.8 253.6h0M236.3 253.4h0M239.2 253.6h0M242.5 253.6h0M253.1 253.5h0M270.1 253.5h0M212.4 253.9h0M216.1 255.0h0M217.6 254.8h0M221.4 254.5h0M223.6 254.8h0M224.6 255.3h0M228.8 253.8h0M236.5 255.3h0M240.1 254.6h0M256.0 253.8h0M264.5 254.5h0M275.3 253.9h0M215.9 255.5h0M224.5 255.5h0M226.7 256.6h0M231.8 255.4h0M234.0 256.4h0M250.0 256.0h0M251.5 255.5h0M253.1 255.4h0M256.9 256.4h0M259.2 256.4h0M278.4 255.7h0M281.5 255.3h0M218.5 257.5h0M225.4 257.4h0M234.6 257.4h0M245.6 257.4h0M246.9 256.9h0M256.2 257.3h0M260.9 258.0h0M263.6 257.4h0M265.6 258.1h0M278.8 258.5h0M280.3 258.0h0M211.7 258.6h0M227.2 258.8h0M231.2 259.3h0M234.2 259.8h0M235.8 259.3h0M244.6 259.0h0M248.0 259.9h0M254.3 258.5h0M267.1 259.7h0M271.9 260.1h0M274.5 258.9h0M285.1 260.0h0M207.3 260.7h0M210.4 260.6h0M213.0 261.5h0M221.6 261.0h0M230.2 260.2h0M232.4 260.4h0M248.0 260.3h0M256.1 260.1h0M259.1 260.2h0M268.0 261.4h0M274.3 260.4h0M275.1 261.0h0M209.8 262.9h0M220.6 263.0h0M226.8 263.0h0M236.4 263.0h0M239.6 262.9h0M244.2 262.8h0M248.3 262.9h0M252.4 262.0h0M263.3 261.6h0M267.9 263.0h0M269.0 261.9h0M220.5 264.3h0M231.5 264.0h0M233.2 264.2h0M247.4 264.4h0M263.5 263.6h0M268.9 263.8h0M271.5 264.4h0M273.7 264.0h0M284.7 263.4h0M209.5 266.3h0M213.6 264.8h0M242.0 265.8h0M244.4 266.2h0M253.1 266.3h0M268.3 265.4h0M269.8 265.6h0M270.6 265.9h0M214.0 266.4h0M223.4 266.5h0M224.6 267.3h0M227.7 267.8h0M231.8 267.0h0M247.5 267.8h0M248.1 266.9h0M254.5 266.7h0M257.5 266.8h0M271.8 266.3h0M278.3 267.9h0M215.7 268.8h0M217.0 268.7h0M219.0 268.5h0M224.1 269.4h0M232.0 268.6h0M235.3 268.2h0M240.1 267.9h0M246.7 268.7h0M249.1 268.9h0M211.2 270.0h0M213.7 270.9h0M220.5 269.9h0M224.0 270.8h0M231.4 270.1h0M242.5 269.5h0M250.0 269.7h0M254.7 269.8h0M213.9 272.6h0M223.7 272.5h0M228.0 271.7h0M234.1 271.2h0M242.9 271.9h0M250.9 271.4h0M265.4 272.6h0M219.5 274.1h0M246.5 273.0h0M261.9 273.4h0M219.7 274.6h0M224.3 274.1h0M226.7 274.8h0M229.4 275.5h0M232.6 275.1h0M238.5 275.5h0M253.7 275.6h0M259.4 274.5h0M266.5 274.3h0M221.8 276.8h0M248.3 276.9h0M266.0 276.1h0M218.0 278.0h0M220.8 278.1h0M250.8 278.2h0M219.5 279.6h0M214.3 281.1h0M217.3 281.7h0M218.2 281.3h0M229.8 280.6h0M255.2 281.2h0M260.4 281.8h0M219.5 283.5h0M234.5 283.0h0M239.1 282.1h0M251.0 283.2h0M255.3 282.5h0M215.8 284.9h0M218.7 284.5h0M234.0 284.2h0M257.0 283.7h0M221.7 285.7h0M231.1 285.9h0M249.8 285.1h0M217.4 287.7h0M218.9 288.0h0M222.2 286.7h0M228.4 287.5h0M236.0 287.8h0M240.0 286.9h0M251.2 287.7h0M220.4 288.3h0M221.7 289.3h0M223.6 289.1h0M233.2 288.2h0M234.1 289.2h0M237.8 288.3h0M250.6 289.3h0M222.1 292.3h0M223.1 292.6h0M225.4 291.8h0M227.6 291.9h0M236.9 292.1h0M222.5 294.4h0M229.5 293.2h0M242.3 293.6h0M225.9 294.9h0M231.7 295.0h0M241.4 296.0h0M244.6 295.2h0M232.7 296.3h0M227.5 298.1h0M230.4 297.7h0M241.0 299.6h0M233.0 301.8h0M241.6 301.1h0" stroke="#daf0a3"/><path d="M218.0 200.0h0M215.9 200.5h0M222.2 201.4h0M239.1 203.5h0M216.4 204.2h0M230.7 204.9h0M234.5 204.1h0M209.6 208.2h0M224.2 207.9h0M211.1 209.1h0M227.4 208.4h0M233.0 208.9h0M237.3 208.8h0M227.7 210.8h0M234.6 210.0h0M213.7 212.1h0M232.9 212.7h0M234.8 211.9h0M237.0 212.9h0M238.4 212.0h0M252.4 212.9h0M206.8 214.5h0M244.8 213.3h0M220.4 215.9h0M225.1 215.4h0M235.3 214.7h0M237.7 216.0h0M240.7 215.2h0M242.1 216.0h0M287.6 214.7h0M222.1 216.8h0M225.2 217.6h0M228.6 217.8h0M234.9 216.4h0M235.8 216.2h0M237.4 216.6h0M278.9 217.1h0M280.9 216.3h0M288.7 216.8h0M226.6 218.5h0M235.3 218.6h0M236.7 218.2h0M239.0 217.8h0M250.4 218.5h0M285.9 219.4h0M287.9 218.2h0M232.2 220.0h0M243.1 220.3h0M221.3 221.4h0M222.8 221.3h0M240.4 222.3h0M276.0 222.3h0M286.4 221.4h0M219.6 222.8h0M228.8 223.0h0M234.9 223.6h0M235.9 224.0h0M237.8 223.3h0M252.2 222.6h0M284.1 222.5h0M228.0 225.0h0M229.4 224.2h0M235.5 224.5h0M238.1 225.1h0M241.4 225.6h0M244.7 224.0h0M245.8 225.4h0M253.2 225.1h0M279.2 225.0h0M285.6 225.1h0M241.7 226.8h0M245.5 226.5h0M246.3 226.5h0M257.5 226.5h0M285.2 225.9h0M287.8 226.1h0M245.8 227.9h0M247.8 227.8h0M267.3 227.9h0M270.0 227.5h0M282.3 228.3h0M283.6 227.9h0M234.8 230.2h0M236.1 229.8h0M239.5 229.5h0M243.5 229.9h0M249.3 228.9h0M274.5 229.0h0M240.4 231.8h0M244.4 230.5h0M249.7 230.8h0M252.9 230.8h0M259.1 230.5h0M269.9 231.4h0M280.5 231.5h0M285.3 231.1h0M229.0 232.8h0M230.3 232.8h0M231.7 232.2h0M241.3 233.3h0M257.0 232.2h0M260.5 233.2h0M265.4 233.0h0M266.1 231.8h0M269.6 232.3h0M275.1 232.6h0M279.3 232.4h0M282.5 232.8h0M286.3 233.2h0M231.5 234.0h0M262.8 234.3h0M276.0 234.2h0M285.4 234.5h0M223.0 236.2h0M224.9 235.6h0M226.6 235.8h0M230.4 236.5h0M232.7 235.3h0M241.8 235.1h0M242.8 236.0h0M245.9 236.5h0M248.2 235.9h0M258.9 235.5h0M263.8 235.2h0M270.2 235.6h0M276.4 235.2h0M284.3 236.3h0M228.1 237.9h0M229.4 237.9h0M246.5 237.4h0M252.2 237.5h0M265.1 237.5h0M276.4 237.3h0M286.3 237.0h0M288.2 237.7h0M288.9 236.9h0M218.4 238.8h0M220.9 238.3h0M223.7 238.2h0M226.4 239.7h0M242.7 238.1h0M244.7 239.5h0M252.9 239.4h0M253.4 238.6h0M257.2 239.3h0M259.5 238.3h0M265.1 239.1h0M276.1 238.9h0M279.3 238.5h0M215.9 240.9h0M229.5 239.9h0M240.5 240.4h0M242.9 240.1h0M243.9 241.1h0M246.2 241.1h0M259.7 240.0h0M272.0 240.1h0M274.5 240.7h0M282.4 240.6h0M214.5 241.3h0M227.1 242.4h0M234.5 241.4h0M245.7 242.0h0M249.3 242.7h0M254.3 242.5h0M258.3 241.9h0M265.6 242.4h0M271.5 242.7h0M280.4 242.8h0M288.3 241.4h0M235.8 244.1h0M238.9 243.0h0M247.0 243.3h0M251.8 243.7h0M253.5 243.2h0M255.8 243.4h0M262.4 244.3h0M229.5 244.7h0M236.2 244.7h0M240.7 245.9h0M247.6 244.5h0M248.6 246.0h0M249.8 244.8h0M254.9 245.2h0M263.6 244.9h0M265.1 245.4h0M211.3 246.8h0M217.7 246.8h0M226.8 246.0h0M244.8 246.8h0M247.7 246.9h0M252.4 246.6h0M258.0 246.3h0M269.2 246.4h0M209.2 248.3h0M211.1 249.0h0M217.1 248.2h0M218.7 248.3h0M248.8 248.6h0M254.3 248.8h0M259.6 248.5h0M265.2 248.4h0M223.1 250.6h0M225.1 250.5h0M234.9 249.5h0M236.9 249.4h0M253.6 250.3h0M254.9 250.0h0M261.9 249.8h0M266.1 249.8h0M271.0 250.0h0M210.3 251.7h0M216.0 251.9h0M222.0 251.4h0M237.8 250.7h0M247.4 252.2h0M248.2 251.1h0M257.3 250.8h0M264.8 251.5h0M270.3 251.9h0M215.2 253.2h0M241.4 252.7h0M247.5 252.5h0M250.9 253.1h0M259.4 253.4h0M241.7 254.9h0M242.9 255.1h0M257.3 254.8h0M258.8 255.0h0M271.6 254.1h0M213.7 255.5h0M217.3 255.8h0M230.1 256.6h0M235.6 255.8h0M242.3 256.8h0M244.9 255.7h0M245.9 256.0h0M248.2 255.7h0M260.5 255.7h0M261.4 256.8h0M265.6 255.8h0M268.8 255.9h0M223.4 257.2h0M227.2 257.2h0M229.0 257.2h0M239.1 257.9h0M240.8 258.3h0M242.9 257.4h0M250.4 257.4h0M258.2 258.3h0M259.9 257.5h0M266.0 257.7h0M271.1 257.8h0M277.0 257.4h0M210.1 259.0h0M213.2 259.4h0M219.1 259.6h0M242.6 258.8h0M246.5 258.5h0M249.2 259.9h0M251.7 258.7h0M257.9 259.2h0M260.8 258.7h0M265.8 259.6h0M272.8 259.3h0M276.1 259.7h0M278.1 259.1h0M214.6 261.5h0M216.5 261.1h0M217.7 260.5h0M224.1 260.4h0M226.9 261.4h0M228.2 261.1h0M237.6 261.3h0M243.9 261.1h0M245.8 260.6h0M246.9 260.1h0M250.4 260.4h0M263.6 260.9h0M266.5 261.3h0M211.4 262.9h0M213.6 262.6h0M216.4 262.0h0M218.9 262.8h0M223.2 262.8h0M224.8 263.0h0M227.2 261.7h0M232.3 262.7h0M235.3 262.3h0M241.3 262.1h0M249.9 262.6h0M252.1 262.4h0M255.6 262.9h0M257.3 261.7h0M258.6 262.3h0M259.9 262.4h0M261.7 262.3h0M271.5 262.1h0M281.4 261.6h0M208.6 263.6h0M211.6 264.4h0M212.5 263.6h0M214.7 263.3h0M222.4 264.8h0M224.8 264.1h0M226.4 264.6h0M228.2 264.0h0M234.9 264.2h0M236.0 264.5h0M237.5 264.5h0M239.0 263.8h0M242.9 263.6h0M244.6 264.4h0M248.5 263.3h0M252.9 263.6h0M255.3 264.1h0M257.1 264.4h0M259.1 264.5h0M220.7 265.6h0M222.5 265.5h0M229.2 266.3h0M230.9 266.3h0M238.2 264.8h0M240.9 265.8h0M245.3 265.9h0M251.2 266.1h0M262.1 266.0h0M210.7 267.4h0M212.3 267.1h0M219.5 267.6h0M230.2 266.5h0M239.1 266.4h0M242.0 266.8h0M258.9 267.1h0M261.6 266.6h0M266.8 267.3h0M270.8 266.4h0M212.0 268.9h0M222.4 269.2h0M229.8 268.2h0M236.5 269.4h0M253.8 269.0h0M266.2 269.2h0M268.6 268.1h0M285.2 268.8h0M216.8 270.3h0M221.7 271.0h0M225.4 269.9h0M227.0 270.7h0M235.0 269.7h0M235.4 269.8h0M241.0 269.7h0M245.5 269.7h0M251.8 269.5h0M257.8 270.2h0M267.4 270.7h0M218.7 271.6h0M221.1 271.5h0M221.9 271.8h0M226.4 271.1h0M253.5 271.5h0M218.3 273.4h0M222.8 274.1h0M228.2 273.7h0M235.6 273.9h0M245.1 272.8h0M255.7 273.3h0M263.2 273.4h0M216.1 274.7h0M221.0 275.0h0M232.2 274.1h0M236.4 275.1h0M241.1 274.6h0M242.2 274.3h0M244.8 275.6h0M249.3 274.9h0M251.5 274.7h0M254.5 274.4h0M266.9 274.9h0M216.2 277.0h0M230.5 276.9h0M238.0 276.5h0M241.4 276.8h0M243.7 276.2h0M244.5 277.0h0M252.7 276.3h0M256.3 276.7h0M258.1 277.3h0M260.9 276.0h0M227.2 278.5h0M237.6 278.3h0M239.9 278.0h0M248.1 278.5h0M216.6 279.9h0M217.6 279.9h0M225.1 279.0h0M236.1 279.6h0M237.7 280.4h0M242.9 279.5h0M248.5 279.2h0M262.3 279.8h0M221.5 281.5h0M225.5 281.0h0M234.6 280.9h0M240.4 281.0h0M243.9 281.6h0M247.6 281.7h0M214.9 283.0h0M227.0 282.8h0M229.5 282.8h0M233.2 282.8h0M246.8 282.3h0M252.5 283.4h0M227.0 284.5h0M228.6 284.6h0M235.8 284.3h0M237.5 283.9h0M240.0 284.5h0M246.7 283.8h0M216.4 286.6h0M218.6 285.5h0M219.2 286.2h0M229.7 286.3h0M232.4 285.9h0M239.4 286.3h0M252.1 285.4h0M253.5 285.4h0M245.6 287.9h0M248.0 288.1h0M231.1 288.8h0M239.1 289.7h0M244.3 289.0h0M247.6 288.3h0M253.5 288.9h0M223.0 291.1h0M224.3 290.7h0M226.8 290.2h0M232.1 290.2h0M234.2 291.0h0M234.8 291.3h0M237.7 290.7h0M242.3 290.2h0M244.3 290.3h0M248.9 290.3h0M220.2 292.0h0M229.0 291.6h0M230.3 292.9h0M238.0 291.8h0M239.9 291.9h0M243.9 292.4h0M247.4 293.0h0M232.4 294.2h0M232.9 293.9h0M239.1 293.9h0M244.6 293.1h0M221.9 295.1h0M231.3 295.4h0M233.6 295.4h0M239.1 295.3h0M243.6 294.8h0M246.1 294.5h0M223.7 297.1h0M229.3 296.2h0M231.9 297.1h0M235.9 296.1h0M232.3 298.1h0M237.2 297.9h0M243.2 297.9h0M244.4 298.2h0M233.0 300.0h0M242.6 300.4h0M229.5 301.4h0M231.4 300.9h0M236.4 301.8h0M237.2 302.1h0M192.2 218.7h0M214.1 221.3h0M207.4 214.5h0M217.3 235.4h0M222.5 229.6h0" stroke="#ecf7a6"/><path d="M216.2 199.1h0M217.6 201.6h0M210.6 202.4h0M215.3 203.3h0M233.4 203.3h0M243.0 202.9h0M217.9 204.1h0M220.1 204.1h0M235.9 205.2h0M242.3 204.9h0M244.9 203.8h0M246.1 204.2h0M205.8 205.7h0M219.2 206.1h0M220.8 206.5h0M232.0 206.4h0M236.6 206.0h0M241.4 205.6h0M282.5 206.2h0M205.5 207.7h0M208.1 208.3h0M212.8 207.6h0M216.6 207.8h0M227.3 208.1h0M233.7 207.9h0M236.4 207.5h0M239.5 207.8h0M243.9 208.2h0M235.5 209.7h0M238.0 209.7h0M240.5 209.5h0M218.7 210.1h0M220.6 210.9h0M224.8 210.2h0M237.9 210.1h0M277.0 210.7h0M205.3 212.8h0M206.3 211.6h0M219.7 212.9h0M220.5 213.1h0M226.5 213.1h0M242.6 212.7h0M248.5 213.0h0M287.5 212.3h0M234.5 213.8h0M237.2 213.9h0M247.2 213.4h0M251.7 213.4h0M284.8 214.6h0M288.9 214.6h0M209.5 214.8h0M218.2 215.0h0M222.6 215.7h0M226.5 214.7h0M239.2 215.1h0M256.1 215.7h0M240.4 216.3h0M242.8 217.4h0M254.9 217.1h0M276.4 217.8h0M285.4 217.2h0M217.5 218.6h0M228.5 219.2h0M231.0 219.0h0M242.9 218.1h0M274.4 219.1h0M279.6 217.9h0M282.6 217.8h0M218.6 219.7h0M225.9 220.6h0M230.3 220.3h0M238.4 220.4h0M239.3 219.7h0M241.7 219.5h0M246.2 219.9h0M248.2 220.0h0M251.9 220.3h0M283.5 219.9h0M226.8 221.8h0M230.5 221.6h0M238.4 221.6h0M246.4 222.0h0M247.2 222.4h0M249.3 221.2h0M250.6 221.9h0M253.6 222.0h0M278.5 221.6h0M286.9 222.1h0M290.0 221.9h0M230.2 222.9h0M242.2 223.2h0M243.2 223.7h0M245.0 222.9h0M249.0 223.8h0M276.8 222.6h0M279.9 222.8h0M287.8 222.8h0M290.0 223.6h0M222.9 224.4h0M231.6 224.3h0M252.2 224.9h0M256.7 225.5h0M260.3 225.1h0M290.0 224.1h0M239.3 226.0h0M243.8 226.4h0M248.8 225.8h0M250.5 226.5h0M264.1 226.6h0M276.1 226.2h0M276.8 225.8h0M286.8 225.6h0M296.5 226.3h0M298.7 227.0h0M234.7 228.1h0M241.1 228.8h0M243.2 227.2h0M243.9 227.8h0M250.6 227.5h0M254.2 227.2h0M258.1 228.6h0M261.9 227.4h0M278.8 227.7h0M280.7 228.5h0M251.5 228.9h0M261.6 230.0h0M264.7 229.6h0M275.6 230.1h0M277.0 229.1h0M280.0 229.6h0M280.9 230.2h0M285.5 229.6h0M296.2 228.7h0M236.9 230.9h0M242.4 230.6h0M246.6 231.7h0M265.3 230.9h0M267.4 231.9h0M271.0 230.7h0M276.9 231.6h0M282.7 231.0h0M294.0 230.7h0M298.5 230.4h0M234.6 233.3h0M243.3 232.0h0M252.7 232.7h0M255.9 232.0h0M259.2 233.3h0M262.5 231.9h0M267.9 231.9h0M271.9 232.4h0M243.4 233.5h0M253.7 234.3h0M255.4 233.5h0M264.7 233.7h0M269.6 234.4h0M270.8 234.8h0M278.8 235.0h0M279.8 234.1h0M235.5 236.1h0M240.3 235.8h0M265.2 236.5h0M268.6 235.5h0M273.1 235.9h0M286.9 235.3h0M221.6 236.9h0M248.1 236.8h0M253.4 237.5h0M254.9 237.4h0M261.9 237.8h0M263.4 237.4h0M217.0 239.3h0M219.3 238.8h0M236.3 238.9h0M250.8 238.6h0M263.2 239.6h0M269.3 240.9h0M216.3 242.5h0M239.6 242.7h0M250.8 242.6h0M260.6 241.8h0M266.5 241.9h0M269.8 242.3h0M273.1 242.0h0M233.1 243.7h0M240.2 244.2h0M244.0 243.1h0M245.2 243.6h0M248.9 243.4h0M259.8 242.9h0M264.4 243.5h0M265.1 244.0h0M268.2 243.6h0M216.1 245.7h0M223.1 245.2h0M262.1 245.9h0M269.9 245.2h0M271.7 245.2h0M239.2 247.3h0M241.9 246.0h0M251.9 247.3h0M255.8 247.2h0M259.7 245.9h0M261.9 247.0h0M214.6 248.1h0M239.0 247.5h0M251.8 247.7h0M262.5 248.6h0M208.8 250.2h0M246.2 250.5h0M252.0 250.1h0M260.0 250.3h0M267.2 249.4h0M219.3 251.8h0M239.5 251.1h0M242.7 250.8h0M261.1 251.3h0M268.1 251.3h0M250.2 253.6h0M260.5 252.5h0M267.9 253.2h0M210.8 254.4h0M231.3 254.0h0M246.7 254.7h0M249.1 254.1h0M254.3 254.4h0M260.9 254.7h0M263.1 254.5h0M208.5 256.6h0M210.7 256.2h0M241.4 256.3h0M264.5 256.8h0M267.2 256.0h0M208.0 257.8h0M208.3 257.8h0M210.6 258.4h0M253.4 258.1h0M216.0 258.6h0M229.6 260.0h0M236.7 258.7h0M263.4 259.1h0M208.9 261.0h0M240.3 261.5h0M260.6 260.8h0M272.9 261.4h0M208.6 261.6h0M233.4 261.8h0M246.2 262.7h0M276.3 263.0h0M218.1 263.4h0M223.4 263.6h0M266.7 264.3h0M282.3 264.6h0M226.0 264.9h0M227.5 265.8h0M233.2 265.0h0M265.1 265.4h0M273.3 265.5h0M218.7 266.4h0M229.3 267.8h0M233.5 266.7h0M242.9 266.7h0M245.6 266.8h0M250.5 267.5h0M228.0 269.1h0M233.4 269.2h0M243.9 268.6h0M247.1 268.9h0M251.7 268.2h0M263.7 268.0h0M266.9 268.2h0M282.6 268.4h0M218.4 269.8h0M237.8 270.4h0M240.2 269.6h0M246.6 271.0h0M248.7 270.6h0M255.7 270.6h0M259.7 269.9h0M263.5 269.6h0M264.4 270.7h0M267.9 270.6h0M269.7 269.8h0M211.1 271.3h0M231.0 271.8h0M237.2 272.3h0M240.1 271.3h0M248.9 272.3h0M256.8 271.4h0M259.1 271.3h0M262.0 272.5h0M264.7 271.1h0M212.0 273.9h0M221.4 272.8h0M225.5 273.1h0M227.6 274.0h0M230.9 273.4h0M232.0 272.9h0M237.3 272.9h0M242.1 272.7h0M243.9 272.7h0M251.8 273.5h0M266.5 274.1h0M213.5 275.5h0M217.7 275.3h0M223.0 275.3h0M227.8 274.6h0M235.3 275.2h0M247.9 274.3h0M260.9 274.9h0M263.0 274.3h0M214.5 276.7h0M218.2 276.6h0M223.6 276.9h0M225.7 276.9h0M227.1 277.0h0M231.8 276.0h0M247.2 277.1h0M254.7 276.3h0M262.5 277.1h0M264.5 276.3h0M218.3 277.5h0M225.2 278.2h0M230.5 277.9h0M242.7 278.4h0M245.3 278.4h0M254.9 278.4h0M256.1 278.8h0M259.0 277.4h0M260.2 277.8h0M263.3 278.4h0M213.2 279.0h0M214.8 280.1h0M222.4 280.3h0M231.9 279.4h0M234.7 280.4h0M239.8 279.8h0M246.3 280.1h0M251.3 280.2h0M253.7 279.2h0M256.3 279.1h0M261.9 279.6h0M224.7 280.7h0M228.0 281.0h0M232.3 281.3h0M239.4 281.6h0M242.4 280.8h0M246.1 280.4h0M250.1 281.0h0M251.2 280.7h0M217.4 283.0h0M221.1 283.5h0M225.5 282.3h0M235.7 282.2h0M238.7 282.3h0M242.1 282.5h0M243.6 282.0h0M245.7 283.6h0M258.2 282.8h0M260.3 282.3h0M217.2 285.1h0M221.0 284.0h0M223.7 283.6h0M229.1 283.7h0M244.9 283.5h0M248.9 283.8h0M223.1 286.1h0M234.8 286.2h0M244.7 286.6h0M247.5 285.4h0M248.5 286.3h0M257.0 285.2h0M231.1 287.3h0M238.9 288.2h0M243.2 288.0h0M250.1 287.5h0M253.6 287.5h0M255.3 286.7h0M235.4 289.4h0M241.7 288.9h0M242.7 289.8h0M248.1 289.4h0M220.0 290.3h0M227.9 291.4h0M229.5 290.5h0M240.1 290.8h0M245.6 290.8h0M252.2 290.3h0M252.5 290.0h0M232.8 293.0h0M234.1 293.0h0M242.0 292.7h0M247.9 292.8h0M224.2 293.8h0M240.7 294.2h0M247.3 293.4h0M224.0 296.1h0M227.2 296.0h0M236.4 296.1h0M240.8 296.2h0M242.2 297.1h0M225.3 298.5h0M229.7 298.1h0M236.5 298.7h0M231.1 299.9h0M235.0 299.2h0M237.3 300.2h0M239.6 300.1h0" stroke="#f5fbb5"/><path d="M213.7 200.5h0M211.5 202.4h0M219.4 202.3h0M221.0 202.8h0M240.0 202.2h0M246.5 203.6h0M247.2 203.3h0M250.1 203.3h0M250.6 202.9h0M257.0 203.3h0M278.8 202.7h0M221.5 203.7h0M223.2 203.9h0M225.1 204.5h0M233.3 203.7h0M239.9 204.4h0M242.9 204.4h0M208.9 205.8h0M235.5 206.6h0M243.4 206.7h0M252.7 205.8h0M279.2 205.7h0M241.8 207.6h0M269.8 207.0h0M206.0 208.4h0M224.9 208.8h0M246.4 208.8h0M247.8 208.6h0M249.8 209.8h0M207.0 211.3h0M209.2 210.6h0M215.2 210.9h0M235.7 210.4h0M239.0 211.5h0M243.5 210.1h0M245.4 210.0h0M249.2 210.5h0M280.8 210.9h0M211.3 212.6h0M244.2 212.5h0M245.8 211.6h0M284.8 213.0h0M206.2 213.1h0M216.1 213.8h0M222.3 213.5h0M236.4 214.6h0M259.1 213.8h0M243.4 215.6h0M246.4 215.6h0M248.9 215.1h0M282.6 215.8h0M213.1 216.5h0M215.6 217.6h0M246.8 216.9h0M251.7 217.3h0M269.6 217.1h0M271.6 217.8h0M213.1 218.6h0M224.4 218.7h0M244.0 218.6h0M258.9 218.4h0M268.3 219.2h0M216.8 220.6h0M245.8 220.0h0M250.4 220.8h0M272.4 220.3h0M287.0 220.3h0M288.4 220.3h0M244.5 222.0h0M258.9 221.2h0M262.1 222.0h0M268.1 222.0h0M274.0 222.4h0M221.8 223.5h0M224.2 223.5h0M250.9 223.4h0M265.0 223.6h0M266.4 222.7h0M275.2 223.6h0M280.4 223.9h0M248.9 224.0h0M270.8 224.8h0M276.7 224.1h0M279.5 225.5h0M281.6 224.9h0M237.4 226.2h0M254.2 226.9h0M256.4 226.0h0M263.7 226.4h0M272.1 226.0h0M273.4 226.6h0M280.9 226.0h0M233.8 228.2h0M249.6 227.2h0M253.2 228.0h0M257.6 227.9h0M263.9 227.2h0M272.6 228.2h0M276.4 228.2h0M293.5 228.5h0M297.8 228.4h0M300.2 228.7h0M238.1 229.2h0M240.7 229.6h0M245.5 229.2h0M247.5 229.7h0M254.4 229.1h0M269.5 229.3h0M287.6 230.1h0M298.6 229.1h0M232.4 231.6h0M257.0 230.3h0M259.6 230.5h0M262.1 231.4h0M289.0 231.8h0M293.6 230.6h0M296.2 231.8h0M244.6 233.4h0M248.4 232.0h0M273.5 232.4h0M276.7 233.0h0M293.6 232.4h0M296.2 232.8h0M297.7 232.9h0M299.2 231.9h0M227.6 234.8h0M238.8 234.1h0M249.6 234.4h0M258.1 233.6h0M265.8 234.1h0M274.7 233.6h0M286.8 234.9h0M297.0 233.5h0M251.1 235.2h0M254.1 235.6h0M256.1 236.5h0M266.0 235.3h0M271.4 235.9h0M296.1 235.4h0M238.5 236.7h0M243.1 238.0h0M244.4 237.6h0M257.3 237.1h0M255.4 238.1h0M267.9 239.3h0M251.6 241.3h0M258.5 239.9h0M272.5 239.7h0M218.6 241.9h0M263.8 241.3h0M213.4 243.3h0M256.3 244.8h0M257.4 244.9h0M250.2 247.5h0M250.8 248.8h0M255.5 247.7h0M266.3 247.7h0M221.6 249.6h0M256.5 250.6h0M262.5 252.7h0M234.8 255.1h0M254.6 256.6h0M236.4 257.4h0M248.8 257.6h0M269.1 257.4h0M256.8 258.8h0M225.5 260.2h0M274.1 262.3h0M250.5 263.2h0M254.8 264.8h0M216.8 265.3h0M236.8 264.9h0M257.5 265.1h0M264.8 266.2h0M216.8 266.4h0M221.8 267.4h0M236.9 267.6h0M252.7 267.9h0M263.6 267.3h0M264.8 267.8h0M227.0 268.4h0M257.3 268.4h0M260.4 268.4h0M229.0 271.4h0M239.4 271.9h0M245.3 272.1h0M248.3 272.4h0M255.1 271.3h0M211.2 272.9h0M235.0 274.1h0M240.1 272.8h0M250.3 273.7h0M254.0 274.1h0M258.7 273.4h0M246.5 274.6h0M256.2 274.9h0M228.7 277.3h0M234.9 275.9h0M240.4 276.6h0M250.3 276.8h0M260.2 275.9h0M214.7 277.9h0M223.3 277.4h0M232.3 277.8h0M233.1 278.2h0M235.1 277.6h0M249.2 278.5h0M252.8 277.6h0M261.6 278.1h0M228.7 280.0h0M245.1 279.0h0M252.0 280.1h0M257.7 279.2h0M259.4 279.8h0M215.9 281.1h0M236.3 280.4h0M253.0 281.5h0M257.2 280.7h0M258.7 280.5h0M215.6 282.3h0M248.2 282.5h0M253.6 282.6h0M222.5 283.6h0M231.1 283.8h0M239.5 284.6h0M247.2 284.3h0M252.1 284.6h0M253.9 285.0h0M254.9 284.6h0M258.1 285.0h0M224.9 285.7h0M226.7 285.4h0M236.6 285.1h0M237.9 286.0h0M241.9 285.6h0M255.2 285.3h0M220.0 287.5h0M226.8 287.7h0M229.0 288.1h0M233.4 287.2h0M236.8 287.0h0M244.1 287.0h0M224.6 289.3h0M227.1 288.4h0M229.5 289.4h0M252.7 288.6h0M248.1 290.7h0M245.7 292.8h0M227.0 294.5h0M237.6 293.7h0M228.4 294.9h0M227.6 296.2h0M233.5 298.5h0M239.5 298.5h0M242.3 298.6h0M235.0 301.6h0" stroke="#ffffc4"/><path d="M271.8 199.9h0M274.0 200.2h0M210.4 201.9h0M219.7 201.7h0M271.1 201.7h0M276.0 201.3h0M253.6 203.3h0M264.8 203.4h0M274.7 203.3h0M280.6 203.4h0M212.1 204.0h0M214.8 205.1h0M251.3 205.2h0M258.4 204.0h0M262.7 204.0h0M222.6 206.7h0M226.2 206.7h0M273.3 205.7h0M275.0 206.3h0M222.4 207.5h0M249.9 207.6h0M275.2 207.0h0M285.5 208.4h0M220.6 208.4h0M244.7 208.8h0M277.3 209.7h0M283.0 208.5h0M217.0 211.5h0M221.6 211.2h0M223.2 210.5h0M267.8 211.5h0M286.9 211.5h0M216.9 212.5h0M240.2 212.2h0M251.9 211.7h0M262.1 212.6h0M264.1 212.2h0M277.2 211.5h0M278.2 211.9h0M284.3 212.4h0M243.7 213.9h0M248.4 214.4h0M277.0 213.9h0M281.4 214.2h0M283.3 214.2h0M207.2 215.0h0M213.7 214.8h0M252.0 214.7h0M253.5 215.1h0M264.3 215.7h0M277.1 216.1h0M278.0 214.9h0M283.9 215.6h0M214.8 217.7h0M219.3 217.2h0M222.8 217.6h0M248.6 216.2h0M263.7 216.4h0M286.2 216.9h0M212.0 217.8h0M215.7 219.1h0M222.1 218.8h0M248.4 218.3h0M252.0 219.1h0M271.6 218.4h0M289.0 218.8h0M270.2 220.1h0M273.9 219.5h0M277.6 220.4h0M278.6 220.2h0M256.7 221.5h0M260.6 221.3h0M263.9 221.9h0M268.6 222.4h0M271.4 221.3h0M272.4 221.4h0M239.0 223.6h0M254.1 223.8h0M268.6 223.0h0M270.2 222.6h0M272.1 223.5h0M274.6 223.9h0M248.4 225.4h0M258.9 224.3h0M262.7 225.4h0M269.3 225.0h0M273.2 225.3h0M260.1 226.6h0M270.5 226.1h0M295.3 226.4h0M260.0 228.0h0M265.2 228.1h0M271.8 227.6h0M275.2 228.1h0M290.4 228.6h0M294.6 227.8h0M295.6 227.5h0M260.0 229.5h0M262.4 228.9h0M293.2 228.7h0M298.0 230.2h0M273.1 231.8h0M278.8 230.5h0M300.0 231.8h0M298.3 233.6h0M299.3 233.9h0M281.3 236.7h0M208.0 259.0h0M257.9 261.3h0M262.0 264.6h0M270.2 263.4h0M259.7 266.3h0M254.7 268.0h0M259.1 267.9h0M262.7 268.9h0M212.1 269.6h0M260.8 269.5h0M260.3 271.7h0M258.1 273.4h0M264.1 274.9h0M236.8 276.9h0M243.9 278.0h0M223.8 279.8h0M227.9 279.1h0M223.1 280.7h0M233.3 280.6h0M243.7 285.1h0M235.9 293.2h0M245.5 294.4h0M227.2 300.5h0" stroke="#fff3b0"/><path d="M214.5 200.9h0M259.0 201.9h0M267.3 200.6h0M274.1 201.1h0M212.8 203.3h0M224.7 203.3h0M259.3 203.3h0M260.2 203.7h0M273.5 203.0h0M276.5 203.3h0M208.6 204.9h0M248.1 204.2h0M252.6 204.6h0M253.3 204.4h0M270.2 203.7h0M271.9 204.8h0M275.5 205.2h0M276.8 204.9h0M217.4 206.2h0M224.2 206.6h0M249.2 205.4h0M261.1 206.2h0M245.1 207.9h0M252.8 207.0h0M261.6 207.1h0M276.8 208.1h0M257.9 208.9h0M269.9 209.7h0M279.1 209.0h0M212.4 209.9h0M255.5 210.7h0M257.9 210.8h0M258.7 211.4h0M270.7 211.1h0M215.4 212.1h0M224.2 213.1h0M227.5 212.1h0M258.7 211.6h0M273.6 211.7h0M275.6 212.3h0M279.6 212.5h0M210.7 214.5h0M219.5 213.7h0M227.2 213.1h0M262.0 213.9h0M263.3 213.9h0M266.6 214.3h0M274.2 213.7h0M262.1 215.5h0M267.2 214.7h0M210.5 217.3h0M244.3 217.6h0M250.9 217.4h0M260.3 216.7h0M266.8 217.1h0M269.0 217.5h0M220.1 218.7h0M253.0 219.2h0M259.6 219.3h0M262.4 218.0h0M272.7 218.4h0M276.8 218.2h0M278.9 218.5h0M254.5 220.0h0M259.7 220.1h0M261.4 219.4h0M262.6 220.8h0M268.5 219.7h0M275.7 219.9h0M260.6 223.2h0M283.4 224.0h0M255.4 225.2h0M264.0 224.2h0M267.2 224.4h0M266.8 226.3h0M255.7 229.5h0M295.2 233.9h0M255.1 265.4h0M242.1 279.0h0M224.2 286.9h0M238.6 290.8h0M238.4 295.1h0" stroke="#fee79c"/><path d="M218.5 200.4h0M257.6 200.0h0M269.4 200.3h0M222.9 201.3h0M265.0 200.7h0M267.7 200.5h0M271.4 201.7h0M268.1 202.7h0M260.0 203.8h0M266.5 205.1h0M279.0 205.2h0M280.5 204.1h0M210.0 206.1h0M211.2 205.5h0M254.6 206.1h0M258.4 206.6h0M262.6 205.8h0M271.3 206.1h0M211.4 208.0h0M259.1 207.6h0M263.4 207.6h0M265.9 207.9h0M268.2 206.8h0M272.9 206.8h0M278.5 207.4h0M251.9 209.8h0M259.7 208.5h0M261.6 208.8h0M268.1 208.7h0M281.9 209.8h0M251.9 211.0h0M260.7 210.6h0M265.4 210.8h0M274.5 211.4h0M255.8 212.6h0M267.5 212.9h0M209.6 213.8h0M254.5 214.1h0M258.0 213.5h0M265.5 214.6h0M267.8 214.3h0M260.5 215.9h0M209.2 217.3h0M265.5 216.6h0M257.5 218.2h0M266.5 219.2h0M268.7 218.0h0M221.0 219.8h0M289.8 220.8h0M262.4 222.5h0M251.7 225.7h0" stroke="#fed78b"/><path d="M264.3 199.8h0M257.4 201.7h0M208.2 202.8h0M265.8 202.3h0M273.1 203.9h0M214.7 206.6h0M268.8 206.5h0M214.6 207.8h0M208.8 208.8h0M273.7 209.5h0M266.0 210.2h0M208.2 212.0h0M210.4 212.6h0M218.1 214.1h0M279.4 214.5h0M215.8 216.2h0M257.9 215.0h0M266.5 216.2h0M269.7 215.0h0M271.7 215.4h0M260.6 216.2h0" stroke="#fdc47b"/><path d="M264.1 205.6h0M265.9 205.8h0M226.0 207.7h0M258.3 206.8h0M218.5 218.8h0" stroke="#fcaf6b"/><path d="M263.4 209.8h0M214.7 214.1h0" stroke="#f99760"/><path d="M210.2 204.5h0" stroke="#f67e54"/></g><g stroke-width="2.00" stroke-linecap="round" fill="none"><path d="M387.9 255.5h0M391.7 255.8h0M385.5 261.4h0" stroke="#4989be"/><path d="M410.7 228.8h0M385.7 254.8h0M385.7 255.8h0M387.9 258.1h0M390.9 257.3h0M388.9 259.6h0M390.7 260.4h0M386.8 263.5h0" stroke="#4e9fbd"/><path d="M410.7 230.1h0M408.8 231.0h0M409.7 231.4h0M412.3 231.2h0M413.7 231.8h0M387.5 247.6h0M391.6 248.8h0M388.4 253.9h0M390.4 254.6h0M387.3 257.0h0M388.3 255.9h0M389.6 257.5h0M393.8 258.5h0M385.1 258.9h0M386.5 259.8h0M390.7 259.9h0M387.8 260.5h0M389.0 263.3h0M387.3 263.6h0" stroke="#62b5b4"/><path d="M414.7 228.7h0M413.1 229.9h0M408.2 232.1h0M388.4 247.6h0M395.3 248.1h0M403.6 248.8h0M386.2 250.7h0M385.0 251.9h0M386.2 251.2h0M390.5 251.6h0M393.5 251.8h0M385.7 252.3h0M392.3 252.9h0M391.1 254.1h0M393.8 256.1h0M386.3 258.2h0M394.9 258.9h0M390.1 261.7h0M386.3 263.0h0M391.1 262.6h0M389.1 264.8h0M392.1 264.5h0M389.2 265.1h0M391.5 267.6h0M389.3 268.8h0M398.3 270.0h0M394.7 276.7h0M396.4 282.5h0M399.4 285.2h0" stroke="#78c9ac"/><path d="M416.1 230.3h0M408.7 232.3h0M410.8 233.0h0M412.5 233.5h0M415.4 232.1h0M407.4 233.6h0M413.4 234.9h0M408.6 237.3h0M403.9 238.9h0M404.3 241.6h0M394.8 244.2h0M388.1 245.3h0M391.4 244.5h0M390.5 246.4h0M393.0 246.2h0M388.2 247.6h0M389.6 248.1h0M393.2 248.0h0M399.3 248.8h0M388.9 249.3h0M391.2 249.9h0M397.8 250.1h0M399.2 249.2h0M401.9 249.5h0M387.2 252.1h0M391.1 251.4h0M402.2 250.9h0M387.7 252.4h0M390.3 253.0h0M394.2 253.6h0M395.7 253.5h0M394.5 254.5h0M400.9 254.3h0M391.3 255.9h0M396.2 255.7h0M399.5 256.8h0M395.4 257.7h0M397.1 257.3h0M401.6 258.1h0M392.9 259.1h0M392.7 261.3h0M395.4 260.7h0M397.3 260.6h0M391.8 262.9h0M394.5 262.0h0M393.1 264.9h0M386.6 264.9h0M392.6 265.3h0M394.3 265.1h0M388.7 266.6h0M390.3 268.0h0M392.3 268.9h0M394.3 269.0h0M387.8 270.2h0M394.9 272.1h0M388.9 273.1h0M390.2 274.6h0M391.7 275.0h0M394.0 275.1h0M390.5 276.6h0M390.7 277.8h0M395.8 279.2h0M393.0 282.9h0M395.6 286.5h0" stroke="#92d3ac"/><path d="M412.1 227.6h0M414.1 228.9h0M416.3 230.6h0M417.2 230.4h0M409.3 234.7h0M410.7 234.9h0M411.5 234.5h0M415.4 233.9h0M411.0 235.6h0M412.4 236.2h0M403.7 238.2h0M393.7 239.0h0M394.6 240.0h0M396.3 240.3h0M403.8 240.1h0M389.6 242.4h0M391.5 242.9h0M395.1 241.4h0M397.6 242.6h0M397.9 241.6h0M400.5 241.9h0M407.3 241.5h0M388.8 244.4h0M392.9 243.1h0M395.6 243.8h0M400.4 244.2h0M401.3 244.0h0M403.7 243.2h0M389.9 245.0h0M392.6 245.1h0M409.6 244.7h0M395.8 247.0h0M404.8 246.5h0M397.1 247.8h0M402.4 248.1h0M386.0 250.6h0M392.1 250.6h0M393.9 250.1h0M396.1 250.7h0M406.0 249.8h0M395.8 251.4h0M397.0 251.1h0M404.3 251.7h0M405.4 251.3h0M398.5 252.7h0M402.0 252.7h0M405.1 253.0h0M407.2 253.8h0M397.3 254.7h0M399.1 254.4h0M402.3 254.9h0M398.0 255.9h0M398.1 257.6h0M397.8 260.1h0M399.0 259.4h0M398.9 260.8h0M398.0 261.7h0M394.8 264.5h0M396.1 263.4h0M391.0 266.1h0M399.7 265.8h0M393.8 267.3h0M398.6 267.7h0M395.7 268.6h0M398.0 269.2h0M392.2 270.7h0M394.0 270.2h0M396.3 270.8h0M407.2 270.3h0M392.2 271.2h0M395.3 272.4h0M431.5 272.5h0M390.9 272.8h0M393.3 273.8h0M394.5 273.3h0M400.3 273.9h0M402.7 272.7h0M397.3 274.3h0M401.3 274.9h0M391.5 276.9h0M394.1 276.1h0M398.2 275.8h0M392.9 278.8h0M393.5 277.5h0M392.7 279.4h0M397.0 279.3h0M401.2 280.1h0M394.5 281.8h0M395.7 281.9h0M397.4 281.1h0M404.7 281.4h0M392.0 283.4h0M393.9 284.0h0M396.6 284.5h0M397.8 285.0h0M399.7 285.4h0M401.8 288.4h0M398.3 290.9h0M397.0 291.5h0M404.3 298.8h0M409.7 302.0h0M369.2 218.8h0M391.1 221.4h0M384.4 214.6h0M394.3 235.4h0M399.5 229.6h0" stroke="#acdeab"/><path d="M424.9 203.3h0M451.6 203.8h0M420.9 207.6h0M436.2 214.6h0M416.5 216.6h0M419.9 221.2h0M413.9 223.2h0M429.5 223.5h0M413.7 227.0h0M415.4 226.6h0M416.4 226.9h0M419.2 232.7h0M404.7 233.9h0M400.4 236.1h0M404.3 236.7h0M405.9 235.2h0M409.0 235.1h0M416.5 236.6h0M419.0 236.5h0M398.0 237.1h0M410.1 237.5h0M411.4 237.4h0M395.7 239.7h0M399.4 238.5h0M401.7 239.8h0M406.3 239.1h0M431.4 239.6h0M393.1 239.8h0M405.1 240.1h0M409.1 240.5h0M410.5 240.2h0M414.0 240.4h0M423.3 240.3h0M466.2 240.2h0M393.0 242.0h0M405.9 242.4h0M411.4 241.7h0M415.4 241.9h0M420.6 241.6h0M406.8 243.9h0M408.9 244.0h0M410.6 244.0h0M411.9 243.0h0M394.8 244.5h0M396.6 245.0h0M398.4 244.8h0M401.9 245.1h0M406.6 245.2h0M393.6 246.0h0M397.7 246.8h0M399.5 247.2h0M401.7 246.2h0M402.6 247.0h0M406.6 246.5h0M408.6 246.8h0M410.9 246.7h0M401.2 248.4h0M411.3 249.2h0M403.2 250.0h0M409.3 249.7h0M410.9 249.5h0M398.7 251.9h0M400.9 251.3h0M409.3 251.3h0M438.5 252.2h0M399.9 253.5h0M403.5 253.6h0M410.5 252.4h0M415.4 252.5h0M392.8 253.9h0M403.4 255.4h0M406.6 255.2h0M413.9 254.8h0M444.4 254.7h0M451.3 254.1h0M401.2 257.0h0M403.9 255.6h0M409.0 256.5h0M409.6 255.8h0M420.9 255.8h0M400.2 258.1h0M404.8 257.0h0M408.1 258.0h0M421.5 257.5h0M395.8 259.7h0M403.4 259.7h0M405.6 259.7h0M414.0 259.5h0M399.9 261.4h0M406.2 261.0h0M413.4 260.4h0M395.9 262.8h0M402.0 262.4h0M423.8 262.0h0M398.3 263.4h0M406.1 263.3h0M429.3 263.6h0M396.1 265.5h0M398.3 265.9h0M403.0 266.2h0M406.8 265.9h0M408.9 266.0h0M417.7 266.1h0M395.2 266.8h0M396.3 267.7h0M409.5 266.5h0M441.3 266.5h0M391.0 268.3h0M399.7 268.1h0M448.7 268.1h0M390.2 270.8h0M395.2 270.7h0M399.9 269.8h0M436.6 269.8h0M388.8 271.6h0M391.3 272.6h0M397.4 271.4h0M401.8 271.7h0M402.5 271.5h0M413.8 271.9h0M396.4 274.2h0M396.4 275.0h0M399.7 274.6h0M403.1 275.0h0M396.3 275.9h0M404.1 277.1h0M396.1 278.0h0M400.3 277.9h0M402.1 277.6h0M391.4 279.3h0M397.9 279.0h0M402.0 279.7h0M405.6 279.1h0M392.6 281.1h0M409.8 281.4h0M415.0 281.1h0M395.4 283.6h0M403.4 282.8h0M409.5 282.4h0M392.7 284.3h0M399.8 283.7h0M401.6 284.5h0M393.7 285.6h0M396.9 286.1h0M402.8 286.4h0M396.4 286.8h0M397.4 288.0h0M399.1 287.3h0M403.7 287.8h0M408.0 287.5h0M395.6 288.4h0M397.7 288.6h0M398.0 288.6h0M404.8 288.7h0M401.8 290.9h0M399.0 291.5h0M400.4 292.6h0M400.8 294.1h0M408.4 293.2h0M404.4 295.6h0M401.9 296.5h0M402.8 297.6h0" stroke="#c4e7a8"/><path d="M417.5 202.3h0M429.4 203.0h0M412.1 204.7h0M425.3 204.9h0M435.2 206.4h0M437.5 206.2h0M433.3 208.0h0M453.5 207.6h0M409.4 208.9h0M434.5 211.2h0M436.0 211.3h0M440.1 211.5h0M429.9 212.7h0M435.2 212.9h0M456.2 212.9h0M429.7 215.3h0M443.1 215.2h0M456.6 215.1h0M418.3 216.6h0M459.3 216.5h0M415.4 219.2h0M428.5 219.1h0M431.8 218.9h0M412.1 220.3h0M463.1 220.6h0M426.8 222.2h0M445.3 221.8h0M464.1 222.4h0M415.6 223.6h0M424.9 222.6h0M411.5 224.9h0M414.0 224.2h0M416.5 225.5h0M418.0 224.3h0M450.6 224.8h0M434.0 226.9h0M446.8 226.5h0M415.0 227.4h0M429.2 227.5h0M438.4 227.5h0M419.1 229.0h0M424.6 229.2h0M431.6 228.9h0M432.5 229.8h0M466.6 229.5h0M424.3 231.6h0M404.0 233.3h0M417.0 232.4h0M426.4 232.4h0M445.5 232.0h0M402.4 234.3h0M416.9 233.5h0M419.3 234.2h0M425.2 234.2h0M442.0 235.0h0M401.7 235.5h0M423.4 236.5h0M430.6 236.4h0M396.2 237.7h0M404.7 237.9h0M407.2 237.4h0M414.3 237.2h0M417.4 236.6h0M396.6 239.6h0M400.4 239.6h0M410.5 239.5h0M412.5 239.1h0M414.8 238.7h0M419.7 238.7h0M436.7 238.7h0M397.2 240.8h0M400.8 240.7h0M406.2 239.8h0M417.4 239.9h0M431.5 241.4h0M441.2 241.1h0M402.9 241.7h0M409.4 241.5h0M440.3 242.2h0M458.7 241.7h0M390.8 243.9h0M397.2 244.2h0M404.8 243.4h0M413.6 243.3h0M418.3 242.9h0M419.9 243.1h0M423.6 244.2h0M431.8 244.0h0M448.0 244.3h0M455.8 243.9h0M401.3 244.8h0M407.0 245.6h0M414.9 245.3h0M419.2 244.8h0M422.5 245.1h0M414.2 247.5h0M416.6 246.8h0M418.8 247.2h0M426.4 246.2h0M438.0 246.9h0M440.7 247.5h0M446.9 246.2h0M456.1 247.4h0M460.7 247.2h0M463.2 247.4h0M406.0 248.2h0M407.1 247.7h0M410.0 248.0h0M415.5 248.0h0M422.3 248.3h0M425.6 248.2h0M427.0 248.7h0M431.0 248.2h0M439.0 248.9h0M442.3 247.9h0M455.8 248.4h0M463.3 249.2h0M405.6 249.7h0M411.4 249.6h0M415.1 249.2h0M422.6 249.9h0M425.1 249.2h0M435.5 249.5h0M453.7 249.9h0M407.8 251.2h0M417.4 251.1h0M419.1 250.8h0M420.3 252.2h0M422.2 251.7h0M429.1 252.2h0M432.8 251.4h0M445.5 251.9h0M449.6 251.0h0M407.9 253.3h0M412.8 253.6h0M414.8 252.7h0M417.9 253.1h0M419.0 253.8h0M423.1 252.7h0M424.9 253.1h0M408.1 255.2h0M411.4 254.0h0M414.8 254.9h0M416.0 255.1h0M418.6 254.8h0M422.6 254.7h0M423.4 254.1h0M425.0 254.6h0M435.0 255.5h0M435.8 254.6h0M442.4 254.9h0M446.6 254.2h0M405.3 256.9h0M406.8 256.7h0M412.6 256.1h0M418.0 255.7h0M427.9 255.5h0M433.3 256.9h0M443.2 256.0h0M405.6 258.5h0M414.6 258.6h0M420.9 258.1h0M430.4 258.4h0M441.9 257.6h0M445.5 258.5h0M449.2 258.1h0M452.1 257.2h0M458.0 258.0h0M401.3 259.5h0M421.7 259.6h0M429.6 259.0h0M402.2 261.2h0M404.0 261.6h0M407.0 261.5h0M441.1 260.3h0M399.2 262.8h0M403.6 263.0h0M404.9 262.4h0M407.8 262.8h0M414.4 263.3h0M416.6 262.3h0M448.7 262.1h0M450.2 262.4h0M400.2 264.4h0M402.3 264.8h0M404.6 263.8h0M407.3 264.5h0M412.3 263.7h0M422.6 264.2h0M432.7 264.0h0M442.3 264.3h0M448.3 263.3h0M450.8 263.9h0M402.2 265.3h0M404.3 266.2h0M409.7 266.0h0M434.8 265.4h0M401.3 266.9h0M413.2 266.4h0M417.2 266.8h0M427.1 267.4h0M431.7 268.0h0M439.6 267.8h0M445.9 266.8h0M449.6 266.9h0M401.5 268.7h0M403.0 269.5h0M405.7 268.8h0M426.5 269.2h0M444.3 268.3h0M402.0 271.1h0M404.9 270.6h0M405.2 270.0h0M410.8 270.1h0M443.0 270.8h0M399.0 271.6h0M404.6 271.2h0M428.4 271.9h0M437.5 271.1h0M404.1 273.5h0M405.7 273.0h0M422.6 273.3h0M429.4 273.2h0M436.3 273.2h0M419.8 275.1h0M400.8 276.0h0M402.0 276.9h0M409.3 276.9h0M411.6 276.2h0M415.5 276.0h0M423.6 276.1h0M425.7 277.1h0M432.6 277.0h0M398.3 278.4h0M403.7 277.6h0M405.5 278.9h0M406.5 278.8h0M418.7 277.6h0M430.6 278.0h0M404.8 280.3h0M408.0 280.5h0M412.6 279.4h0M426.1 280.0h0M430.4 280.4h0M399.3 281.5h0M401.9 281.4h0M438.5 281.8h0M398.9 282.5h0M400.8 282.7h0M405.1 283.1h0M413.2 283.4h0M433.9 283.1h0M403.7 284.1h0M408.0 283.8h0M429.1 283.8h0M404.6 285.2h0M405.4 286.2h0M407.8 286.5h0M424.2 285.4h0M434.2 286.2h0M410.9 287.6h0M401.0 288.5h0M411.9 289.1h0M428.6 289.0h0M396.0 290.2h0M399.3 291.2h0M404.4 291.3h0M408.4 290.6h0M416.3 290.7h0M420.1 290.5h0M402.4 291.8h0M404.3 291.5h0M409.4 292.9h0M410.7 292.0h0M398.2 294.4h0M400.1 293.4h0M422.8 294.0h0M400.4 294.9h0M402.7 294.7h0M407.8 295.5h0M416.1 295.2h0M405.5 297.0h0M407.7 298.5h0M410.1 297.8h0M422.0 298.0h0M404.5 300.1h0M407.4 300.1h0M408.0 300.6h0M412.7 300.4h0M416.7 301.2h0" stroke="#daf0a3"/><path d="M436.3 199.7h0M440.8 200.6h0M436.6 201.8h0M438.3 201.6h0M445.2 201.9h0M449.2 200.9h0M419.2 202.9h0M426.6 203.0h0M427.6 203.6h0M452.4 203.6h0M410.2 204.1h0M415.4 204.4h0M417.9 205.1h0M422.8 205.3h0M426.7 205.3h0M439.0 204.5h0M446.0 205.0h0M447.4 204.4h0M452.2 203.8h0M408.4 206.5h0M413.9 206.2h0M416.9 205.6h0M420.8 206.7h0M423.4 206.2h0M425.9 206.2h0M428.1 206.2h0M441.0 205.7h0M443.1 206.9h0M455.4 206.7h0M409.7 206.9h0M411.4 207.2h0M415.4 208.0h0M416.9 207.6h0M417.8 207.3h0M425.8 207.2h0M427.3 207.3h0M429.4 207.0h0M438.8 207.2h0M441.6 207.9h0M448.8 207.1h0M454.3 207.0h0M460.1 208.1h0M411.5 209.9h0M413.3 209.2h0M423.0 208.8h0M428.6 209.7h0M434.4 208.6h0M435.8 208.8h0M448.7 209.5h0M449.6 208.5h0M453.2 209.3h0M460.8 210.0h0M409.5 210.1h0M413.0 210.5h0M414.9 210.9h0M423.6 211.4h0M425.3 210.7h0M450.6 210.5h0M452.4 210.7h0M461.6 210.6h0M414.0 212.2h0M417.1 212.0h0M426.4 213.0h0M433.8 211.7h0M438.7 213.0h0M450.0 212.9h0M453.4 212.5h0M413.4 213.9h0M415.1 214.7h0M433.2 214.1h0M435.2 214.2h0M449.2 213.3h0M465.4 213.6h0M410.5 215.0h0M412.4 214.8h0M416.9 215.4h0M419.4 216.2h0M424.6 215.6h0M428.6 215.6h0M441.1 215.1h0M411.6 216.4h0M414.4 217.3h0M431.8 217.6h0M436.8 217.4h0M442.4 217.1h0M445.7 217.0h0M446.5 217.0h0M454.7 216.9h0M457.7 216.9h0M412.4 218.1h0M420.7 218.8h0M427.2 218.5h0M430.9 219.1h0M438.6 219.3h0M440.8 218.9h0M444.5 218.8h0M446.5 218.1h0M451.2 219.1h0M466.6 217.9h0M413.5 220.2h0M428.8 220.1h0M455.8 220.2h0M413.3 221.3h0M416.3 222.2h0M423.0 222.2h0M425.4 222.3h0M431.3 222.0h0M433.7 222.4h0M440.5 222.1h0M421.0 223.1h0M422.7 223.9h0M428.0 222.7h0M434.4 222.6h0M438.9 222.7h0M447.9 223.7h0M452.8 223.0h0M420.8 224.6h0M437.2 225.6h0M461.6 224.6h0M418.0 227.1h0M420.2 226.8h0M422.1 226.5h0M426.8 226.1h0M433.6 227.2h0M464.2 227.1h0M417.7 228.1h0M418.7 228.1h0M430.4 228.8h0M435.1 228.7h0M444.2 228.5h0M448.0 228.4h0M419.9 229.1h0M422.2 229.4h0M427.4 229.5h0M429.3 229.0h0M435.9 230.0h0M441.9 229.5h0M443.5 229.5h0M450.6 229.3h0M419.4 231.0h0M423.8 231.3h0M435.3 231.9h0M456.5 231.9h0M466.4 231.8h0M406.7 232.1h0M419.7 233.5h0M423.7 232.6h0M426.9 232.7h0M429.1 232.5h0M430.7 232.3h0M435.2 232.0h0M443.4 233.1h0M447.5 232.1h0M454.7 233.3h0M463.8 232.0h0M466.3 232.1h0M421.7 234.6h0M429.0 234.7h0M429.5 234.8h0M436.3 233.5h0M439.7 234.1h0M450.1 233.9h0M461.1 233.5h0M399.5 236.0h0M408.1 236.6h0M422.4 236.1h0M436.5 235.3h0M437.6 235.7h0M446.6 236.6h0M449.6 236.4h0M466.1 236.6h0M398.9 237.5h0M402.0 237.0h0M421.7 237.3h0M422.3 237.4h0M427.1 238.0h0M429.2 236.9h0M429.8 237.7h0M433.5 237.0h0M435.5 238.0h0M440.6 237.5h0M448.8 237.0h0M453.1 237.1h0M460.0 238.0h0M407.8 238.5h0M410.1 239.8h0M416.2 239.1h0M419.1 238.6h0M425.1 238.3h0M427.8 238.4h0M429.9 239.7h0M432.7 239.1h0M434.7 238.6h0M464.7 238.6h0M399.2 240.2h0M412.9 239.8h0M415.3 241.2h0M426.2 240.7h0M427.8 240.6h0M442.8 240.5h0M447.1 240.5h0M456.0 240.6h0M456.8 240.2h0M461.6 240.2h0M464.5 239.9h0M431.2 242.8h0M432.6 241.8h0M436.4 242.7h0M438.6 242.4h0M443.3 242.8h0M450.6 241.3h0M453.8 242.5h0M456.4 242.8h0M420.6 243.6h0M424.1 244.0h0M428.8 243.4h0M430.0 243.7h0M433.3 243.4h0M435.8 244.0h0M440.0 243.3h0M443.4 244.3h0M444.2 244.5h0M447.1 243.4h0M449.3 244.4h0M456.8 243.3h0M462.1 243.3h0M464.9 243.4h0M465.6 244.5h0M404.6 245.9h0M411.4 244.8h0M412.9 246.0h0M417.0 245.0h0M429.2 245.7h0M433.2 245.5h0M434.3 245.7h0M437.3 245.1h0M438.7 245.8h0M440.2 245.5h0M444.4 245.8h0M445.6 246.0h0M449.6 244.9h0M450.1 244.7h0M452.6 246.0h0M463.8 245.5h0M412.7 247.4h0M417.4 246.1h0M421.1 246.5h0M424.5 247.3h0M434.3 247.6h0M435.6 246.7h0M438.6 246.9h0M444.6 247.3h0M447.8 246.9h0M452.1 247.4h0M463.9 247.5h0M418.3 248.1h0M420.6 247.8h0M423.1 248.6h0M434.9 248.4h0M451.5 248.4h0M458.7 248.8h0M459.7 247.7h0M414.6 249.3h0M418.1 250.4h0M426.2 250.2h0M428.6 249.2h0M430.6 250.4h0M431.7 249.6h0M433.8 249.7h0M439.5 250.3h0M441.1 249.9h0M446.2 249.4h0M450.6 249.9h0M456.5 249.4h0M410.8 252.1h0M413.8 251.6h0M415.7 251.1h0M436.6 252.3h0M442.1 251.8h0M451.5 251.0h0M456.8 251.2h0M460.2 252.3h0M463.1 252.2h0M421.6 252.6h0M430.2 252.8h0M433.8 253.1h0M440.2 253.6h0M443.4 253.4h0M445.3 253.3h0M446.4 252.9h0M448.7 252.7h0M450.1 252.7h0M452.0 253.6h0M458.5 253.0h0M461.3 253.6h0M409.4 255.3h0M421.0 255.0h0M427.5 254.4h0M431.6 254.4h0M455.2 254.0h0M456.6 254.3h0M413.3 255.8h0M420.0 255.8h0M423.0 256.3h0M426.2 255.9h0M430.4 256.7h0M436.3 256.9h0M439.4 256.8h0M441.7 256.7h0M444.5 256.8h0M448.0 255.9h0M449.9 255.7h0M451.7 255.8h0M457.9 256.2h0M459.8 256.8h0M409.3 257.4h0M411.9 258.5h0M419.0 258.2h0M423.5 258.1h0M425.1 257.1h0M434.7 257.6h0M440.7 258.0h0M446.6 258.6h0M450.3 257.6h0M456.1 257.1h0M406.9 258.9h0M417.9 259.0h0M432.4 258.8h0M434.0 259.1h0M437.4 258.8h0M442.9 259.2h0M447.2 259.1h0M450.5 258.9h0M452.0 260.1h0M409.3 260.3h0M416.2 260.4h0M420.3 260.9h0M421.8 261.2h0M424.3 261.4h0M425.8 261.0h0M428.0 260.4h0M428.5 260.6h0M435.3 260.5h0M438.9 260.8h0M447.6 260.9h0M452.6 261.3h0M407.6 261.8h0M412.9 263.0h0M426.2 263.0h0M428.6 262.2h0M433.7 262.2h0M437.2 262.4h0M439.3 262.1h0M409.1 263.4h0M411.4 263.7h0M419.7 264.4h0M436.6 264.8h0M439.0 263.5h0M440.0 264.6h0M415.9 265.5h0M418.7 265.6h0M423.2 265.6h0M427.3 266.1h0M432.0 266.1h0M437.5 266.0h0M438.5 264.9h0M440.6 264.9h0M402.1 267.4h0M403.8 267.3h0M405.3 266.5h0M407.5 267.6h0M411.2 267.5h0M421.0 266.9h0M435.0 267.8h0M438.0 267.2h0M443.8 267.9h0M406.8 269.5h0M408.3 268.5h0M410.4 268.9h0M411.8 269.0h0M419.2 268.1h0M429.4 269.5h0M431.6 268.2h0M438.0 269.1h0M441.3 268.6h0M443.2 268.9h0M412.6 270.1h0M416.7 269.6h0M417.9 270.7h0M421.8 271.1h0M435.4 270.5h0M441.7 270.5h0M407.3 272.1h0M408.0 271.5h0M410.0 271.5h0M419.4 271.4h0M421.4 271.5h0M423.4 272.1h0M425.3 271.2h0M435.2 272.3h0M438.4 271.7h0M442.6 272.2h0M398.8 273.8h0M408.0 273.9h0M411.3 272.9h0M413.9 274.1h0M419.6 273.2h0M438.3 273.9h0M443.0 274.1h0M405.3 275.7h0M409.8 274.4h0M418.1 275.6h0M423.4 275.5h0M425.3 275.2h0M432.0 275.3h0M433.6 275.0h0M441.4 274.8h0M405.2 276.0h0M408.3 277.0h0M417.9 277.1h0M427.7 275.8h0M434.5 276.0h0M436.0 277.3h0M440.8 276.3h0M408.3 277.4h0M414.6 277.6h0M415.5 277.6h0M420.7 277.9h0M423.7 278.0h0M428.8 278.1h0M433.6 278.2h0M410.0 279.0h0M416.8 279.7h0M420.9 279.6h0M422.9 280.4h0M423.9 279.3h0M427.3 280.3h0M429.7 279.2h0M437.5 279.1h0M440.3 279.4h0M403.7 280.9h0M412.0 281.6h0M413.9 281.2h0M418.1 281.4h0M421.3 281.6h0M424.8 280.9h0M425.9 280.7h0M428.4 280.7h0M429.9 281.8h0M431.9 280.7h0M435.6 280.5h0M436.7 280.6h0M402.2 282.2h0M411.3 282.5h0M414.3 282.4h0M416.9 282.5h0M420.2 282.6h0M422.4 283.6h0M424.4 283.4h0M428.7 282.4h0M416.3 284.1h0M419.4 285.1h0M422.6 285.2h0M425.2 284.4h0M437.0 284.2h0M415.3 286.2h0M417.3 285.4h0M418.7 286.4h0M426.0 286.2h0M429.6 286.5h0M404.2 287.6h0M407.1 288.1h0M412.1 287.9h0M416.9 286.8h0M423.5 287.2h0M424.5 288.3h0M429.1 288.1h0M403.0 289.4h0M405.1 289.3h0M407.0 289.3h0M412.4 288.5h0M415.9 288.7h0M419.0 288.5h0M422.7 288.4h0M403.0 290.4h0M406.3 290.5h0M411.8 290.0h0M417.9 291.1h0M424.2 291.2h0M405.4 291.7h0M407.2 292.0h0M417.3 291.5h0M420.0 292.6h0M424.5 292.8h0M403.7 293.2h0M404.7 294.1h0M418.3 293.1h0M419.0 293.8h0M422.0 294.1h0M424.4 293.5h0M406.3 294.6h0M409.3 295.8h0M415.2 295.0h0M418.8 294.7h0M421.1 296.1h0M421.5 295.0h0M406.0 297.0h0M407.8 297.1h0M418.1 297.4h0M419.8 297.8h0M405.8 298.2h0M415.2 298.6h0M418.3 297.8h0M413.2 300.7h0M418.4 299.4h0M405.8 301.4h0" stroke="#ecf7a6"/><path d="M444.2 199.5h0M415.3 202.1h0M430.5 201.8h0M433.6 201.0h0M440.4 200.7h0M443.9 201.9h0M450.2 200.7h0M452.1 200.8h0M414.7 203.7h0M415.4 202.3h0M432.7 202.9h0M437.1 202.8h0M438.9 202.2h0M446.1 203.3h0M447.8 203.5h0M454.9 203.7h0M457.2 202.7h0M412.5 204.1h0M416.0 204.9h0M429.8 205.1h0M441.6 204.2h0M456.0 205.2h0M458.9 204.4h0M411.1 205.5h0M415.0 205.9h0M420.0 205.9h0M433.0 205.7h0M447.1 205.8h0M449.8 205.9h0M453.8 205.7h0M412.5 208.0h0M435.0 207.6h0M437.0 207.5h0M444.0 208.0h0M446.3 208.0h0M446.6 208.3h0M456.1 207.4h0M410.4 208.7h0M416.8 209.7h0M420.5 208.5h0M426.3 209.6h0M432.6 209.4h0M441.1 209.6h0M443.6 208.8h0M444.1 209.0h0M452.3 209.0h0M455.8 209.0h0M456.9 209.6h0M462.6 208.7h0M412.0 211.3h0M420.6 211.0h0M421.6 210.8h0M427.1 210.3h0M431.4 210.2h0M442.5 211.1h0M445.3 211.3h0M447.1 211.3h0M448.4 210.4h0M460.5 210.7h0M412.1 212.2h0M415.8 211.8h0M420.4 211.7h0M425.1 213.1h0M437.8 211.7h0M444.2 212.8h0M448.6 212.9h0M452.4 212.7h0M421.7 214.1h0M428.0 214.1h0M442.2 213.2h0M442.9 213.7h0M451.9 214.4h0M457.3 213.9h0M459.3 214.3h0M462.3 214.3h0M463.8 214.6h0M414.3 214.8h0M422.0 215.8h0M422.9 215.4h0M426.2 214.8h0M431.2 215.3h0M438.7 214.8h0M451.9 215.2h0M454.3 215.4h0M464.0 215.7h0M466.3 216.1h0M401.0 217.2h0M412.4 217.5h0M422.1 216.6h0M425.0 216.9h0M427.4 217.8h0M440.5 216.8h0M452.0 217.9h0M400.9 218.8h0M414.5 219.4h0M423.4 219.4h0M424.7 219.4h0M433.1 218.4h0M435.4 219.2h0M443.0 218.1h0M447.4 219.1h0M450.7 217.9h0M455.3 218.8h0M458.8 219.1h0M465.1 219.1h0M414.8 219.7h0M420.2 219.7h0M422.4 220.9h0M432.2 219.7h0M446.6 220.8h0M448.8 220.6h0M450.7 220.9h0M455.1 219.6h0M459.1 219.9h0M461.5 220.6h0M465.7 219.8h0M412.7 222.2h0M417.2 222.2h0M421.8 221.0h0M439.9 221.9h0M447.0 221.0h0M448.0 222.2h0M450.1 222.1h0M458.9 221.6h0M460.1 221.4h0M462.9 221.6h0M466.1 222.5h0M418.9 223.5h0M423.6 223.2h0M431.2 224.1h0M443.7 223.8h0M454.1 223.3h0M457.5 223.6h0M461.3 223.0h0M463.8 222.9h0M466.0 223.6h0M404.9 225.3h0M419.5 225.4h0M422.7 225.4h0M430.6 225.1h0M432.1 224.6h0M433.6 224.2h0M435.0 225.0h0M439.4 224.5h0M441.1 224.6h0M442.1 224.9h0M444.3 224.5h0M451.4 224.2h0M454.1 225.2h0M466.7 225.6h0M467.3 224.9h0M424.3 226.3h0M425.2 226.5h0M435.8 226.8h0M438.4 226.8h0M445.4 227.3h0M455.3 226.8h0M459.3 226.5h0M460.9 227.3h0M464.7 226.9h0M467.5 226.2h0M423.3 227.8h0M427.1 227.5h0M433.2 227.9h0M437.6 227.7h0M445.9 228.7h0M455.1 228.7h0M457.5 228.2h0M458.3 228.8h0M461.5 227.6h0M464.8 228.6h0M465.5 228.0h0M454.7 230.2h0M463.0 230.1h0M464.6 229.0h0M430.6 231.5h0M434.2 231.5h0M437.8 231.1h0M439.1 231.2h0M441.3 230.6h0M444.0 231.3h0M450.2 230.7h0M455.4 230.7h0M458.8 231.6h0M463.0 230.9h0M465.1 230.5h0M422.6 232.0h0M437.9 233.5h0M442.7 232.8h0M450.6 232.4h0M452.1 232.3h0M459.5 232.5h0M431.4 234.5h0M434.0 234.8h0M445.9 233.7h0M451.7 234.5h0M456.5 235.1h0M462.3 234.0h0M465.2 234.7h0M465.4 235.1h0M415.2 236.2h0M426.0 236.7h0M427.0 235.2h0M428.5 235.7h0M432.8 236.1h0M439.6 236.6h0M441.8 235.8h0M450.6 235.8h0M454.5 235.1h0M457.3 236.4h0M460.2 236.0h0M463.4 235.3h0M418.7 237.2h0M432.7 237.2h0M437.1 237.5h0M446.0 237.3h0M455.4 237.7h0M457.2 236.8h0M459.1 237.1h0M463.2 237.0h0M421.4 239.5h0M423.8 238.4h0M442.6 239.2h0M444.3 238.7h0M445.3 239.3h0M447.8 238.9h0M451.4 239.7h0M452.4 239.3h0M460.4 239.4h0M463.6 239.8h0M419.0 240.5h0M420.6 240.9h0M429.4 240.4h0M435.3 239.9h0M447.8 240.4h0M449.6 241.3h0M451.9 239.9h0M454.1 240.2h0M413.7 241.6h0M417.1 242.5h0M418.4 242.2h0M426.2 242.8h0M427.7 241.9h0M429.0 242.2h0M434.2 242.9h0M442.7 241.7h0M445.3 241.4h0M448.3 242.6h0M452.2 242.5h0M462.8 241.7h0M415.6 243.1h0M441.4 244.5h0M451.5 243.1h0M453.7 243.0h0M420.5 244.7h0M424.0 244.9h0M426.0 245.6h0M427.0 244.7h0M431.3 244.6h0M441.3 245.1h0M456.8 245.1h0M457.7 245.5h0M462.0 244.6h0M423.2 246.4h0M427.8 247.0h0M429.7 247.4h0M452.8 246.6h0M459.6 247.0h0M416.7 248.7h0M429.5 248.3h0M433.1 248.0h0M439.6 247.7h0M444.3 248.4h0M447.9 249.0h0M448.7 247.6h0M454.7 248.1h0M462.1 248.8h0M418.8 250.3h0M437.6 249.5h0M442.5 249.3h0M444.1 249.9h0M448.2 250.3h0M452.5 250.1h0M455.6 250.0h0M459.2 249.2h0M461.2 249.5h0M424.1 252.0h0M425.7 252.1h0M427.6 251.5h0M431.5 252.1h0M434.3 252.2h0M440.2 252.2h0M452.1 251.5h0M457.7 250.9h0M462.0 251.7h0M427.1 253.9h0M428.4 252.5h0M432.6 252.6h0M435.9 253.0h0M437.5 252.9h0M439.1 252.6h0M454.7 253.3h0M456.9 253.0h0M463.0 253.1h0M429.6 254.5h0M433.3 253.9h0M439.0 254.7h0M444.9 254.7h0M448.5 254.5h0M453.0 254.3h0M462.5 254.3h0M415.2 257.0h0M431.9 256.9h0M446.3 256.8h0M455.8 255.9h0M412.9 257.3h0M416.2 257.1h0M432.8 257.3h0M436.0 257.5h0M438.4 257.9h0M444.1 257.1h0M454.6 257.9h0M459.3 257.0h0M408.8 260.0h0M409.7 259.7h0M415.5 259.0h0M423.6 259.3h0M424.9 259.0h0M425.9 259.7h0M434.8 258.9h0M439.5 259.2h0M441.4 259.9h0M444.2 258.8h0M449.0 259.2h0M453.1 259.4h0M454.9 259.9h0M411.0 260.4h0M418.9 261.5h0M432.7 260.6h0M436.5 261.3h0M439.4 261.7h0M444.2 260.6h0M450.6 260.7h0M456.3 260.4h0M458.2 260.7h0M460.2 261.0h0M461.4 260.3h0M410.8 261.8h0M418.0 261.9h0M418.9 263.0h0M421.8 262.1h0M424.5 263.0h0M432.7 262.7h0M435.3 262.2h0M441.2 262.1h0M443.2 263.2h0M446.9 262.0h0M451.5 262.7h0M455.9 262.6h0M459.1 262.0h0M462.4 262.7h0M414.6 263.4h0M416.7 264.8h0M419.2 264.4h0M424.4 264.4h0M425.0 264.6h0M428.1 264.2h0M443.8 263.9h0M446.6 263.8h0M455.7 263.4h0M460.4 264.6h0M412.9 265.3h0M413.3 266.1h0M424.9 265.6h0M427.9 265.9h0M430.4 265.3h0M433.2 265.3h0M444.8 265.3h0M446.9 265.5h0M447.6 266.2h0M449.8 265.6h0M455.9 265.0h0M456.7 265.6h0M458.9 265.1h0M418.9 266.8h0M422.2 266.9h0M424.1 266.9h0M433.0 266.7h0M447.7 267.3h0M455.1 267.3h0M414.0 269.4h0M416.5 268.1h0M418.2 268.9h0M423.7 268.2h0M460.3 268.0h0M461.8 268.2h0M409.9 269.8h0M415.1 270.7h0M420.8 271.0h0M426.1 271.0h0M427.6 269.5h0M428.7 270.5h0M431.2 269.7h0M433.0 271.1h0M439.6 270.5h0M457.7 270.7h0M461.0 269.9h0M412.4 271.5h0M415.4 272.1h0M418.2 272.7h0M426.9 272.0h0M430.3 271.7h0M409.5 272.8h0M415.2 274.2h0M417.5 274.1h0M417.9 273.3h0M423.8 273.1h0M425.4 273.1h0M431.8 272.7h0M435.3 273.7h0M442.4 273.6h0M406.4 275.3h0M409.0 274.4h0M413.4 274.8h0M422.0 274.5h0M429.1 275.1h0M435.8 275.7h0M437.7 275.5h0M439.0 275.2h0M442.7 275.3h0M413.1 276.4h0M416.1 276.9h0M420.3 277.2h0M422.1 276.6h0M429.7 276.5h0M431.8 276.8h0M439.1 276.8h0M441.9 276.7h0M410.6 278.6h0M412.0 278.9h0M424.1 278.9h0M426.0 277.6h0M432.6 277.8h0M437.9 278.7h0M410.6 280.1h0M419.1 279.5h0M407.0 281.5h0M408.8 281.3h0M419.1 281.9h0M423.1 281.5h0M434.0 281.3h0M408.4 282.5h0M419.1 283.6h0M425.8 282.9h0M430.5 282.7h0M432.5 282.8h0M436.6 282.1h0M404.3 284.5h0M406.7 284.8h0M411.0 284.8h0M411.9 284.5h0M418.1 284.5h0M421.0 284.3h0M426.2 284.8h0M430.8 284.5h0M435.9 284.1h0M408.9 285.7h0M411.5 286.1h0M412.8 285.8h0M421.1 286.5h0M422.7 285.6h0M426.9 285.7h0M433.6 285.8h0M415.6 287.7h0M419.4 287.2h0M420.6 288.3h0M426.7 287.1h0M430.2 286.9h0M431.8 286.9h0M409.8 289.2h0M414.1 289.2h0M420.4 289.7h0M411.1 291.4h0M420.4 290.3h0M423.7 291.2h0M426.0 290.0h0M428.0 289.9h0M413.3 291.9h0M414.6 291.5h0M421.7 292.1h0M407.6 294.0h0M410.0 294.1h0M412.2 294.1h0M413.6 294.2h0M415.1 293.8h0M411.6 295.4h0M412.8 295.8h0M423.8 295.3h0M411.8 297.1h0M413.5 296.8h0M415.2 296.7h0M420.9 297.3h0M411.4 298.0h0M413.3 297.9h0M416.3 297.9h0M420.0 299.3h0M415.5 299.5h0M419.2 300.0h0M411.4 301.1h0M413.8 302.2h0M414.5 302.2h0" stroke="#f5fbb5"/><path d="M429.8 201.6h0M455.3 201.4h0M449.8 203.1h0M430.8 203.8h0M436.9 205.0h0M440.5 204.8h0M448.9 205.0h0M453.9 204.4h0M411.8 206.8h0M425.3 205.5h0M444.1 205.6h0M421.6 207.5h0M424.1 208.2h0M425.4 208.5h0M430.8 209.2h0M446.9 209.8h0M417.0 210.3h0M418.6 210.5h0M454.7 211.1h0M455.8 210.2h0M404.4 212.2h0M410.3 212.3h0M418.8 212.6h0M428.0 211.8h0M458.0 213.1h0M463.8 212.6h0M403.9 214.3h0M417.1 214.1h0M417.9 214.4h0M423.9 214.0h0M425.0 213.8h0M431.2 213.5h0M440.8 214.5h0M446.6 214.8h0M402.7 216.3h0M436.3 215.7h0M447.8 214.9h0M449.9 215.5h0M402.6 217.7h0M420.3 217.2h0M435.3 217.1h0M443.8 216.9h0M449.8 216.7h0M450.5 216.8h0M457.0 217.6h0M461.4 216.9h0M462.9 216.7h0M465.9 216.9h0M397.1 218.6h0M399.3 219.2h0M408.6 218.2h0M416.8 218.5h0M419.2 219.4h0M453.7 218.4h0M467.3 218.6h0M416.4 220.5h0M418.3 220.1h0M424.5 219.5h0M441.3 220.0h0M444.8 219.8h0M466.9 219.7h0M398.2 221.9h0M400.4 221.8h0M408.8 221.9h0M437.1 222.1h0M451.3 222.6h0M454.3 222.6h0M455.2 222.4h0M457.7 221.4h0M407.6 223.0h0M433.1 222.6h0M440.8 223.1h0M442.5 223.0h0M445.9 223.9h0M450.5 223.4h0M403.8 224.4h0M407.5 225.2h0M407.9 224.7h0M446.2 224.8h0M447.4 225.6h0M454.7 225.0h0M458.7 224.2h0M429.2 226.8h0M431.0 226.5h0M450.6 225.8h0M457.8 225.9h0M473.9 227.2h0M475.6 226.5h0M421.2 227.8h0M431.7 228.6h0M443.5 227.4h0M451.0 228.1h0M453.2 227.3h0M462.2 228.4h0M471.6 228.5h0M474.0 228.1h0M475.0 228.6h0M438.3 229.1h0M445.0 230.0h0M446.7 229.5h0M453.5 229.2h0M456.8 229.0h0M459.2 230.3h0M469.9 229.4h0M472.3 229.5h0M474.0 230.0h0M475.6 229.0h0M420.8 230.6h0M428.2 231.0h0M432.8 231.1h0M448.3 231.4h0M460.3 230.8h0M471.2 230.5h0M473.1 230.8h0M474.8 230.6h0M477.4 230.5h0M449.6 233.4h0M456.5 233.3h0M458.4 232.5h0M461.6 233.6h0M471.2 233.3h0M472.0 232.1h0M474.0 233.5h0M476.9 232.9h0M422.2 234.6h0M426.6 233.7h0M438.0 234.4h0M440.3 233.9h0M444.4 233.5h0M454.3 234.2h0M459.1 234.7h0M471.8 234.6h0M473.4 234.1h0M474.4 234.2h0M420.0 235.6h0M444.2 235.1h0M446.2 235.9h0M452.0 235.2h0M473.6 235.9h0M416.4 237.9h0M424.4 237.5h0M439.8 237.9h0M443.1 236.7h0M444.2 237.8h0M450.3 238.2h0M451.2 237.0h0M463.8 237.4h0M453.9 238.2h0M458.3 239.5h0M461.8 239.3h0M424.5 241.2h0M433.0 241.0h0M436.8 240.6h0M439.0 240.0h0M458.8 240.7h0M462.6 240.2h0M421.7 241.5h0M424.1 242.1h0M447.7 242.0h0M460.3 242.3h0M465.9 242.8h0M427.2 243.9h0M437.3 243.7h0M459.7 243.6h0M460.9 243.7h0M446.7 245.8h0M459.3 245.8h0M432.5 246.8h0M443.0 247.3h0M450.6 246.8h0M457.0 246.5h0M413.7 249.1h0M436.4 248.4h0M446.0 247.9h0M452.4 248.2h0M420.8 249.8h0M461.9 249.8h0M447.7 251.6h0M454.8 251.2h0M453.1 253.0h0M457.5 254.0h0M460.1 254.4h0M424.0 256.6h0M438.1 255.8h0M453.8 257.0h0M427.5 257.6h0M429.9 257.1h0M411.9 259.4h0M418.9 260.0h0M427.9 260.2h0M415.5 260.5h0M430.7 261.6h0M445.8 260.4h0M454.9 261.1h0M429.6 262.2h0M430.6 264.2h0M434.3 264.1h0M446.1 263.9h0M420.4 265.2h0M443.0 265.6h0M415.2 267.3h0M426.2 267.9h0M429.6 266.9h0M436.7 266.5h0M420.4 268.1h0M429.1 268.4h0M433.1 268.3h0M436.0 268.2h0M447.0 269.1h0M424.2 270.3h0M438.2 270.8h0M445.7 270.9h0M433.5 271.1h0M441.3 272.4h0M443.9 272.2h0M427.4 273.3h0M440.9 273.2h0M415.8 274.8h0M426.2 275.1h0M416.8 277.4h0M435.1 278.2h0M439.4 277.8h0M440.4 278.3h0M414.2 279.3h0M432.6 279.1h0M434.2 279.8h0M437.0 279.4h0M427.4 283.2h0M413.8 284.2h0M431.8 284.7h0M433.6 284.3h0M430.7 286.1h0M413.5 287.4h0M425.9 289.3h0M426.7 288.8h0M413.8 289.9h0M419.0 291.7h0M426.3 292.1h0M410.8 297.0h0M410.9 300.5h0" stroke="#ffffc4"/><path d="M441.9 200.8h0M433.9 202.5h0M435.5 202.8h0M451.4 205.9h0M405.4 208.4h0M395.5 212.1h0M402.4 213.1h0M459.4 212.1h0M402.2 213.7h0M411.2 213.6h0M396.6 215.2h0M400.8 216.0h0M395.0 217.6h0M404.1 216.6h0M405.1 217.1h0M407.7 216.8h0M403.1 218.3h0M405.8 219.2h0M398.7 219.9h0M400.3 219.7h0M402.7 220.2h0M404.7 219.9h0M406.3 220.8h0M434.6 221.0h0M404.5 222.5h0M397.3 223.9h0M398.9 223.4h0M402.6 223.6h0M404.4 222.7h0M406.3 224.1h0M416.8 223.2h0M449.5 223.8h0M399.4 225.1h0M464.8 225.2h0M450.2 228.7h0M434.6 230.2h0M461.2 229.0h0M451.8 231.2h0M439.7 233.1h0M448.2 234.0h0M434.0 235.8h0M455.9 236.1h0M461.6 236.0h0M455.9 239.0h0M444.8 241.2h0M461.0 241.8h0M454.1 245.8h0M444.4 251.7h0M439.5 254.3h0M449.3 260.9h0M444.6 262.3h0M424.0 269.5h0M438.6 269.2h0M433.1 272.7h0M412.7 275.1h0M423.4 289.7h0" stroke="#fff3b0"/><path d="M401.4 209.1h0M402.2 211.4h0M400.0 212.6h0M447.1 212.6h0M393.7 214.6h0M395.6 213.3h0M398.3 213.3h0M389.4 215.0h0M391.9 215.3h0M404.7 216.0h0M459.6 216.3h0M399.2 217.1h0M388.4 218.4h0M391.8 218.0h0M396.8 218.6h0M406.2 219.2h0M392.9 220.5h0M395.0 220.1h0M397.4 220.8h0M408.5 219.8h0M396.2 222.1h0M401.2 221.4h0M403.7 221.5h0M407.4 222.3h0M409.7 222.0h0M400.5 224.1h0M400.7 225.0h0M402.4 226.3h0M405.2 225.9h0M429.6 275.2h0" stroke="#fee79c"/><path d="M404.2 205.8h0M396.6 209.1h0M403.6 210.0h0M394.4 211.3h0M399.3 210.7h0M403.3 210.5h0M397.1 213.1h0M401.5 211.7h0M391.5 214.7h0M398.4 215.6h0M399.9 214.8h0M391.8 216.9h0M392.8 217.5h0M396.6 217.5h0M393.5 219.4h0M389.3 219.8h0M448.5 226.4h0" stroke="#fed78b"/><path d="M397.6 208.4h0M401.8 207.9h0M396.4 210.3h0M400.5 210.8h0M389.3 211.8h0M390.2 212.7h0M394.7 212.4h0M387.6 213.5h0M390.5 213.6h0M396.1 214.1h0M399.8 213.4h0M385.8 216.2h0M390.6 214.8h0M393.7 215.5h0" stroke="#fdc47b"/><path d="M398.7 204.9h0M400.7 203.8h0M399.2 205.4h0M400.6 206.0h0M403.8 205.4h0M394.4 206.9h0M403.5 207.5h0M393.6 209.2h0M397.8 209.6h0M399.5 209.8h0M387.2 211.8h0M393.0 212.7h0M389.2 217.5h0M389.9 218.4h0" stroke="#fcaf6b"/><path d="M392.0 205.4h0M401.5 204.8h0M389.7 208.5h0M400.7 207.1h0M388.8 209.2h0M394.0 210.3h0M382.9 213.1h0M383.7 214.0h0M386.0 217.0h0" stroke="#f99760"/><path d="M393.8 199.8h0M396.8 199.8h0M399.7 202.1h0M389.3 202.6h0M395.2 202.4h0M401.8 202.9h0M387.1 206.6h0M394.0 205.9h0M396.1 205.5h0M397.4 205.9h0M386.5 207.3h0M393.4 207.5h0M398.0 207.4h0M382.0 210.1h0M391.1 208.6h0M391.6 208.5h0M389.0 211.4h0M391.5 211.0h0M385.1 212.8h0M386.5 213.6h0M386.3 214.8h0M387.3 216.4h0" stroke="#f67e54"/><path d="M394.6 201.4h0M398.1 202.1h0M392.9 202.5h0M393.9 203.3h0M398.2 203.8h0M399.3 203.2h0M388.6 204.8h0M393.5 204.2h0M395.3 203.8h0M397.4 203.8h0M389.6 206.3h0M384.7 208.1h0M388.1 208.5h0M382.9 208.9h0M384.9 209.2h0M387.7 209.7h0M383.6 211.0h0M385.4 211.2h0M388.1 210.7h0" stroke="#ec6649"/><path d="M387.2 201.9h0M389.8 202.1h0M394.0 201.6h0M385.3 202.5h0M390.3 203.6h0M383.1 205.2h0M384.2 206.5h0M393.1 206.5h0M383.3 210.1h0" stroke="#e14f3f"/><path d="M388.0 199.8h0M392.8 199.5h0M385.7 202.1h0M391.3 200.6h0M396.9 200.7h0M384.1 203.7h0M386.7 202.3h0M385.0 205.1h0M390.0 206.2h0M382.0 207.9h0M391.2 207.4h0" stroke="#d33938"/><path d="M397.2 199.8h0" stroke="#bf2738"/><path d="M390.6 200.6h0M386.7 205.4h0M390.2 204.1h0M385.2 205.5h0" stroke="#ac1437"/></g><rect x="16.50" y="193.60" width="120.00" height="113.70" fill="none" stroke="#333" stroke-width="1.1"/><text x="76.5" y="317.5" font-size="8.6" font-weight="bold" fill="#333" text-anchor="middle" textLength="17.5" lengthAdjust="spacingAndGlyphs">UMAP1</text><text transform="translate(12.1 250.4) rotate(-90)" x="0" y="0" font-size="8.6" font-weight="bold" fill="#333" text-anchor="middle" textLength="17.5" lengthAdjust="spacingAndGlyphs">UMAP2</text><rect x="186.60" y="193.50" width="119.60" height="113.60" fill="none" stroke="#333" stroke-width="1.1"/><text x="246.4" y="317.3" font-size="8.6" font-weight="bold" fill="#333" text-anchor="middle" textLength="17.5" lengthAdjust="spacingAndGlyphs">UMAP1</text><text transform="translate(182.2 250.3) rotate(-90)" x="0" y="0" font-size="8.6" font-weight="bold" fill="#333" text-anchor="middle" textLength="17.5" lengthAdjust="spacingAndGlyphs">UMAP2</text><rect x="363.60" y="193.60" width="119.50" height="113.30" fill="none" stroke="#333" stroke-width="1.1"/><text x="423.4" y="317.1" font-size="8.6" font-weight="bold" fill="#333" text-anchor="middle" textLength="17.5" lengthAdjust="spacingAndGlyphs">UMAP1</text><text transform="translate(359.2 250.2) rotate(-90)" x="0" y="0" font-size="8.6" font-weight="bold" fill="#333" text-anchor="middle" textLength="17.5" lengthAdjust="spacingAndGlyphs">UMAP2</text><text x="76.6" y="188.4" font-size="8.7" fill="#222" text-anchor="middle" textLength="87.0" lengthAdjust="spacingAndGlyphs">CD56dim_ex_vivo_score</text><text x="246.3" y="188.4" font-size="8.7" fill="#222" text-anchor="middle" textLength="81.5" lengthAdjust="spacingAndGlyphs">CD56br_ex_vivo_score</text><text x="423.4" y="188.4" font-size="8.7" fill="#222" text-anchor="middle" textLength="69.3" lengthAdjust="spacingAndGlyphs">ILC3_ex_vivo_score</text><defs><linearGradient id="cb136" x1="0" y1="0" x2="0" y2="1"><stop offset="0.00" stop-color="#c76178"/><stop offset="0.10" stop-color="#e67f79"/><stop offset="0.20" stop-color="#f8a48a"/><stop offset="0.30" stop-color="#fecd9d"/><stop offset="0.40" stop-color="#feecb7"/><stop offset="0.50" stop-color="#ffffd7"/><stop offset="0.60" stop-color="#f0f9bf"/><stop offset="0.70" stop-color="#cbeac7"/><stop offset="0.80" stop-color="#a0d9c7"/><stop offset="0.90" stop-color="#80b5d6"/><stop offset="1.00" stop-color="#9b92c5"/></linearGradient></defs><rect x="136.9" y="193.6" width="4.8" height="113.8" fill="url(#cb136)" stroke="#3a3a3a" stroke-width="0.8"/><line x1="141.7" y1="219.30" x2="143.9" y2="219.30" stroke="#333" stroke-width="0.7"/><text x="147.2" y="221.60" font-size="6.6" fill="#333">0.15</text><line x1="141.7" y1="249.00" x2="143.9" y2="249.00" stroke="#333" stroke-width="0.7"/><text x="147.2" y="251.30" font-size="6.6" fill="#333">0.10</text><line x1="141.7" y1="278.70" x2="143.9" y2="278.70" stroke="#333" stroke-width="0.7"/><text x="147.2" y="281.00" font-size="6.6" fill="#333">0.05</text><defs><linearGradient id="cb306" x1="0" y1="0" x2="0" y2="1"><stop offset="0.00" stop-color="#c76178"/><stop offset="0.10" stop-color="#e67f79"/><stop offset="0.20" stop-color="#f8a48a"/><stop offset="0.30" stop-color="#fecd9d"/><stop offset="0.40" stop-color="#feecb7"/><stop offset="0.50" stop-color="#ffffd7"/><stop offset="0.60" stop-color="#f0f9bf"/><stop offset="0.70" stop-color="#cbeac7"/><stop offset="0.80" stop-color="#a0d9c7"/><stop offset="0.90" stop-color="#80b5d6"/><stop offset="1.00" stop-color="#9b92c5"/></linearGradient></defs><rect x="306.6" y="193.5" width="5.2" height="113.8" fill="url(#cb306)" stroke="#3a3a3a" stroke-width="0.8"/><line x1="311.8" y1="197.50" x2="314.0" y2="197.50" stroke="#333" stroke-width="0.7"/><text x="317.3" y="199.80" font-size="6.6" fill="#333">0.025</text><line x1="311.8" y1="214.00" x2="314.0" y2="214.00" stroke="#333" stroke-width="0.7"/><text x="317.3" y="216.30" font-size="6.6" fill="#333">0.000</text><line x1="311.8" y1="230.50" x2="314.0" y2="230.50" stroke="#333" stroke-width="0.7"/><text x="317.3" y="232.80" font-size="6.6" fill="#333">−0.025</text><line x1="311.8" y1="247.00" x2="314.0" y2="247.00" stroke="#333" stroke-width="0.7"/><text x="317.3" y="249.30" font-size="6.6" fill="#333">−0.050</text><line x1="311.8" y1="263.50" x2="314.0" y2="263.50" stroke="#333" stroke-width="0.7"/><text x="317.3" y="265.80" font-size="6.6" fill="#333">−0.075</text><line x1="311.8" y1="280.00" x2="314.0" y2="280.00" stroke="#333" stroke-width="0.7"/><text x="317.3" y="282.30" font-size="6.6" fill="#333">−0.100</text><line x1="311.8" y1="296.50" x2="314.0" y2="296.50" stroke="#333" stroke-width="0.7"/><text x="317.3" y="298.80" font-size="6.6" fill="#333">−0.125</text><defs><linearGradient id="cb483" x1="0" y1="0" x2="0" y2="1"><stop offset="0.00" stop-color="#c76178"/><stop offset="0.10" stop-color="#e67f79"/><stop offset="0.20" stop-color="#f8a48a"/><stop offset="0.30" stop-color="#fecd9d"/><stop offset="0.40" stop-color="#feecb7"/><stop offset="0.50" stop-color="#ffffd7"/><stop offset="0.60" stop-color="#f0f9bf"/><stop offset="0.70" stop-color="#cbeac7"/><stop offset="0.80" stop-color="#a0d9c7"/><stop offset="0.90" stop-color="#80b5d6"/><stop offset="1.00" stop-color="#9b92c5"/></linearGradient></defs><rect x="483.5" y="193.6" width="5.0" height="113.4" fill="url(#cb483)" stroke="#3a3a3a" stroke-width="0.8"/><line x1="488.5" y1="202.10" x2="490.7" y2="202.10" stroke="#333" stroke-width="0.7"/><text x="494.0" y="204.40" font-size="6.6" fill="#333">0.075</text><line x1="488.5" y1="222.14" x2="490.7" y2="222.14" stroke="#333" stroke-width="0.7"/><text x="494.0" y="224.44" font-size="6.6" fill="#333">0.050</text><line x1="488.5" y1="242.18" x2="490.7" y2="242.18" stroke="#333" stroke-width="0.7"/><text x="494.0" y="244.48" font-size="6.6" fill="#333">0.025</text><line x1="488.5" y1="262.22" x2="490.7" y2="262.22" stroke="#333" stroke-width="0.7"/><text x="494.0" y="264.52" font-size="6.6" fill="#333">0.000</text><line x1="488.5" y1="282.26" x2="490.7" y2="282.26" stroke="#333" stroke-width="0.7"/><text x="494.0" y="284.56" font-size="6.6" fill="#333">−0.025</text><line x1="488.5" y1="302.30" x2="490.7" y2="302.30" stroke="#333" stroke-width="0.7"/><text x="494.0" y="304.60" font-size="6.6" fill="#333">−0.050</text><path d="M389.5 44.5 L392.0 42.0 L396.0 41.0 L400.3 40.8 L405.0 41.2 L408.9 41.5 L410.5 38.0 L411.6 36.9 L413.5 39.5 L416.5 43.0 L418.4 47.0 L418.6 52.0 L417.6 56.6 L415.8 60.5 L414.2 64.0 L413.6 68.9 L414.0 73.0 L413.2 76.3 L409.0 76.8 L404.0 75.5 L399.5 72.5 L396.5 68.5 L393.5 64.0 L390.8 59.0 L389.2 54.2 L388.4 50.0 L388.4 47.0 Z" fill="#2b7bc2" fill-opacity="0.38"/><path d="M411.6 37.1h0M411.1 38.1h0M411.9 38.3h0M411.9 38.7h0M411.2 40.0h0M412.1 40.7h0M413.7 40.5h0M393.6 42.1h0M396.6 41.6h0M397.4 41.5h0M399.6 41.8h0M400.7 41.4h0M402.4 41.8h0M404.8 41.5h0M409.8 41.4h0M411.3 41.6h0M412.2 41.4h0M414.3 41.9h0M390.9 43.2h0M392.2 42.3h0M394.3 42.3h0M395.7 42.9h0M398.6 42.8h0M399.9 43.2h0M401.5 42.4h0M402.1 42.3h0M403.6 42.9h0M405.7 42.4h0M409.8 42.7h0M410.9 42.8h0M412.1 43.1h0M415.0 42.4h0M415.9 42.5h0M390.8 44.1h0M392.2 43.6h0M393.9 44.3h0M398.3 44.4h0M398.9 43.5h0M400.3 44.3h0M401.9 43.6h0M404.4 43.9h0M406.0 43.7h0M410.0 43.6h0M411.8 44.3h0M413.8 44.2h0M415.8 44.0h0M416.6 44.4h0M390.2 45.3h0M392.3 45.5h0M393.4 45.3h0M394.2 45.1h0M395.3 45.4h0M396.6 45.3h0M398.9 44.6h0M399.6 44.7h0M401.0 45.1h0M402.6 44.8h0M404.3 45.4h0M405.7 45.3h0M406.9 45.3h0M407.6 45.2h0M410.4 45.4h0M411.6 45.1h0M413.1 45.2h0M415.0 45.2h0M416.3 44.9h0M416.9 45.2h0M390.2 46.5h0M392.4 46.5h0M393.4 46.0h0M395.4 45.9h0M396.2 46.8h0M399.7 45.8h0M400.1 46.2h0M401.6 46.6h0M405.9 46.7h0M411.4 46.2h0M413.0 46.7h0M416.4 45.8h0M388.7 48.0h0M389.9 47.9h0M391.8 47.6h0M396.3 47.7h0M396.9 47.7h0M398.4 47.1h0M399.4 47.1h0M404.1 47.9h0M407.7 47.9h0M411.1 47.0h0M413.6 47.3h0M414.9 47.4h0M416.6 47.3h0M417.9 47.9h0M389.9 48.6h0M391.5 48.9h0M392.8 49.1h0M394.3 48.6h0M395.2 48.6h0M396.9 48.8h0M399.6 49.2h0M400.5 49.0h0M402.0 48.5h0M403.3 48.8h0M404.9 48.6h0M405.5 48.8h0M410.5 48.7h0M410.9 48.5h0M413.2 48.4h0M413.8 48.5h0M415.7 49.0h0M417.3 48.8h0M388.8 49.5h0M390.1 50.0h0M393.5 49.4h0M394.6 49.4h0M396.0 49.8h0M397.2 50.2h0M398.9 49.7h0M399.8 49.3h0M403.6 50.3h0M405.2 49.4h0M406.5 49.6h0M408.2 49.6h0M410.5 49.7h0M413.2 50.1h0M414.7 50.0h0M417.9 49.7h0M388.6 51.3h0M389.3 51.2h0M390.8 51.4h0M392.1 51.1h0M395.4 50.5h0M396.0 50.8h0M398.2 51.2h0M400.4 51.4h0M401.4 50.6h0M403.3 50.7h0M406.5 50.9h0M406.8 51.2h0M409.0 50.5h0M409.8 50.6h0M411.0 50.9h0M413.7 51.4h0M415.2 51.3h0M417.2 51.4h0M417.9 51.4h0M389.3 52.6h0M389.9 52.1h0M392.0 52.3h0M393.5 52.5h0M395.3 52.3h0M397.0 52.3h0M398.8 52.6h0M400.2 52.1h0M402.9 52.6h0M404.3 52.7h0M405.0 51.8h0M409.7 52.3h0M411.0 51.9h0M411.8 52.2h0M415.0 51.9h0M416.0 51.8h0M417.4 52.0h0M391.4 53.0h0M392.6 53.6h0M395.3 53.2h0M396.8 53.8h0M401.1 53.1h0M404.7 53.2h0M407.2 53.3h0M412.3 53.5h0M415.4 53.3h0M392.2 54.1h0M393.6 54.0h0M398.8 54.4h0M399.9 55.0h0M401.7 54.1h0M402.5 54.6h0M405.4 54.8h0M408.5 54.7h0M409.3 54.0h0M410.7 54.6h0M411.7 54.8h0M413.6 54.1h0M416.3 54.8h0M417.3 54.3h0M391.4 56.0h0M392.8 56.0h0M393.9 55.4h0M395.5 55.8h0M397.4 55.6h0M399.2 55.6h0M403.0 56.1h0M405.6 56.2h0M408.8 55.3h0M411.1 55.6h0M412.3 56.1h0M414.3 56.1h0M415.8 55.3h0M416.6 55.2h0M417.7 56.1h0M392.9 57.1h0M394.2 56.9h0M395.7 57.4h0M397.7 57.2h0M399.0 57.4h0M400.0 56.8h0M402.4 56.3h0M404.3 56.6h0M405.6 56.6h0M406.8 56.4h0M408.2 56.4h0M410.6 57.4h0M413.1 57.3h0M415.0 56.4h0M417.2 57.3h0M390.8 58.5h0M392.5 57.6h0M395.2 57.9h0M396.2 57.9h0M400.3 58.3h0M401.9 58.6h0M403.7 58.5h0M405.0 58.3h0M407.2 58.0h0M408.6 58.2h0M411.7 57.7h0M413.0 58.0h0M413.5 57.8h0M416.5 58.5h0M392.1 59.7h0M395.0 59.1h0M397.3 59.0h0M398.4 59.6h0M399.6 58.7h0M404.2 59.7h0M405.0 58.8h0M406.5 59.2h0M407.9 59.7h0M409.7 58.9h0M411.0 59.2h0M411.5 58.8h0M413.5 58.7h0M415.7 59.3h0M394.0 60.2h0M395.4 60.8h0M396.8 60.0h0M397.5 60.6h0M399.1 60.0h0M401.0 60.0h0M401.5 60.6h0M403.6 60.4h0M404.5 60.0h0M407.4 60.4h0M408.6 60.2h0M411.8 60.7h0M412.4 60.3h0M413.7 60.0h0M415.6 60.3h0M392.8 61.6h0M395.8 61.6h0M397.4 61.1h0M398.2 61.4h0M400.2 61.9h0M401.2 61.8h0M404.4 61.3h0M405.7 61.5h0M406.8 61.2h0M407.5 61.5h0M409.5 61.2h0M410.2 61.9h0M412.5 61.1h0M413.7 62.1h0M414.3 61.8h0M393.6 62.6h0M394.9 63.1h0M396.4 62.4h0M397.7 63.0h0M400.8 62.9h0M402.3 62.5h0M405.0 63.2h0M405.5 62.3h0M407.4 63.2h0M408.9 62.6h0M410.3 62.9h0M411.9 62.9h0M414.0 63.2h0M394.2 63.5h0M396.4 63.8h0M399.5 63.7h0M401.4 63.8h0M403.0 63.6h0M403.6 63.6h0M405.3 63.6h0M406.9 64.4h0M408.1 63.4h0M409.6 63.7h0M410.9 64.1h0M411.9 64.2h0M394.9 65.4h0M398.3 64.6h0M399.4 65.1h0M402.4 64.6h0M403.3 65.2h0M406.4 65.5h0M406.9 64.7h0M408.8 65.6h0M412.2 65.3h0M395.4 65.8h0M398.5 66.7h0M399.9 66.2h0M401.4 66.7h0M403.9 66.0h0M405.2 66.3h0M406.4 66.1h0M408.4 66.6h0M409.0 66.0h0M410.7 66.6h0M412.2 66.6h0M396.6 67.9h0M398.2 67.7h0M399.2 66.9h0M400.1 67.1h0M401.9 67.4h0M403.7 67.5h0M406.5 67.7h0M407.2 67.8h0M410.3 67.5h0M411.5 67.6h0M412.4 67.2h0M398.8 68.9h0M400.1 68.3h0M402.4 68.6h0M404.8 68.8h0M406.2 68.8h0M407.6 68.7h0M409.2 68.7h0M410.9 69.0h0M412.2 69.0h0M413.3 68.8h0M398.0 70.2h0M399.1 70.2h0M403.2 69.6h0M404.3 70.1h0M405.5 70.1h0M407.3 69.9h0M408.6 69.7h0M409.7 70.3h0M411.2 69.4h0M413.1 69.6h0M400.0 70.6h0M401.7 71.2h0M402.6 71.0h0M403.4 71.4h0M405.5 71.3h0M408.1 70.7h0M409.2 70.9h0M410.2 71.4h0M412.3 71.2h0M402.2 72.2h0M403.2 71.6h0M405.0 72.3h0M406.3 71.8h0M407.1 72.5h0M408.7 71.9h0M412.3 72.4h0M401.0 73.2h0M405.5 73.4h0M406.3 73.7h0M408.2 72.9h0M409.2 73.1h0M412.2 73.7h0M412.9 72.8h0M403.0 74.5h0M408.3 74.1h0M410.3 74.7h0M413.0 74.3h0M403.9 75.3h0M406.4 75.7h0M407.8 75.7h0" stroke="#2b7bc2" stroke-width="1.45" stroke-linecap="round" fill="none"/><path d="M410.4 39.8h0M413.1 39.5h0M400.9 40.9h0M391.9 42.1h0M394.6 41.9h0M403.1 41.6h0M415.6 41.9h0M393.6 42.6h0M397.1 43.2h0M407.0 42.5h0M407.8 42.7h0M413.3 42.9h0M395.2 44.4h0M396.0 44.2h0M403.7 43.6h0M407.7 44.0h0M408.2 44.0h0M413.2 44.3h0M409.4 45.6h0M391.6 46.0h0M397.5 46.0h0M403.1 45.8h0M404.8 46.4h0M407.2 46.5h0M408.1 46.5h0M409.9 46.4h0M413.8 46.4h0M414.9 46.5h0M392.7 47.7h0M394.5 47.2h0M401.0 47.7h0M403.0 47.6h0M405.1 47.6h0M407.0 47.5h0M409.2 47.5h0M411.5 47.1h0M398.4 48.5h0M406.8 48.6h0M408.4 48.6h0M417.8 48.9h0M391.8 49.7h0M401.5 50.1h0M402.2 50.1h0M409.8 49.9h0M411.8 50.0h0M416.5 49.4h0M393.7 50.7h0M399.5 51.0h0M404.7 51.5h0M412.6 50.8h0M394.1 51.8h0M401.1 52.4h0M406.7 51.8h0M407.9 52.6h0M413.3 52.1h0M389.6 53.0h0M393.9 53.6h0M397.6 53.7h0M399.1 53.0h0M402.0 53.5h0M402.8 53.7h0M405.5 52.8h0M408.9 53.6h0M410.4 53.1h0M411.3 53.8h0M414.5 53.0h0M417.2 52.9h0M389.4 54.3h0M390.5 54.0h0M394.3 54.9h0M396.0 54.8h0M397.6 54.3h0M404.0 54.4h0M406.2 54.9h0M414.6 54.3h0M396.1 56.2h0M401.0 56.2h0M401.8 56.2h0M404.3 56.0h0M407.0 55.3h0M410.4 56.0h0M390.7 57.2h0M391.7 57.3h0M401.1 57.0h0M409.4 57.0h0M412.3 56.6h0M415.7 56.3h0M394.0 57.6h0M397.6 58.2h0M398.8 58.1h0M406.4 58.5h0M410.1 58.5h0M414.9 58.0h0M392.9 59.6h0M395.4 59.5h0M401.1 59.1h0M402.3 59.0h0M415.2 59.3h0M392.6 60.4h0M406.3 60.6h0M409.8 60.1h0M394.6 61.2h0M402.3 61.1h0M399.2 62.2h0M402.8 62.5h0M412.2 62.8h0M393.5 63.4h0M396.9 63.6h0M399.0 63.4h0M413.5 64.0h0M396.1 65.5h0M400.7 65.6h0M404.6 65.6h0M410.5 65.5h0M411.2 64.9h0M413.6 65.1h0M396.8 65.8h0M402.7 66.5h0M413.4 66.4h0M405.0 67.4h0M408.5 67.5h0M397.6 68.6h0M401.0 68.1h0M403.9 68.4h0M400.5 69.7h0M402.2 69.4h0M398.6 70.9h0M406.6 71.1h0M413.5 70.5h0M400.0 72.2h0M410.1 72.2h0M411.9 71.9h0M413.8 72.3h0M402.9 73.3h0M403.8 73.4h0M410.9 73.2h0M404.9 74.8h0M406.3 74.5h0M406.9 74.4h0M410.9 74.6h0M405.1 75.5h0M409.3 75.8h0M410.2 76.1h0M412.3 75.1h0" stroke="#ffffff" stroke-width="1.16" stroke-linecap="round" fill="none" opacity="0.85"/><path d="M445.0 67.0 L448.0 65.5 L452.0 63.5 L456.0 62.8 L460.0 63.5 L461.0 67.0 L459.5 71.5 L458.5 75.0 L456.0 77.5 L452.0 78.5 L448.5 79.0 L447.0 77.0 L449.5 73.5 L449.0 71.0 L446.0 69.5 Z" fill="#8c564b" fill-opacity="0.45"/><path d="M456.6 63.2h0M458.4 63.3h0M450.7 64.2h0M454.0 64.1h0M455.5 63.7h0M456.0 64.2h0M458.0 63.5h0M450.0 65.0h0M452.0 65.4h0M452.6 64.7h0M454.8 65.3h0M455.6 65.5h0M457.4 64.6h0M458.7 64.9h0M447.0 66.6h0M449.4 66.1h0M451.4 66.7h0M452.1 66.1h0M453.5 66.3h0M456.9 66.2h0M457.9 66.4h0M459.0 66.3h0M446.1 67.3h0M449.2 67.1h0M450.4 68.0h0M451.2 67.1h0M453.5 67.5h0M455.7 68.0h0M458.9 67.1h0M460.2 67.9h0M447.0 68.8h0M448.7 69.1h0M449.6 69.1h0M452.0 68.2h0M454.1 69.0h0M455.1 68.9h0M456.3 69.2h0M458.0 68.9h0M459.4 69.2h0M447.6 70.2h0M449.0 69.3h0M450.8 69.6h0M451.5 70.3h0M454.5 69.6h0M455.8 69.4h0M456.9 69.4h0M458.1 70.2h0M459.9 69.9h0M448.1 70.5h0M449.9 70.5h0M451.3 71.3h0M456.7 71.0h0M457.4 71.5h0M450.5 72.2h0M454.2 72.7h0M456.2 72.2h0M457.5 72.4h0M458.1 72.7h0M449.7 73.5h0M451.5 73.2h0M452.9 73.6h0M454.0 73.8h0M454.7 73.3h0M456.8 73.9h0M457.5 73.3h0M448.7 74.9h0M450.2 75.0h0M451.3 74.8h0M453.2 74.1h0M454.4 75.1h0M455.9 74.6h0M456.8 74.1h0M458.2 74.3h0M448.0 76.1h0M449.8 75.9h0M450.6 76.0h0M452.0 75.7h0M453.8 75.3h0M454.8 76.0h0M456.5 76.2h0M449.1 76.5h0M451.4 76.6h0M454.8 76.4h0M455.3 76.5h0M448.9 77.9h0M449.8 78.4h0M450.9 77.6h0M452.1 78.0h0M453.9 78.0h0" stroke="#8c564b" stroke-width="1.45" stroke-linecap="round" fill="none"/><path d="M452.1 64.2h0M458.9 63.6h0M448.7 66.2h0M455.2 66.4h0M448.0 67.7h0M454.3 68.0h0M457.5 67.8h0M451.2 68.3h0M452.7 70.4h0M452.9 70.9h0M454.3 70.8h0M455.6 70.9h0M451.6 71.8h0M453.0 72.7h0M447.9 77.4h0M449.9 76.4h0M453.2 77.1h0" stroke="#ffffff" stroke-width="1.16" stroke-linecap="round" fill="none" opacity="0.85"/><path d="M477.5 74.0 L480.0 72.0 L484.0 71.0 L489.0 71.2 L492.5 72.8 L493.8 76.0 L492.2 79.0 L488.5 81.3 L485.0 80.5 L480.5 78.5 Z" fill="#b5bd61" fill-opacity="0.45"/><path d="M485.7 71.1h0M486.9 71.5h0M481.4 71.8h0M482.3 72.2h0M483.9 72.5h0M485.1 72.3h0M486.2 72.0h0M487.1 71.8h0M488.5 72.4h0M489.9 71.6h0M491.9 72.7h0M478.6 73.3h0M480.7 73.7h0M483.1 73.5h0M484.5 73.6h0M485.8 73.6h0M487.1 73.9h0M488.4 72.9h0M489.8 73.7h0M477.9 74.1h0M480.6 74.2h0M482.6 74.4h0M485.3 74.4h0M486.7 74.7h0M489.2 74.1h0M491.4 74.1h0M479.2 76.1h0M479.7 75.4h0M481.8 76.1h0M482.4 75.3h0M484.1 75.9h0M485.8 75.4h0M487.0 76.2h0M488.8 75.7h0M489.6 75.3h0M490.7 75.5h0M492.5 75.6h0M493.2 76.2h0M480.7 76.9h0M484.1 76.6h0M485.0 77.4h0M485.8 76.8h0M489.4 77.1h0M490.5 76.5h0M491.9 77.4h0M492.5 76.6h0M481.4 78.6h0M486.0 78.1h0M488.2 77.8h0M489.8 78.0h0M490.9 78.4h0M483.7 79.2h0M485.9 79.3h0M489.0 79.5h0M490.1 79.4h0M491.3 79.1h0M484.3 80.1h0M486.4 80.3h0M488.5 80.0h0" stroke="#b5bd61" stroke-width="1.45" stroke-linecap="round" fill="none"/><path d="M482.0 72.9h0M491.5 73.9h0M492.7 73.7h0M479.6 74.7h0M483.8 75.0h0M487.7 75.0h0M489.9 74.1h0M493.0 74.6h0M482.6 77.1h0M487.9 77.0h0M480.1 77.6h0M483.0 77.6h0M483.8 78.4h0M487.0 77.7h0M481.8 78.8h0M485.0 79.1h0M488.0 79.7h0" stroke="#ffffff" stroke-width="1.16" stroke-linecap="round" fill="none" opacity="0.85"/><path d="M378.5 77.5 L381.0 75.5 L383.5 74.6 L386.0 77.0 L389.0 79.5 L394.0 81.5 L399.0 83.5 L400.3 85.0 L397.0 86.5 L392.5 88.0 L388.0 90.5 L384.0 93.2 L380.0 92.5 L378.2 89.0 L379.5 85.5 L378.0 81.5 Z" fill="#e377c2" fill-opacity="0.38"/><path d="M381.0 75.8h0M383.2 75.6h0M379.9 77.1h0M380.3 77.0h0M382.2 76.8h0M383.4 77.2h0M378.5 78.2h0M381.9 78.0h0M383.7 78.3h0M385.1 78.3h0M379.4 79.5h0M380.7 79.5h0M381.5 79.8h0M384.8 79.2h0M387.1 79.0h0M379.1 81.0h0M379.9 80.7h0M380.8 80.6h0M387.3 81.0h0M388.4 80.0h0M389.0 80.2h0M379.4 81.3h0M380.7 81.5h0M381.7 82.1h0M383.1 82.1h0M384.9 81.5h0M386.2 81.8h0M388.7 81.3h0M390.4 81.1h0M391.4 82.1h0M378.6 82.3h0M380.1 83.3h0M382.4 83.3h0M385.2 83.2h0M387.2 82.6h0M388.2 82.7h0M389.2 82.6h0M392.4 82.3h0M393.5 83.3h0M382.3 83.5h0M384.8 83.8h0M386.2 83.7h0M388.6 83.5h0M390.4 83.9h0M393.2 83.7h0M394.5 84.1h0M396.1 83.7h0M397.3 83.7h0M380.4 85.2h0M381.4 85.3h0M382.4 84.8h0M384.3 84.7h0M385.8 85.2h0M386.6 85.5h0M388.4 84.9h0M389.8 85.0h0M391.3 85.6h0M391.8 84.7h0M395.7 85.0h0M397.4 84.7h0M398.6 85.5h0M379.8 86.0h0M383.3 86.1h0M386.6 86.2h0M389.1 86.4h0M390.7 86.1h0M391.4 86.6h0M392.8 86.2h0M394.1 86.7h0M396.1 86.0h0M379.8 87.7h0M383.1 87.2h0M385.4 88.0h0M387.1 87.7h0M387.9 87.5h0M389.1 87.2h0M390.9 87.8h0M392.1 87.7h0M380.8 88.8h0M383.7 88.9h0M386.5 88.2h0M389.9 89.2h0M379.1 90.3h0M380.3 90.4h0M381.6 89.8h0M382.3 89.5h0M384.5 89.5h0M386.8 90.3h0M381.9 90.9h0M383.0 91.4h0M387.0 90.6h0M381.4 92.7h0M382.9 92.5h0" stroke="#e377c2" stroke-width="1.45" stroke-linecap="round" fill="none"/><path d="M384.0 76.2h0M384.8 76.5h0M380.1 77.7h0M382.9 77.7h0M378.5 79.0h0M383.8 79.1h0M386.1 79.7h0M383.1 80.4h0M383.8 80.4h0M386.0 81.0h0M392.1 80.9h0M378.1 81.2h0M387.0 82.0h0M393.1 81.3h0M381.7 83.3h0M383.8 82.4h0M390.7 83.3h0M395.1 82.5h0M379.5 83.9h0M381.0 84.5h0M383.2 84.0h0M387.4 83.5h0M391.9 83.5h0M398.3 84.3h0M393.4 84.8h0M394.4 84.7h0M380.3 86.7h0M382.1 86.9h0M385.0 85.9h0M387.2 86.0h0M396.4 86.4h0M380.9 87.9h0M384.1 87.2h0M393.0 87.1h0M394.9 87.0h0M379.5 88.6h0M381.9 88.5h0M384.8 88.9h0M387.0 88.8h0M388.8 88.2h0M385.1 89.8h0M387.9 89.7h0M380.3 91.2h0M385.0 91.1h0M385.8 90.5h0M383.9 92.1h0" stroke="#ffffff" stroke-width="1.16" stroke-linecap="round" fill="none" opacity="0.85"/><path d="M409.0 85.5 L412.0 83.0 L416.0 81.0 L420.0 79.0 L423.5 76.5 L427.0 74.6 L428.6 76.5 L427.0 80.0 L424.0 83.5 L420.0 86.5 L416.0 88.3 L411.5 88.6 Z" fill="#17becf" fill-opacity="0.45"/><path d="M425.6 76.3h0M427.2 75.9h0M423.8 76.7h0M424.8 76.8h0M426.7 77.1h0M428.4 76.8h0M423.5 78.3h0M424.2 78.6h0M427.6 78.1h0M419.7 79.7h0M420.8 79.2h0M422.6 79.0h0M423.9 78.8h0M425.7 78.8h0M426.2 78.8h0M417.5 81.0h0M420.7 80.3h0M422.1 80.7h0M422.8 80.9h0M415.5 81.7h0M417.5 81.5h0M418.8 82.1h0M420.1 81.2h0M421.1 81.5h0M424.9 81.5h0M412.7 82.9h0M413.7 83.1h0M414.8 82.5h0M416.8 83.1h0M417.7 82.7h0M419.5 83.2h0M421.8 82.5h0M424.0 82.9h0M410.8 84.1h0M412.0 83.8h0M412.9 83.8h0M414.1 83.9h0M415.4 84.2h0M416.7 83.9h0M418.3 84.5h0M420.2 83.9h0M421.6 83.5h0M422.2 84.5h0M423.4 83.5h0M410.1 85.5h0M411.1 85.4h0M412.8 85.6h0M413.3 85.1h0M415.0 84.8h0M416.0 85.5h0M420.4 85.0h0M421.8 84.7h0M410.2 86.4h0M411.2 86.3h0M412.9 86.0h0M415.4 86.5h0M417.0 86.8h0M418.2 86.5h0M412.2 87.6h0M413.2 87.7h0M415.0 87.8h0M416.2 87.8h0" stroke="#17becf" stroke-width="1.45" stroke-linecap="round" fill="none"/><path d="M426.0 78.4h0M418.9 80.7h0M424.0 80.7h0M422.9 82.0h0M424.2 81.2h0M420.7 82.8h0M423.0 83.0h0M417.8 84.7h0M419.0 85.5h0M414.0 86.3h0M418.3 87.1h0" stroke="#ffffff" stroke-width="1.16" stroke-linecap="round" fill="none" opacity="0.85"/><path d="M392.5 88.3 L395.5 87.4 L399.5 88.6 L404.0 90.5 L409.0 91.5 L414.0 92.3 L419.0 93.3 L424.0 93.8 L428.2 94.6 L427.0 96.5 L421.0 97.4 L417.0 99.5 L412.0 102.5 L406.0 104.4 L401.0 104.3 L399.5 101.0 L397.0 96.0 L394.0 91.5 Z" fill="#279e68" fill-opacity="0.45"/><path d="M393.1 88.2h0M394.3 88.4h0M396.8 89.1h0M398.9 88.7h0M393.9 89.9h0M395.6 90.0h0M396.5 89.4h0M398.2 89.5h0M399.0 89.8h0M400.7 89.5h0M402.0 90.0h0M403.1 90.3h0M397.3 90.7h0M398.5 90.8h0M399.8 90.8h0M401.7 90.6h0M402.8 90.7h0M403.7 91.0h0M396.0 92.3h0M398.4 92.1h0M400.8 92.6h0M401.9 92.0h0M403.2 92.6h0M404.4 92.1h0M407.5 91.6h0M409.0 91.8h0M411.7 92.4h0M412.7 92.3h0M413.6 92.3h0M397.2 93.6h0M400.4 92.9h0M403.0 93.4h0M403.7 92.9h0M405.5 93.7h0M406.9 93.7h0M407.5 93.8h0M410.8 93.5h0M412.2 93.7h0M414.4 92.9h0M415.7 93.5h0M419.2 93.4h0M420.5 93.8h0M421.8 93.6h0M396.9 94.8h0M398.1 94.9h0M398.9 94.2h0M400.1 94.7h0M402.2 94.9h0M403.0 94.8h0M404.5 94.6h0M406.0 94.4h0M407.0 94.3h0M409.0 94.2h0M411.1 94.9h0M413.0 94.7h0M414.4 94.9h0M415.4 94.8h0M416.5 94.4h0M417.6 94.3h0M419.8 94.7h0M420.6 94.1h0M422.2 95.0h0M423.9 94.5h0M425.3 94.5h0M425.9 94.7h0M398.3 95.4h0M399.7 95.4h0M401.4 95.4h0M402.5 95.6h0M405.8 96.2h0M409.6 95.5h0M410.5 95.6h0M412.0 95.2h0M413.5 95.9h0M415.3 95.1h0M416.1 95.9h0M417.1 95.8h0M418.5 95.7h0M420.4 95.5h0M423.4 95.4h0M425.1 95.8h0M426.8 95.3h0M397.7 96.9h0M399.4 96.7h0M400.4 97.1h0M403.1 97.0h0M404.6 96.9h0M405.8 97.1h0M407.8 96.5h0M409.1 97.1h0M410.5 97.1h0M411.7 97.0h0M412.9 97.3h0M413.6 97.1h0M415.0 96.8h0M416.3 96.9h0M418.5 96.3h0M419.1 96.5h0M420.9 97.3h0M421.7 96.6h0M424.5 96.5h0M398.7 97.7h0M401.8 98.0h0M404.0 98.0h0M405.8 97.5h0M406.9 97.8h0M408.2 97.6h0M409.0 97.6h0M413.3 98.3h0M414.4 98.3h0M416.6 98.3h0M418.8 98.3h0M399.4 99.5h0M400.7 99.0h0M402.1 99.4h0M402.8 99.1h0M404.2 99.4h0M407.5 99.3h0M409.1 99.2h0M410.0 99.0h0M411.6 99.2h0M412.5 99.1h0M414.6 99.4h0M415.3 99.7h0M416.6 99.4h0M399.5 100.6h0M401.0 100.8h0M402.8 100.0h0M404.5 100.7h0M404.9 100.7h0M406.8 99.9h0M407.9 100.6h0M409.2 100.2h0M411.1 100.1h0M411.6 100.4h0M413.7 100.8h0M414.5 99.9h0M400.6 101.8h0M403.4 101.1h0M404.9 101.1h0M405.8 101.7h0M408.7 101.0h0M409.5 101.7h0M411.3 101.7h0M413.0 101.1h0M400.9 102.4h0M402.4 102.2h0M404.4 103.0h0M405.0 102.3h0M407.7 103.1h0M409.0 102.5h0M410.6 102.4h0M400.7 103.4h0M402.3 104.1h0M402.8 104.1h0M406.4 104.2h0M407.2 104.0h0" stroke="#279e68" stroke-width="1.45" stroke-linecap="round" fill="none"/><path d="M395.8 88.6h0M394.9 90.5h0M396.1 90.6h0M406.3 91.1h0M395.5 92.4h0M398.7 92.4h0M406.5 92.2h0M410.4 92.6h0M395.9 93.2h0M398.4 93.0h0M401.3 93.6h0M409.3 93.2h0M413.5 93.3h0M410.3 94.6h0M404.4 95.5h0M407.0 95.4h0M407.5 95.3h0M421.6 96.1h0M424.7 95.1h0M401.8 97.2h0M400.2 97.9h0M403.1 97.5h0M410.2 97.6h0M411.7 98.0h0M417.0 97.6h0M405.9 98.7h0M402.4 101.3h0M406.8 101.1h0M407.0 103.0h0M405.0 104.0h0" stroke="#ffffff" stroke-width="1.16" stroke-linecap="round" fill="none" opacity="0.85"/><path d="M427.5 92.3 L432.0 90.3 L436.2 88.6 L441.0 86.6 L446.0 84.9 L451.0 84.0 L455.9 83.7 L461.0 83.8 L465.6 84.2 L469.0 85.5 L470.8 87.6 L470.5 91.1 L465.6 91.1 L460.0 90.4 L455.9 89.9 L450.0 90.8 L446.0 92.3 L443.0 94.2 L441.0 96.5 L438.5 99.7 L433.6 99.9 L430.5 98.8 L428.2 97.2 L426.6 95.0 Z" fill="#7b3fc0" fill-opacity="0.45"/><path d="M454.8 84.1h0M456.7 84.1h0M462.6 84.1h0M449.2 85.2h0M450.0 85.4h0M452.7 85.4h0M454.5 84.4h0M455.8 85.3h0M457.2 84.9h0M458.4 84.7h0M460.2 85.3h0M460.8 84.9h0M463.4 84.4h0M465.2 85.2h0M466.4 85.4h0M443.3 86.1h0M444.2 85.6h0M445.3 86.3h0M448.3 85.6h0M449.3 86.5h0M450.8 86.3h0M454.0 86.3h0M455.3 86.1h0M457.8 85.8h0M460.3 86.6h0M463.4 86.1h0M464.7 85.9h0M465.3 86.0h0M466.6 86.1h0M468.1 86.4h0M440.8 86.8h0M441.9 87.5h0M444.0 87.5h0M445.8 87.4h0M449.2 87.6h0M449.7 87.0h0M451.8 87.4h0M454.4 87.1h0M456.1 87.0h0M457.3 87.2h0M459.2 87.5h0M460.5 87.4h0M463.3 87.4h0M465.4 87.3h0M467.3 87.1h0M469.4 87.0h0M437.1 88.4h0M438.5 88.9h0M440.6 88.1h0M441.5 88.7h0M443.1 88.4h0M444.4 88.9h0M445.1 88.5h0M449.1 87.9h0M450.4 88.7h0M452.3 88.2h0M453.6 88.7h0M454.9 88.6h0M456.1 88.6h0M457.7 88.1h0M460.2 88.1h0M461.8 87.9h0M463.5 88.5h0M464.2 88.1h0M466.3 88.3h0M467.0 88.8h0M469.0 87.9h0M435.1 89.6h0M436.4 90.0h0M438.3 89.9h0M440.3 90.1h0M441.7 90.0h0M443.9 90.1h0M444.5 89.9h0M445.9 89.8h0M447.0 90.1h0M448.3 89.3h0M449.8 89.1h0M451.6 89.4h0M453.8 90.0h0M455.2 90.0h0M458.5 89.7h0M459.2 90.0h0M462.7 89.2h0M464.2 89.7h0M464.9 89.7h0M468.2 89.1h0M469.3 89.8h0M432.5 90.6h0M433.8 90.7h0M435.9 91.1h0M436.9 90.7h0M438.4 91.2h0M440.0 90.6h0M441.6 90.7h0M442.9 90.3h0M444.3 90.8h0M445.5 90.3h0M448.4 91.2h0M450.8 90.7h0M461.7 90.5h0M462.8 90.8h0M466.7 91.0h0M470.0 90.3h0M429.9 92.2h0M431.5 91.6h0M432.8 91.4h0M434.3 91.6h0M435.3 91.5h0M436.9 91.9h0M438.6 91.5h0M439.6 92.4h0M440.3 91.4h0M444.8 91.8h0M447.6 91.5h0M427.9 93.1h0M429.6 93.3h0M432.0 92.6h0M433.0 93.0h0M434.2 93.3h0M435.8 92.9h0M437.5 93.4h0M438.7 93.4h0M439.8 93.6h0M442.3 93.4h0M444.2 92.7h0M427.7 94.5h0M428.7 94.4h0M430.1 94.2h0M431.0 94.6h0M432.8 94.2h0M434.4 93.9h0M435.8 94.1h0M438.6 94.4h0M439.0 94.1h0M440.4 94.2h0M442.2 94.3h0M428.0 95.4h0M429.2 94.9h0M430.2 95.0h0M432.0 95.2h0M433.7 95.1h0M434.4 95.2h0M437.5 95.7h0M438.4 95.2h0M439.7 95.7h0M441.3 95.5h0M430.0 96.7h0M430.9 96.8h0M432.2 96.6h0M434.6 96.9h0M435.6 96.5h0M436.8 96.1h0M438.2 97.1h0M439.4 97.0h0M429.4 97.3h0M431.1 97.6h0M433.7 98.1h0M435.0 97.8h0M435.7 97.7h0M437.8 97.6h0M439.0 98.2h0M431.8 98.4h0M432.5 98.8h0M433.5 99.1h0M435.6 98.7h0M438.1 99.2h0" stroke="#7b3fc0" stroke-width="1.45" stroke-linecap="round" fill="none"/><path d="M453.4 84.1h0M458.6 83.8h0M451.5 85.1h0M461.9 85.3h0M447.3 86.2h0M452.0 86.4h0M456.3 86.4h0M459.3 85.9h0M462.2 86.0h0M439.4 87.7h0M444.5 87.2h0M447.6 87.3h0M452.9 87.6h0M457.8 87.5h0M462.7 87.1h0M465.9 87.2h0M446.3 88.2h0M448.6 88.1h0M458.7 88.6h0M470.2 88.3h0M439.0 89.8h0M452.9 89.9h0M460.7 89.2h0M466.7 89.8h0M470.3 89.8h0M434.8 90.8h0M446.8 90.7h0M465.3 90.5h0M468.8 90.4h0M442.1 92.0h0M443.0 91.9h0M431.0 92.9h0M441.1 93.4h0M437.1 94.7h0M435.8 95.2h0M429.1 96.9h0M431.7 98.2h0M436.4 98.8h0" stroke="#ffffff" stroke-width="1.16" stroke-linecap="round" fill="none" opacity="0.85"/><path d="M423.0 112.0 L424.5 107.5 L428.0 104.5 L433.0 103.0 L438.0 102.6 L444.0 102.7 L450.0 103.0 L456.0 103.8 L461.0 105.5 L465.0 108.5 L465.4 112.0 L462.0 114.5 L457.0 116.0 L453.0 117.5 L451.0 121.0 L447.0 124.2 L442.0 123.5 L438.0 121.0 L434.0 118.5 L429.0 117.5 L425.0 116.5 L423.0 115.0 Z" fill="#ff7f0e" fill-opacity="0.38"/><path d="M433.7 103.1h0M436.4 102.9h0M439.0 102.9h0M441.5 103.1h0M444.4 103.0h0M447.6 102.9h0M431.3 104.2h0M437.1 103.8h0M438.7 104.3h0M439.5 103.3h0M441.4 103.3h0M442.3 104.0h0M447.8 104.2h0M449.4 104.2h0M450.5 103.4h0M452.0 103.9h0M455.2 104.0h0M429.8 105.4h0M431.3 104.7h0M432.5 104.9h0M435.0 104.7h0M436.1 104.6h0M440.4 104.5h0M442.4 104.8h0M443.5 104.9h0M445.8 105.1h0M449.8 104.5h0M452.4 104.6h0M453.9 105.4h0M455.8 105.2h0M457.2 105.2h0M458.2 104.6h0M427.6 106.2h0M429.6 106.4h0M430.7 105.8h0M432.9 106.5h0M434.9 105.9h0M436.2 105.7h0M441.2 106.5h0M444.2 106.6h0M446.8 105.6h0M451.0 105.7h0M451.5 106.1h0M452.9 106.1h0M454.3 106.0h0M456.4 106.1h0M457.9 105.9h0M461.0 105.9h0M425.9 107.6h0M428.8 106.9h0M429.6 107.1h0M430.9 107.1h0M432.4 107.8h0M434.3 107.4h0M435.0 107.1h0M436.1 107.7h0M437.5 107.3h0M441.5 107.2h0M443.1 107.2h0M444.4 107.8h0M446.2 106.8h0M449.0 107.3h0M449.9 107.2h0M453.0 106.9h0M454.2 107.6h0M455.4 107.5h0M456.7 106.9h0M458.3 106.8h0M459.1 106.9h0M460.6 107.2h0M462.0 106.8h0M424.5 108.6h0M427.4 108.1h0M432.1 108.9h0M432.9 108.6h0M434.1 108.3h0M435.4 108.3h0M437.0 108.8h0M438.2 108.8h0M440.2 108.3h0M441.7 108.5h0M444.4 108.3h0M445.5 108.6h0M448.1 108.1h0M449.4 108.5h0M452.2 108.1h0M453.8 108.6h0M454.6 108.3h0M457.1 108.2h0M460.1 108.4h0M461.3 108.6h0M426.2 109.3h0M426.8 109.2h0M427.9 109.7h0M429.9 110.1h0M431.2 109.5h0M432.0 109.5h0M433.8 109.9h0M435.3 110.1h0M440.5 110.1h0M441.5 109.4h0M443.1 109.5h0M444.8 109.2h0M446.3 109.3h0M449.2 109.4h0M450.5 110.0h0M451.5 109.5h0M454.3 109.6h0M456.2 109.2h0M459.1 109.7h0M461.7 109.7h0M463.9 109.9h0M464.4 110.0h0M424.0 111.3h0M425.3 110.5h0M428.0 110.7h0M429.5 110.9h0M432.6 111.0h0M434.5 111.0h0M435.6 111.3h0M436.8 111.2h0M438.4 111.3h0M440.2 110.3h0M441.1 111.1h0M442.0 110.9h0M445.1 110.7h0M447.0 110.6h0M450.7 110.4h0M452.1 110.8h0M453.8 111.2h0M454.2 110.8h0M456.0 110.6h0M457.3 110.5h0M459.1 110.7h0M459.9 110.5h0M462.0 111.2h0M464.1 111.2h0M423.4 111.8h0M424.6 111.7h0M425.4 112.5h0M427.3 112.0h0M428.8 112.1h0M430.0 112.0h0M431.4 111.5h0M432.4 112.1h0M433.5 112.2h0M436.6 112.0h0M440.5 111.5h0M444.1 111.7h0M446.5 111.9h0M447.0 112.4h0M448.5 112.4h0M453.1 112.2h0M454.3 112.4h0M455.3 111.7h0M456.2 112.1h0M458.2 111.5h0M459.4 112.4h0M462.0 111.6h0M463.7 111.9h0M423.8 113.6h0M425.5 112.9h0M426.2 112.8h0M427.4 112.7h0M430.2 112.9h0M431.3 113.4h0M433.2 113.5h0M434.1 113.6h0M435.6 113.4h0M436.9 113.7h0M438.1 112.7h0M440.1 113.4h0M441.5 113.5h0M443.9 113.5h0M445.0 113.2h0M446.1 113.3h0M448.2 113.6h0M449.8 113.5h0M450.9 112.7h0M453.5 113.0h0M454.9 113.0h0M455.9 113.5h0M458.8 113.5h0M460.2 113.7h0M461.4 113.6h0M462.7 112.8h0M464.0 112.7h0M423.5 114.7h0M425.8 114.0h0M427.9 114.0h0M429.6 114.4h0M430.9 114.1h0M432.1 114.1h0M434.2 114.5h0M435.6 113.9h0M436.5 114.4h0M437.6 114.2h0M439.5 114.1h0M440.9 114.7h0M442.2 114.7h0M442.8 113.9h0M445.8 113.9h0M447.3 114.3h0M448.8 114.8h0M449.9 114.5h0M451.1 114.9h0M452.5 114.5h0M454.5 114.0h0M457.9 114.2h0M460.9 114.8h0M426.3 116.0h0M429.0 115.2h0M430.8 115.7h0M431.3 115.5h0M433.5 115.4h0M434.6 115.2h0M435.5 115.5h0M437.0 115.9h0M439.0 115.6h0M440.2 115.4h0M440.9 116.0h0M442.8 116.0h0M444.3 115.7h0M446.5 115.8h0M448.4 115.3h0M449.6 115.4h0M450.6 115.3h0M452.5 116.0h0M453.5 115.8h0M454.8 115.1h0M456.3 115.0h0M457.4 115.8h0M458.8 115.0h0M431.0 116.7h0M432.6 117.2h0M433.9 116.5h0M436.5 117.0h0M439.3 116.6h0M441.9 116.8h0M443.4 117.1h0M447.4 116.3h0M449.6 117.1h0M451.1 116.9h0M452.4 117.0h0M454.5 116.3h0M455.2 116.4h0M430.1 117.6h0M437.4 118.0h0M440.2 117.7h0M440.7 117.9h0M442.3 117.8h0M443.8 117.7h0M444.8 117.4h0M446.5 118.3h0M448.4 117.6h0M451.1 118.2h0M435.6 119.2h0M436.2 119.2h0M437.5 119.4h0M441.0 118.8h0M442.4 119.1h0M443.8 118.7h0M445.8 119.5h0M447.8 118.9h0M448.3 118.7h0M438.6 120.7h0M439.5 120.2h0M441.0 119.8h0M443.4 119.9h0M446.9 119.9h0M448.1 120.1h0M451.0 120.3h0M440.8 121.5h0M443.7 121.5h0M445.6 120.9h0M446.8 121.1h0M448.3 121.0h0M449.8 121.9h0M443.7 122.9h0M445.2 122.2h0M448.4 123.0h0M444.8 123.3h0M446.3 124.0h0M447.7 123.4h0" stroke="#ff7f0e" stroke-width="1.45" stroke-linecap="round" fill="none"/><path d="M437.5 103.1h0M433.3 104.1h0M434.7 103.8h0M436.1 104.0h0M444.0 103.3h0M445.7 104.2h0M446.5 103.7h0M455.7 104.1h0M428.7 104.5h0M433.6 105.4h0M437.7 104.7h0M439.7 105.5h0M445.0 104.7h0M447.8 104.5h0M449.0 105.0h0M451.6 105.3h0M431.4 106.3h0M437.1 106.0h0M439.0 106.1h0M440.3 106.6h0M442.1 106.2h0M445.3 105.7h0M447.7 106.5h0M449.8 106.3h0M459.3 105.6h0M460.2 106.5h0M427.4 107.4h0M439.4 107.1h0M440.9 107.8h0M447.8 106.9h0M451.2 107.8h0M426.5 108.2h0M429.2 108.7h0M430.1 108.5h0M442.9 108.3h0M446.2 108.3h0M450.6 108.9h0M456.4 108.1h0M458.4 108.6h0M463.1 108.4h0M464.4 108.5h0M436.3 109.7h0M438.2 109.6h0M439.2 109.5h0M446.8 109.4h0M452.4 109.9h0M455.0 109.6h0M457.7 109.5h0M461.1 109.4h0M426.1 110.8h0M430.9 111.2h0M431.4 110.6h0M444.0 110.6h0M448.5 110.5h0M449.4 111.2h0M462.3 111.2h0M435.6 111.7h0M437.7 112.5h0M439.0 112.5h0M442.0 111.6h0M443.6 111.7h0M450.0 111.8h0M451.6 112.0h0M460.4 112.5h0M465.1 112.2h0M428.7 113.6h0M442.8 113.3h0M452.0 113.4h0M457.5 113.0h0M424.6 114.3h0M427.0 114.2h0M444.4 114.6h0M455.8 114.8h0M456.6 114.0h0M459.7 114.6h0M462.1 114.3h0M425.5 115.3h0M428.2 115.8h0M444.8 116.0h0M427.0 116.2h0M428.8 117.0h0M429.3 117.1h0M435.3 116.8h0M438.0 116.7h0M440.9 116.6h0M444.8 116.5h0M445.6 116.5h0M448.7 116.4h0M431.3 117.4h0M433.3 117.5h0M434.5 117.6h0M435.4 118.0h0M438.6 117.6h0M449.8 117.4h0M452.5 117.4h0M439.6 118.9h0M444.1 118.6h0M450.3 119.6h0M451.9 118.6h0M442.4 120.5h0M444.7 120.6h0M449.8 120.6h0M441.8 121.9h0M445.0 121.1h0M440.2 122.1h0M442.8 122.8h0M446.8 122.3h0" stroke="#ffffff" stroke-width="1.16" stroke-linecap="round" fill="none" opacity="0.85"/><path d="M392.5 117.5 L396.0 116.2 L401.0 115.6 L406.0 115.6 L411.0 115.9 L416.0 116.2 L420.5 116.5 L424.0 117.5 L422.5 120.5 L419.5 122.0 L420.0 125.0 L424.5 127.5 L427.0 131.0 L424.5 134.0 L419.0 135.4 L415.5 134.0 L413.0 130.5 L409.5 128.5 L406.5 129.5 L403.5 132.5 L401.0 134.6 L400.0 132.0 L402.0 127.5 L402.5 123.5 L398.5 120.5 L394.0 119.5 Z" fill="#d62728" fill-opacity="0.38"/><path d="M400.1 115.9h0M406.2 116.1h0M407.6 116.1h0M408.4 115.9h0M409.9 116.0h0M394.6 117.1h0M396.0 116.5h0M397.6 117.1h0M399.9 117.2h0M401.6 116.5h0M402.9 116.3h0M404.5 116.4h0M405.5 117.1h0M409.6 117.1h0M411.8 116.9h0M413.1 117.0h0M414.6 117.2h0M417.0 116.5h0M420.5 117.2h0M421.9 117.2h0M394.3 117.7h0M395.1 118.4h0M397.0 117.8h0M398.4 118.1h0M399.3 118.0h0M401.1 117.9h0M404.3 117.9h0M405.7 118.2h0M406.8 117.7h0M408.2 118.4h0M409.7 118.3h0M412.5 118.0h0M413.6 118.0h0M415.0 118.1h0M416.7 118.4h0M419.2 118.0h0M421.0 118.0h0M397.2 118.9h0M398.1 118.8h0M402.6 119.4h0M403.6 118.6h0M406.5 119.0h0M410.4 119.2h0M414.9 119.0h0M417.5 118.7h0M419.7 119.3h0M421.5 119.4h0M403.3 120.0h0M404.5 120.8h0M405.7 120.6h0M407.3 120.7h0M408.7 120.5h0M409.9 120.3h0M411.1 120.7h0M412.6 119.8h0M414.2 120.1h0M415.8 120.6h0M417.1 120.8h0M417.8 119.9h0M419.3 119.9h0M421.9 119.9h0M401.2 121.7h0M403.1 121.6h0M404.5 121.9h0M405.7 121.8h0M406.9 121.8h0M409.0 121.8h0M412.6 121.1h0M413.3 121.7h0M417.0 121.0h0M418.9 121.4h0M419.8 121.1h0M401.5 122.4h0M402.8 123.1h0M404.6 123.1h0M405.6 122.1h0M407.8 122.3h0M410.3 122.2h0M411.8 122.3h0M415.4 123.1h0M416.4 122.8h0M418.6 123.0h0M403.0 124.2h0M403.7 124.3h0M405.3 123.5h0M406.4 124.3h0M408.4 124.2h0M409.1 124.1h0M410.5 124.1h0M413.1 123.8h0M416.5 123.7h0M416.9 123.8h0M419.1 123.8h0M403.1 125.0h0M404.2 125.4h0M405.8 125.3h0M406.9 125.1h0M410.9 124.8h0M412.7 125.0h0M415.2 125.3h0M417.3 125.1h0M418.6 124.5h0M419.5 125.1h0M403.7 126.2h0M405.6 126.5h0M408.4 126.1h0M409.1 126.4h0M415.2 126.6h0M416.5 126.3h0M417.4 126.6h0M421.2 125.9h0M401.9 127.8h0M403.6 127.7h0M406.9 127.4h0M408.4 127.8h0M409.8 127.4h0M413.3 127.5h0M414.4 127.7h0M418.0 127.1h0M419.2 126.9h0M423.3 127.0h0M401.7 128.7h0M402.5 128.4h0M408.2 128.2h0M409.1 128.5h0M410.9 129.0h0M411.6 128.4h0M413.6 128.0h0M416.1 128.4h0M417.6 129.0h0M420.2 128.8h0M421.2 129.1h0M423.0 128.6h0M402.0 129.3h0M406.9 129.2h0M413.9 130.1h0M415.3 129.2h0M417.1 129.5h0M417.7 129.3h0M420.0 129.3h0M420.9 130.0h0M422.5 130.2h0M425.2 130.0h0M400.9 130.7h0M403.0 130.5h0M404.2 131.3h0M413.7 131.1h0M414.9 130.4h0M418.8 130.7h0M421.2 130.4h0M424.3 131.2h0M425.9 130.4h0M426.5 131.0h0M400.6 132.4h0M403.3 132.1h0M415.0 132.4h0M417.9 132.4h0M419.3 131.9h0M420.8 132.1h0M422.5 131.8h0M424.6 132.0h0M401.0 133.1h0M415.7 133.1h0M417.3 132.8h0M418.8 133.3h0M420.7 132.8h0M422.0 132.9h0M422.7 133.6h0M423.8 132.8h0M401.0 134.5h0M416.3 134.0h0" stroke="#d62728" stroke-width="1.45" stroke-linecap="round" fill="none"/><path d="M403.4 115.8h0M404.9 115.8h0M398.3 116.3h0M406.4 117.3h0M407.7 116.4h0M410.5 116.9h0M416.5 116.6h0M418.7 117.1h0M402.0 117.7h0M403.5 118.4h0M411.6 118.1h0M418.2 117.5h0M422.5 118.0h0M423.8 117.7h0M394.6 119.6h0M395.4 119.2h0M399.8 119.3h0M400.9 119.2h0M405.7 119.5h0M407.6 118.9h0M409.4 119.1h0M412.3 119.3h0M413.2 119.1h0M415.8 118.8h0M419.2 119.4h0M422.4 118.8h0M399.5 120.1h0M401.0 120.7h0M402.2 120.4h0M421.0 120.7h0M400.0 121.2h0M407.6 121.4h0M410.7 121.7h0M415.2 121.6h0M415.7 121.5h0M408.7 123.0h0M413.1 122.7h0M414.4 122.1h0M419.1 122.8h0M412.0 124.1h0M414.7 124.2h0M408.9 124.9h0M409.6 125.1h0M414.5 124.5h0M402.8 125.8h0M406.2 126.0h0M410.5 126.2h0M412.4 125.8h0M413.5 125.8h0M419.1 126.2h0M420.5 126.0h0M404.4 126.9h0M406.3 127.0h0M411.9 127.6h0M415.7 127.9h0M417.2 127.5h0M421.3 127.3h0M422.2 127.5h0M403.8 128.6h0M405.7 128.5h0M406.8 128.8h0M414.5 128.7h0M419.0 128.2h0M424.0 128.9h0M403.4 129.9h0M404.5 129.8h0M406.3 129.6h0M411.5 129.2h0M423.0 129.8h0M416.5 131.3h0M417.4 131.1h0M420.0 130.6h0M422.9 130.8h0M401.8 132.0h0M416.7 132.3h0M424.0 131.6h0M402.3 133.5h0M418.2 134.5h0M419.4 133.9h0M420.5 134.4h0" stroke="#ffffff" stroke-width="1.16" stroke-linecap="round" fill="none" opacity="0.85"/><circle cx="397.1" cy="112.9" r="1.2" fill="#d62728"/><path d="M397.4 113.6 L399 116" stroke="#d62728" stroke-width="0.8"/><text x="402.5" y="58.0" font-size="5.0" fill="#10203a" fill-opacity="0.90" textLength="9.0" lengthAdjust="spacingAndGlyphs">RBC</text><text x="448.7" y="71.0" font-size="5.0" fill="#2a1008" fill-opacity="0.90" textLength="8.0" lengthAdjust="spacingAndGlyphs">Mast</text><text x="477.7" y="77.4" font-size="5.0" fill="#202008" fill-opacity="0.95" textLength="16.2" lengthAdjust="spacingAndGlyphs">NK-ILC</text><text x="389.0" y="79.7" font-size="5.0" fill="#2a2a2a" fill-opacity="0.95" textLength="19.4" lengthAdjust="spacingAndGlyphs">Platelets</text><text x="376.0" y="87.1" font-size="5.0" fill="#2a2a2a" fill-opacity="0.95" textLength="26.0" lengthAdjust="spacingAndGlyphs">Stroma-like</text><text x="410.0" y="85.5" font-size="5.0" fill="#2a2a2a" fill-opacity="0.95" textLength="17.7" lengthAdjust="spacingAndGlyphs">Basophil</text><text x="402.0" y="97.4" font-size="5.0" fill="#0a2014" fill-opacity="0.90" textLength="17.7" lengthAdjust="spacingAndGlyphs">Mono-DC</text><text x="436.5" y="91.0" font-size="5.0" fill="#180828" fill-opacity="0.80" textLength="9.0" lengthAdjust="spacingAndGlyphs">pDC</text><text x="438.8" y="111.5" font-size="5.0" fill="#301800" fill-opacity="0.90" textLength="12.4" lengthAdjust="spacingAndGlyphs">B-cell</text><text x="401.0" y="124.6" font-size="5.0" fill="#280404" fill-opacity="0.90" textLength="15.5" lengthAdjust="spacingAndGlyphs">NK-ILC</text><rect x="372.80" y="32.60" width="126.70" height="107.60" fill="none" stroke="#333" stroke-width="1.1"/><text x="436.5" y="27.6" font-size="9.3" fill="#222" text-anchor="middle" textLength="127.5" lengthAdjust="spacingAndGlyphs">Unpurified OP9 co-culture - Week 2</text><text x="436.1" y="150.4" font-size="8.6" font-weight="bold" fill="#333" text-anchor="middle" textLength="17.5" lengthAdjust="spacingAndGlyphs">UMAP1</text><text transform="translate(368.4 86.4) rotate(-90)" x="0" y="0" font-size="8.6" font-weight="bold" fill="#333" text-anchor="middle" textLength="17.5" lengthAdjust="spacingAndGlyphs">UMAP2</text><path d="M49.1 391.3 C44 388 42.5 383 45.5 380.6 C48.5 378.8 52.5 381 51.6 384.5 C51 387 50 389.5 49.1 391.3 Z" fill="#a060c0" fill-opacity="0.75"/><path d="M49.1 391.3 C47.5 387 47 384 48 381.5" stroke="#c8a0dc" stroke-width="0.8" fill="none"/><path d="M49.1 391.3 Q57.9 389.0 66.7 391.3" stroke="#a060c0" stroke-opacity="0.60" stroke-width="0.80" fill="none" stroke-linecap="round"/><path d="M61.2 390.3 L58.6 388.1 L58.2 392.1 Z" fill="#a060c0" fill-opacity="0.70"/><path d="M49.1 391.3 Q66.8 392.6 81.6 402.4" stroke="#a060c0" stroke-opacity="0.70" stroke-width="1.50" fill="none" stroke-linecap="round"/><path d="M75.6 398.9 L74.0 395.8 L72.2 399.4 Z" fill="#a060c0" fill-opacity="0.80"/><path d="M49.1 391.3 Q72.0 401.1 87.3 420.9" stroke="#a060c0" stroke-opacity="0.70" stroke-width="1.10" fill="none" stroke-linecap="round"/><path d="M81.8 414.3 L81.3 410.9 L78.4 413.7 Z" fill="#a060c0" fill-opacity="0.80"/><path d="M49.1 391.3 Q71.6 411.0 81.6 439.2" stroke="#a060c0" stroke-opacity="0.60" stroke-width="0.70" fill="none" stroke-linecap="round"/><path d="M79.5 433.8 L80.3 430.5 L76.6 432.0 Z" fill="#a060c0" fill-opacity="0.70"/><path d="M49.1 391.3 Q65.5 418.4 66.6 450.0" stroke="#a060c0" stroke-opacity="0.70" stroke-width="1.10" fill="none" stroke-linecap="round"/><path d="M66.3 444.3 L68.0 441.3 L64.0 441.7 Z" fill="#a060c0" fill-opacity="0.80"/><path d="M49.1 391.3 Q56.6 420.8 48.8 450.3" stroke="#a060c0" stroke-opacity="0.75" stroke-width="1.50" fill="none" stroke-linecap="round"/><path d="M50.4 443.7 L52.8 441.3 L48.9 440.6 Z" fill="#a060c0" fill-opacity="0.85"/><path d="M49.1 391.3 Q48.6 414.3 37.8 434.4" stroke="#a060c0" stroke-opacity="0.45" stroke-width="0.50" fill="none" stroke-linecap="round"/><path d="M37.8 434.4 L40.8 432.8 L37.3 431.0 Z" fill="#a060c0" fill-opacity="0.55"/><path d="M49.1 391.3 Q44.3 406.0 33.6 417.0" stroke="#a060c0" stroke-opacity="0.70" stroke-width="2.80" fill="none" stroke-linecap="round"/><path d="M33.6 417.0 L38.1 416.1 L34.2 412.4 Z" fill="#a060c0" fill-opacity="0.80"/><path d="M49.1 391.3 Q42.8 398.9 33.7 402.4" stroke="#a060c0" stroke-opacity="0.70" stroke-width="1.20" fill="none" stroke-linecap="round"/><path d="M38.8 400.0 L42.2 400.3 L40.2 396.9 Z" fill="#a060c0" fill-opacity="0.80"/><circle cx="66.7" cy="391.3" r="1.3" fill="#3a9a3a"/><circle cx="81.6" cy="402.4" r="2.7" fill="#1f6fc0"/><circle cx="87.3" cy="420.9" r="3.4" fill="#e8141c"/><circle cx="33.7" cy="402.4" r="1.5" fill="#f0a030"/><circle cx="81.6" cy="439.2" r="1.0" fill="#111"/><circle cx="66.6" cy="450.0" r="1.0" fill="#5aa0d8"/><circle cx="48.8" cy="450.3" r="1.2" fill="#a05020"/><text x="26.1" y="374.4" font-size="5.0" fill="#111" font-weight="bold" text-anchor="start" textLength="23.3" lengthAdjust="spacingAndGlyphs">Mono-DC</text><text x="57.0" y="374.4" font-size="5.0" fill="#111" font-weight="bold" text-anchor="start" textLength="16.8" lengthAdjust="spacingAndGlyphs">NK-ILC</text><path d="M51.5 372.8 H54.6" stroke="#222" stroke-width="0.5"/><path d="M55.8 372.8 L54.2 371.9 L54.2 373.7 Z" fill="#222"/><text x="15.4" y="389.2" font-size="5.2" fill="#111" font-weight="bold" text-anchor="start" textLength="22.6" lengthAdjust="spacingAndGlyphs">Mono-DC</text><text x="65.7" y="388.7" font-size="5.4" fill="#555" text-anchor="start" textLength="20.0" lengthAdjust="spacingAndGlyphs">Mast-cell</text><text x="10.2" y="408.3" font-size="5.4" fill="#555" text-anchor="start" textLength="25.2" lengthAdjust="spacingAndGlyphs">Progenitors</text><text x="83.6" y="410.4" font-size="5.4" fill="#555" text-anchor="start" textLength="12.1" lengthAdjust="spacingAndGlyphs">B-cell</text><text x="87.0" y="428.8" font-size="5.4" fill="#555" text-anchor="start" textLength="11.3" lengthAdjust="spacingAndGlyphs">RBC</text><text x="18.7" y="427.4" font-size="5.4" fill="#555" text-anchor="start" textLength="10.3" lengthAdjust="spacingAndGlyphs">pDC</text><text x="16.0" y="446.5" font-size="5.4" fill="#555" text-anchor="start" textLength="24.8" lengthAdjust="spacingAndGlyphs">Stroma-like</text><text x="77.5" y="445.9" font-size="5.4" fill="#555" text-anchor="start" textLength="19.0" lengthAdjust="spacingAndGlyphs">Platelets</text><text x="31.6" y="458.6" font-size="5.2" fill="#111" font-weight="bold" text-anchor="start" textLength="17.4" lengthAdjust="spacingAndGlyphs">NK-ILC</text><text x="61.9" y="456.8" font-size="5.4" fill="#555" text-anchor="start" textLength="15.6" lengthAdjust="spacingAndGlyphs">Basophil</text><path d="M282.7 417.7 C279 415 275 414.8 272 416.5 C270.8 417.6 271.5 419.5 274 420.3 C276 421 278.5 420.5 282.7 417.7 Z" fill="#e890c4" fill-opacity="0.85"/><path d="M276 420.5 L275.3 423.5 L277.2 421" fill="#e890c4"/><path d="M282.7 417.7 Q289.8 401.2 302.6 388.7" stroke="#e890c4" stroke-opacity="0.75" stroke-width="1.90" fill="none" stroke-linecap="round"/><path d="M298.4 393.1 L295.0 393.9 L298.0 396.5 Z" fill="#e890c4" fill-opacity="0.85"/><path d="M282.7 417.7 Q283.4 408.4 287.6 400.0" stroke="#e890c4" stroke-opacity="0.75" stroke-width="1.50" fill="none" stroke-linecap="round"/><path d="M285.6 404.6 L282.7 406.6 L286.5 407.9 Z" fill="#e890c4" fill-opacity="0.85"/><path d="M282.7 417.7 Q299.0 399.4 321.1 388.7" stroke="#e890c4" stroke-opacity="0.55" stroke-width="0.50" fill="none" stroke-linecap="round"/><path d="M316.4 391.1 L313.0 390.7 L314.9 394.2 Z" fill="#e890c4" fill-opacity="0.65"/><path d="M282.7 417.7 Q307.4 403.7 335.5 400.3" stroke="#e890c4" stroke-opacity="0.60" stroke-width="0.90" fill="none" stroke-linecap="round"/><path d="M330.9 400.9 L327.8 399.4 L328.4 403.4 Z" fill="#e890c4" fill-opacity="0.70"/><path d="M282.7 417.7 Q312.2 412.1 341.6 418.2" stroke="#e890c4" stroke-opacity="0.50" stroke-width="0.60" fill="none" stroke-linecap="round"/><path d="M334.4 416.9 L331.9 414.5 L331.3 418.4 Z" fill="#e890c4" fill-opacity="0.60"/><path d="M282.7 417.7 Q311.2 421.8 336.0 436.6" stroke="#e890c4" stroke-opacity="0.50" stroke-width="0.60" fill="none" stroke-linecap="round"/><path d="M331.1 433.8 L329.5 430.7 L327.6 434.2 Z" fill="#e890c4" fill-opacity="0.60"/><path d="M282.7 417.7 Q305.0 429.2 321.1 448.4" stroke="#e890c4" stroke-opacity="0.55" stroke-width="0.70" fill="none" stroke-linecap="round"/><path d="M316.8 443.5 L316.3 440.1 L313.4 442.9 Z" fill="#e890c4" fill-opacity="0.65"/><path d="M282.7 417.7 Q295.7 431.1 302.6 448.4" stroke="#e890c4" stroke-opacity="0.65" stroke-width="0.90" fill="none" stroke-linecap="round"/><path d="M299.8 442.1 L300.4 438.7 L296.8 440.5 Z" fill="#e890c4" fill-opacity="0.75"/><path d="M287.2 428.5 L287.4 434.5" stroke="#e890c4" stroke-width="0.6"/><path d="M287.4 433.8 L285.6 430 L289.2 430 Z" fill="#e890c4"/><circle cx="302.6" cy="388.7" r="1.7" fill="#7a2a9a"/><circle cx="321.1" cy="388.7" r="1.3" fill="#3a9a3a"/><circle cx="287.6" cy="400.0" r="1.4" fill="#f0a030"/><circle cx="335.5" cy="400.3" r="2.8" fill="#2a6fb0"/><circle cx="341.6" cy="418.2" r="3.4" fill="#e8141c"/><circle cx="336.0" cy="436.6" r="1.0" fill="#111"/><circle cx="321.1" cy="448.4" r="1.0" fill="#5aa0d8"/><circle cx="302.6" cy="448.4" r="1.2" fill="#a05020"/><circle cx="287.6" cy="436.3" r="0.8" fill="#d080b0"/><text x="291.8" y="374.2" font-size="5.0" fill="#111" font-weight="bold" text-anchor="start" textLength="10.2" lengthAdjust="spacingAndGlyphs">pDC</text><text x="310.2" y="374.2" font-size="5.0" fill="#111" font-weight="bold" text-anchor="start" textLength="16.8" lengthAdjust="spacingAndGlyphs">NK-ILC</text><path d="M303.3 372.6 H306.8" stroke="#222" stroke-width="0.5"/><path d="M308.0 372.6 L306.4 371.7 L306.4 373.5 Z" fill="#222"/><text x="263.0" y="414.2" font-size="5.2" fill="#111" font-weight="bold" text-anchor="start" textLength="9.6" lengthAdjust="spacingAndGlyphs">pDC</text><text x="289.2" y="385.4" font-size="5.4" fill="#555" text-anchor="start" textLength="21.6" lengthAdjust="spacingAndGlyphs">Mono-DC</text><text x="318.5" y="385.4" font-size="5.4" fill="#555" text-anchor="start" textLength="20.0" lengthAdjust="spacingAndGlyphs">Mast-cell</text><text x="264.6" y="397.0" font-size="5.4" fill="#555" text-anchor="start" textLength="24.6" lengthAdjust="spacingAndGlyphs">Progenitors</text><text x="336.0" y="396.1" font-size="5.4" fill="#555" text-anchor="start" textLength="11.7" lengthAdjust="spacingAndGlyphs">B-cell</text><text x="340.2" y="413.9" font-size="5.4" fill="#555" text-anchor="start" textLength="10.1" lengthAdjust="spacingAndGlyphs">RBC</text><text x="334.5" y="434.3" font-size="5.4" fill="#555" text-anchor="start" textLength="18.5" lengthAdjust="spacingAndGlyphs">Platelets</text><text x="321.3" y="446.5" font-size="5.4" fill="#555" text-anchor="start" textLength="18.9" lengthAdjust="spacingAndGlyphs">Basophil</text><text x="267.8" y="443.2" font-size="5.4" fill="#555" text-anchor="start" textLength="24.2" lengthAdjust="spacingAndGlyphs">Stroma-like</text><text x="302.9" y="457.0" font-size="5.2" fill="#111" font-weight="bold" text-anchor="start" textLength="16.8" lengthAdjust="spacingAndGlyphs">NK-ILC</text><path d="M197.50 382.54 A40.6 40.6 0 0 1 198.23 382.97 Q176.13 416.74 144.82 442.19 A40.6 40.6 0 0 1 144.39 441.62 Q175.90 416.54 197.50 382.54 Z" fill="#9446b8" fill-opacity="0.16"/><path d="M198.59 383.19 A40.6 40.6 0 0 1 199.31 383.65 Q176.15 416.69 144.02 441.09 A40.6 40.6 0 0 1 143.61 440.51 Q175.93 416.48 198.59 383.19 Z" fill="#9446b8" fill-opacity="0.16"/><path d="M199.67 383.88 A40.6 40.6 0 0 1 200.37 384.36 Q176.13 416.59 143.05 439.66 A40.6 40.6 0 0 1 142.68 439.07 Q175.91 416.37 199.67 383.88 Z" fill="#9446b8" fill-opacity="0.16"/><path d="M200.72 384.61 A40.6 40.6 0 0 1 201.41 385.11 Q176.25 416.67 142.76 439.20 A40.6 40.6 0 0 1 142.39 438.59 Q176.04 416.45 200.72 384.61 Z" fill="#9446b8" fill-opacity="0.16"/><path d="M201.75 385.36 A40.6 40.6 0 0 1 202.42 385.88 Q176.28 416.64 142.10 438.11 A40.6 40.6 0 0 1 141.75 437.50 Q176.08 416.42 201.75 385.36 Z" fill="#9446b8" fill-opacity="0.16"/><path d="M202.75 386.15 A40.6 40.6 0 0 1 203.41 386.69 Q176.31 416.61 141.46 436.96 A40.6 40.6 0 0 1 141.13 436.34 Q176.12 416.38 202.75 386.15 Z" fill="#9446b8" fill-opacity="0.16"/><path d="M203.73 386.97 A40.6 40.6 0 0 1 204.37 387.53 Q176.41 416.68 141.16 436.40 A40.6 40.6 0 0 1 140.84 435.77 Q176.23 416.45 203.73 386.97 Z" fill="#9446b8" fill-opacity="0.16"/><path d="M204.68 387.81 A40.6 40.6 0 0 1 205.30 388.40 Q176.41 416.59 140.43 434.91 A40.6 40.6 0 0 1 140.13 434.26 Q176.23 416.35 204.68 387.81 Z" fill="#9446b8" fill-opacity="0.16"/><path d="M205.61 388.69 A40.6 40.6 0 0 1 206.21 389.29 Q176.43 416.55 139.87 433.66 A40.6 40.6 0 0 1 139.59 433.00 Q176.26 416.31 205.61 388.69 Z" fill="#9446b8" fill-opacity="0.16"/><path d="M206.50 389.60 A40.6 40.6 0 0 1 207.09 390.22 Q176.46 416.50 139.33 432.33 A40.6 40.6 0 0 1 139.08 431.66 Q176.29 416.25 206.50 389.60 Z" fill="#9446b8" fill-opacity="0.16"/><path d="M207.37 390.53 A40.6 40.6 0 0 1 207.93 391.17 Q176.57 416.65 139.25 432.13 A40.6 40.6 0 0 1 139.00 431.46 Q176.43 416.41 207.37 390.53 Z" fill="#9446b8" fill-opacity="0.16"/><path d="M208.21 391.49 A40.6 40.6 0 0 1 208.75 392.15 Q176.59 416.59 138.74 430.71 A40.6 40.6 0 0 1 138.52 430.04 Q176.45 416.35 208.21 391.49 Z" fill="#9446b8" fill-opacity="0.16"/><path d="M209.02 392.48 A40.6 40.6 0 0 1 209.54 393.15 Q176.65 416.64 138.46 429.85 A40.6 40.6 0 0 1 138.26 429.18 Q176.52 416.39 209.02 392.48 Z" fill="#9446b8" fill-opacity="0.16"/><path d="M209.79 393.49 A40.6 40.6 0 0 1 210.29 394.18 Q176.63 416.46 137.85 427.71 A40.6 40.6 0 0 1 137.69 427.03 Q176.50 416.20 209.79 393.49 Z" fill="#9446b8" fill-opacity="0.16"/><path d="M210.54 394.53 A40.6 40.6 0 0 1 211.02 395.23 Q176.68 416.49 137.61 426.70 A40.6 40.6 0 0 1 137.46 426.01 Q176.56 416.22 210.54 394.53 Z" fill="#9446b8" fill-opacity="0.16"/><path d="M211.25 395.59 A40.6 40.6 0 0 1 211.71 396.31 Q176.77 416.63 137.55 426.43 A40.6 40.6 0 0 1 137.40 425.74 Q176.66 416.38 211.25 395.59 Z" fill="#9446b8" fill-opacity="0.16"/><path d="M211.93 396.67 A40.6 40.6 0 0 1 212.36 397.40 Q176.74 416.41 137.08 423.94 A40.6 40.6 0 0 1 136.98 423.24 Q176.64 416.13 211.93 396.67 Z" fill="#9446b8" fill-opacity="0.16"/><path d="M212.57 397.77 A40.6 40.6 0 0 1 212.98 398.51 Q176.79 416.41 136.92 422.77 A40.6 40.6 0 0 1 136.84 422.06 Q176.70 416.13 212.57 397.77 Z" fill="#9446b8" fill-opacity="0.16"/><path d="M137.64 408.57 A40.6 40.6 0 0 1 137.89 407.53 Q160.45 427.94 168.33 457.32 A40.6 40.6 0 0 1 167.50 457.13 Q159.66 428.49 137.64 408.57 Z" fill="#9446b8" fill-opacity="0.14"/><path d="M138.13 406.65 A40.6 40.6 0 0 1 138.44 405.63 Q159.56 427.13 165.69 456.64 A40.6 40.6 0 0 1 164.88 456.39 Q158.74 427.63 138.13 406.65 Z" fill="#9446b8" fill-opacity="0.14"/><path d="M138.72 404.75 A40.6 40.6 0 0 1 139.07 403.75 Q159.37 426.26 164.23 456.17 A40.6 40.6 0 0 1 163.43 455.89 Q158.53 426.72 138.72 404.75 Z" fill="#9446b8" fill-opacity="0.14"/><path d="M139.40 402.89 A40.6 40.6 0 0 1 139.80 401.90 Q158.72 425.36 161.95 455.33 A40.6 40.6 0 0 1 161.17 455.00 Q157.86 425.78 139.40 402.89 Z" fill="#9446b8" fill-opacity="0.14"/><path d="M140.17 401.06 A40.6 40.6 0 0 1 140.62 400.09 Q157.09 424.27 158.07 453.51 A40.6 40.6 0 0 1 157.32 453.10 Q156.20 424.62 140.17 401.06 Z" fill="#9446b8" fill-opacity="0.14"/><path d="M141.03 399.27 A40.6 40.6 0 0 1 141.52 398.33 Q157.06 423.34 156.75 452.78 A40.6 40.6 0 0 1 156.02 452.34 Q156.15 423.65 141.03 399.27 Z" fill="#9446b8" fill-opacity="0.14"/><path d="M141.97 397.52 A40.6 40.6 0 0 1 142.51 396.61 Q156.14 422.16 154.05 451.05 A40.6 40.6 0 0 1 153.36 450.56 Q155.22 422.42 141.97 397.52 Z" fill="#9446b8" fill-opacity="0.14"/><path d="M143.00 395.83 A40.6 40.6 0 0 1 143.58 394.94 Q155.42 420.94 151.67 449.27 A40.6 40.6 0 0 1 151.01 448.72 Q154.49 421.14 143.00 395.83 Z" fill="#9446b8" fill-opacity="0.14"/><path d="M144.11 394.18 A40.6 40.6 0 0 1 144.73 393.32 Q155.15 419.82 149.97 447.81 A40.6 40.6 0 0 1 149.35 447.24 Q154.21 419.97 144.11 394.18 Z" fill="#9446b8" fill-opacity="0.14"/><path d="M145.29 392.59 A40.6 40.6 0 0 1 145.96 391.77 Q154.03 418.19 147.10 444.94 A40.6 40.6 0 0 1 146.53 444.31 Q153.08 418.28 145.29 392.59 Z" fill="#9446b8" fill-opacity="0.14"/><path d="M217.79 416.99 A40.6 40.6 0 0 1 197.50 452.86 Q176.20 421.70 217.79 416.99 Z" fill="#9446b8" fill-opacity="0.62"/><path d="M146.10 391.60 A40.6 40.6 0 0 1 147.70 389.80 Q178.23 416.73 203.30 448.80 A40.6 40.6 0 0 1 201.06 450.55 Q173.49 421.18 146.10 391.60 Z" fill="#9446b8" fill-opacity="0.42" stroke="#ffffff" stroke-width="0.35"/><path d="M147.95 389.55 A40.6 40.6 0 0 1 149.67 387.86 Q182.68 413.28 200.72 450.79 A40.6 40.6 0 0 1 198.35 452.35 Q177.62 417.36 147.95 389.55 Z" fill="#9446b8" fill-opacity="0.42" stroke="#ffffff" stroke-width="0.35"/><path d="M149.93 387.62 A40.6 40.6 0 0 1 151.76 386.06 Q179.27 416.27 197.99 452.57 A40.6 40.6 0 0 1 195.51 453.94 Q173.92 419.96 149.93 387.62 Z" fill="#9446b8" fill-opacity="0.42" stroke="#ffffff" stroke-width="0.35"/><path d="M152.04 385.84 A40.6 40.6 0 0 1 153.97 384.40 Q180.83 415.57 195.13 454.13 A40.6 40.6 0 0 1 192.54 455.29 Q175.23 418.86 152.04 385.84 Z" fill="#9446b8" fill-opacity="0.42" stroke="#ffffff" stroke-width="0.35"/><path d="M154.26 384.20 A40.6 40.6 0 0 1 156.29 382.90 Q179.22 416.71 192.15 455.45 A40.6 40.6 0 0 1 189.48 456.40 Q173.38 419.57 154.26 384.20 Z" fill="#9446b8" fill-opacity="0.42" stroke="#ffffff" stroke-width="0.35"/><path d="M156.59 382.72 A40.6 40.6 0 0 1 158.70 381.56 Q181.40 416.01 189.07 456.53 A40.6 40.6 0 0 1 186.33 457.26 Q175.37 418.44 156.59 382.72 Z" fill="#9446b8" fill-opacity="0.42" stroke="#ffffff" stroke-width="0.35"/><path d="M159.02 381.40 A40.6 40.6 0 0 1 161.21 380.38 Q178.77 417.20 185.92 457.35 A40.6 40.6 0 0 1 183.13 457.86 Q172.58 419.17 159.02 381.40 Z" fill="#9446b8" fill-opacity="0.42" stroke="#ffffff" stroke-width="0.35"/><path d="M161.53 380.24 A40.6 40.6 0 0 1 163.78 379.38 Q176.37 417.90 182.71 457.92 A40.6 40.6 0 0 1 179.89 458.21 Q170.04 419.40 161.53 380.24 Z" fill="#9446b8" fill-opacity="0.42" stroke="#ffffff" stroke-width="0.35"/><path d="M164.12 379.27 A40.6 40.6 0 0 1 166.42 378.56 Q186.30 416.23 179.47 458.24 A40.6 40.6 0 0 1 176.63 458.30 Q179.88 417.27 164.12 379.27 Z" fill="#9446b8" fill-opacity="0.42" stroke="#ffffff" stroke-width="0.35"/><path d="M166.76 378.47 A40.6 40.6 0 0 1 169.11 377.92 Q186.36 416.92 176.21 458.29 A40.6 40.6 0 0 1 173.38 458.12 Q179.88 417.47 166.76 378.47 Z" fill="#9446b8" fill-opacity="0.42" stroke="#ffffff" stroke-width="0.35"/><path d="M169.45 377.85 A40.6 40.6 0 0 1 171.83 377.46 Q184.21 417.62 172.96 458.08 A40.6 40.6 0 0 1 170.15 457.68 Q177.71 417.69 169.45 377.85 Z" fill="#9446b8" fill-opacity="0.42" stroke="#ffffff" stroke-width="0.35"/><path d="M172.18 377.41 A40.6 40.6 0 0 1 174.58 377.18 Q182.35 418.02 169.73 457.61 A40.6 40.6 0 0 1 166.97 456.99 Q175.86 417.62 172.18 377.41 Z" fill="#9446b8" fill-opacity="0.42" stroke="#ffffff" stroke-width="0.35"/><path d="M174.93 377.16 A40.6 40.6 0 0 1 177.34 377.10 Q176.87 417.65 166.56 456.88 A40.6 40.6 0 0 1 163.85 456.04 Q170.43 416.77 174.93 377.16 Z" fill="#9446b8" fill-opacity="0.42" stroke="#ffffff" stroke-width="0.35"/><path d="M177.70 377.10 A40.6 40.6 0 0 1 180.10 377.20 Q175.70 417.38 163.45 455.90 A40.6 40.6 0 0 1 160.82 454.85 Q169.34 416.02 177.70 377.10 Z" fill="#9446b8" fill-opacity="0.42" stroke="#ffffff" stroke-width="0.35"/><path d="M180.46 377.23 A40.6 40.6 0 0 1 182.85 377.50 Q176.53 417.50 160.43 454.67 A40.6 40.6 0 0 1 157.89 453.41 Q170.29 415.67 180.46 377.23 Z" fill="#9446b8" fill-opacity="0.42" stroke="#ffffff" stroke-width="0.35"/><path d="M183.20 377.55 A40.6 40.6 0 0 1 185.57 377.97 Q173.67 416.37 157.52 453.21 A40.6 40.6 0 0 1 155.09 451.75 Q167.59 414.09 183.20 377.55 Z" fill="#9446b8" fill-opacity="0.42" stroke="#ffffff" stroke-width="0.35"/><path d="M185.92 378.05 A40.6 40.6 0 0 1 188.25 378.63 Q182.62 420.21 154.73 451.52 A40.6 40.6 0 0 1 152.43 449.87 Q176.73 417.48 185.92 378.05 Z" fill="#9446b8" fill-opacity="0.42" stroke="#ffffff" stroke-width="0.35"/><path d="M188.60 378.73 A40.6 40.6 0 0 1 190.89 379.48 Q177.95 418.12 152.09 449.61 A40.6 40.6 0 0 1 149.93 447.78 Q172.27 414.95 188.60 378.73 Z" fill="#9446b8" fill-opacity="0.42" stroke="#ffffff" stroke-width="0.35"/><path d="M191.22 379.60 A40.6 40.6 0 0 1 193.45 380.50 Q183.13 421.60 149.61 447.49 A40.6 40.6 0 0 1 147.60 445.49 Q177.70 418.03 191.22 379.60 Z" fill="#9446b8" fill-opacity="0.42" stroke="#ffffff" stroke-width="0.35"/><path d="M193.78 380.64 A40.6 40.6 0 0 1 195.95 381.69 Q177.72 418.10 147.31 445.18 A40.6 40.6 0 0 1 145.47 443.03 Q172.57 414.14 193.78 380.64 Z" fill="#9446b8" fill-opacity="0.42" stroke="#ffffff" stroke-width="0.35"/><path d="M136.82 421.94 A40.6 40.6 0 0 1 137.35 409.95 Q179.24 414.86 196.26 453.55 A40.6 40.6 0 0 1 187.02 457.09 Q175.16 420.54 136.82 421.94 Z" fill="#9446b8" fill-opacity="0.55"/><path d="M143.34 389.29 A44.2 44.2 0 0 1 193.04 376.44" stroke="#a0521e" stroke-width="2.40" fill="none" stroke-opacity="1.00" stroke-dasharray="1.8 0.8"/><path d="M192.61 377.56 A43.0 43.0 0 0 1 216.48 400.21" stroke="#c8a27c" stroke-width="0.80" fill="none" stroke-opacity="0.80"/><path d="M221.39 416.93 A44.2 44.2 0 0 1 208.99 448.40" stroke="#7a3a98" stroke-width="2.50" fill="none" stroke-opacity="1.00"/><path d="M207.90 449.49 A44.2 44.2 0 0 1 142.37 444.91" stroke="#7a3a98" stroke-width="2.50" fill="none" stroke-opacity="1.00" stroke-dasharray="6 0.6"/><path d="M204.00 449.64 A41.7 41.7 0 0 1 145.26 444.50" stroke="#d08040" stroke-width="0.55" fill="none" stroke-opacity="0.90"/><path d="M133.24 422.32 A44.2 44.2 0 0 1 133.97 408.51" stroke="#6a3088" stroke-width="2.50" fill="none" stroke-opacity="1.00"/><path d="M143.71 443.87 A42.5 42.5 0 0 1 134.93 422.14" stroke="#c8b0d8" stroke-width="0.70" fill="none" stroke-opacity="0.90"/><path d="M135.63 408.86 A42.5 42.5 0 0 1 145.62 389.26" stroke="#d8c8e0" stroke-width="0.70" fill="none" stroke-opacity="0.90"/><path d="M216.03 400.41 A42.5 42.5 0 0 1 219.67 416.22" stroke="#e0d0e8" stroke-width="0.60" fill="none" stroke-opacity="0.90"/><text transform="translate(143.86 383.17) rotate(46.0)" x="0" y="2.0" font-size="5.8" fill="#2a2a2a" text-anchor="end" textLength="13.5" lengthAdjust="spacingAndGlyphs">KLRB1</text><text transform="translate(150.82 378.44) rotate(56.1)" x="0" y="2.0" font-size="5.8" fill="#2a2a2a" text-anchor="end" textLength="11.0" lengthAdjust="spacingAndGlyphs">CD44</text><text transform="translate(157.09 376.11) rotate(64.2)" x="0" y="2.0" font-size="5.8" fill="#2a2a2a" text-anchor="end" textLength="13.0" lengthAdjust="spacingAndGlyphs">KLRK1</text><text transform="translate(160.57 373.21) rotate(69.5)" x="0" y="2.0" font-size="5.8" fill="#2a2a2a" text-anchor="end" textLength="13.0" lengthAdjust="spacingAndGlyphs">PVRIG</text><text transform="translate(166.27 371.47) rotate(76.7)" x="0" y="2.0" font-size="5.8" fill="#2a2a2a" text-anchor="end" textLength="31.5" lengthAdjust="spacingAndGlyphs">CD94:NKG2E</text><text transform="translate(128.20 417.70) rotate(0.0)" x="0" y="2.0" font-size="5.8" fill="#2a2a2a" text-anchor="end" textLength="16.0" lengthAdjust="spacingAndGlyphs">PTPRC</text><text transform="translate(221.64 434.76) rotate(21.0)" x="0" y="2.0" font-size="5.8" fill="#2a2a2a" text-anchor="start" textLength="12.5" lengthAdjust="spacingAndGlyphs">CD69</text><text transform="translate(201.56 459.06) rotate(59.5)" x="0" y="2.0" font-size="5.8" fill="#2a2a2a" text-anchor="start" textLength="19.0" lengthAdjust="spacingAndGlyphs">LGALS9</text><text transform="translate(183.95 465.73) rotate(82.0)" x="0" y="2.0" font-size="5.8" fill="#2a2a2a" text-anchor="start" textLength="18.5" lengthAdjust="spacingAndGlyphs">CLEC2B</text><text transform="translate(168.62 464.93) rotate(-79.7)" x="0" y="2.0" font-size="5.8" fill="#2a2a2a" text-anchor="end" textLength="15.5" lengthAdjust="spacingAndGlyphs">HLA-E</text><text transform="translate(158.68 461.98) rotate(-67.3)" x="0" y="2.0" font-size="5.8" fill="#2a2a2a" text-anchor="end" textLength="12.0" lengthAdjust="spacingAndGlyphs">RETN</text><text transform="translate(154.66 460.64) rotate(-62.3)" x="0" y="2.0" font-size="5.8" fill="#2a2a2a" text-anchor="end" textLength="20.5" lengthAdjust="spacingAndGlyphs">PECAM1</text><text x="208.0" y="355.8" font-size="4.7" fill="#444" text-anchor="start" textLength="21.1" lengthAdjust="spacingAndGlyphs">Cell State</text><rect x="208.3" y="358.6" width="3.3" height="3.3" fill="#7b3f9e"/><rect x="208.3" y="364.2" width="3.3" height="3.3" fill="#8b4a1c"/><text x="215.2" y="362.1" font-size="4.9" fill="#444" text-anchor="start" textLength="22.6" lengthAdjust="spacingAndGlyphs">Mono−DC</text><text x="215.2" y="367.8" font-size="4.9" fill="#444" text-anchor="start" textLength="17.3" lengthAdjust="spacingAndGlyphs">NK−ILC</text><path d="M396.90 417.60 A40.6 40.6 0 0 1 396.92 416.32 Q437.34 418.50 475.88 430.84 A40.6 40.6 0 0 1 475.54 431.78 Q437.27 418.86 396.90 417.60 Z" fill="#e47ebf" fill-opacity="0.10"/><path d="M396.99 414.91 A40.6 40.6 0 0 1 397.09 413.64 Q437.24 418.58 474.66 433.95 A40.6 40.6 0 0 1 474.25 434.85 Q437.15 418.95 396.99 414.91 Z" fill="#e47ebf" fill-opacity="0.10"/><path d="M397.26 412.23 A40.6 40.6 0 0 1 397.45 410.97 Q437.21 418.48 473.76 435.87 A40.6 40.6 0 0 1 473.30 436.75 Q437.10 418.83 397.26 412.23 Z" fill="#e47ebf" fill-opacity="0.10"/><path d="M397.70 409.58 A40.6 40.6 0 0 1 397.97 408.33 Q437.16 418.44 472.52 438.14 A40.6 40.6 0 0 1 472.01 438.99 Q437.03 418.78 397.70 409.58 Z" fill="#e47ebf" fill-opacity="0.10"/><path d="M398.32 406.96 A40.6 40.6 0 0 1 398.67 405.73 Q437.26 418.13 472.39 438.35 A40.6 40.6 0 0 1 471.88 439.20 Q437.15 418.41 398.32 406.96 Z" fill="#e47ebf" fill-opacity="0.10"/><path d="M399.11 404.38 A40.6 40.6 0 0 1 399.55 403.18 Q437.26 418.07 471.19 440.26 A40.6 40.6 0 0 1 470.63 441.07 Q437.13 418.33 399.11 404.38 Z" fill="#e47ebf" fill-opacity="0.10"/><path d="M400.07 401.87 A40.6 40.6 0 0 1 400.59 400.70 Q437.27 417.98 470.10 441.80 A40.6 40.6 0 0 1 469.50 442.59 Q437.14 418.21 400.07 401.87 Z" fill="#e47ebf" fill-opacity="0.10"/><path d="M401.20 399.42 A40.6 40.6 0 0 1 401.79 398.29 Q437.27 417.94 468.65 443.64 A40.6 40.6 0 0 1 468.00 444.40 Q437.13 418.15 401.20 399.42 Z" fill="#e47ebf" fill-opacity="0.10"/><path d="M402.48 397.06 A40.6 40.6 0 0 1 403.14 395.97 Q437.19 417.99 466.24 446.28 A40.6 40.6 0 0 1 465.53 446.97 Q437.02 418.21 402.48 397.06 Z" fill="#e47ebf" fill-opacity="0.10"/><path d="M403.92 394.78 A40.6 40.6 0 0 1 404.65 393.74 Q437.32 417.81 465.95 446.57 A40.6 40.6 0 0 1 465.23 447.25 Q437.18 417.98 403.92 394.78 Z" fill="#e47ebf" fill-opacity="0.10"/><path d="M405.51 392.60 A40.6 40.6 0 0 1 406.31 391.61 Q437.27 417.83 463.53 448.76 A40.6 40.6 0 0 1 462.76 449.39 Q437.10 418.00 405.51 392.60 Z" fill="#e47ebf" fill-opacity="0.10"/><path d="M407.23 390.54 A40.6 40.6 0 0 1 408.10 389.60 Q437.34 417.74 462.58 449.53 A40.6 40.6 0 0 1 461.79 450.13 Q437.20 417.87 407.23 390.54 Z" fill="#e47ebf" fill-opacity="0.10"/><path d="M465.19 387.91 A40.6 40.6 0 0 1 465.91 388.59 Q436.42 415.92 399.35 431.49 A40.6 40.6 0 0 1 399.11 430.82 Q436.21 415.61 465.19 387.91 Z" fill="#e47ebf" fill-opacity="0.15"/><path d="M466.80 389.50 A40.6 40.6 0 0 1 467.48 390.22 Q436.59 416.03 398.89 430.15 A40.6 40.6 0 0 1 398.67 429.47 Q436.40 415.72 466.80 389.50 Z" fill="#e47ebf" fill-opacity="0.15"/><path d="M468.33 391.18 A40.6 40.6 0 0 1 468.96 391.94 Q436.74 416.15 398.47 428.79 A40.6 40.6 0 0 1 398.28 428.11 Q436.57 415.84 468.33 391.18 Z" fill="#e47ebf" fill-opacity="0.15"/><path d="M469.75 392.94 A40.6 40.6 0 0 1 470.35 393.74 Q436.88 416.26 398.11 427.42 A40.6 40.6 0 0 1 397.94 426.73 Q436.73 415.96 469.75 392.94 Z" fill="#e47ebf" fill-opacity="0.15"/><path d="M471.08 394.78 A40.6 40.6 0 0 1 471.63 395.61 Q437.00 416.38 397.79 426.04 A40.6 40.6 0 0 1 397.65 425.35 Q436.87 416.08 471.08 394.78 Z" fill="#e47ebf" fill-opacity="0.15"/><path d="M472.30 396.69 A40.6 40.6 0 0 1 472.80 397.55 Q437.10 416.49 397.52 424.65 A40.6 40.6 0 0 1 397.40 423.95 Q436.99 416.21 472.30 396.69 Z" fill="#e47ebf" fill-opacity="0.15"/><path d="M473.41 398.66 A40.6 40.6 0 0 1 473.87 399.55 Q437.19 416.61 397.30 423.25 A40.6 40.6 0 0 1 397.20 422.55 Q437.10 416.34 473.41 398.66 Z" fill="#e47ebf" fill-opacity="0.15"/><path d="M474.41 400.70 A40.6 40.6 0 0 1 474.82 401.61 Q437.27 416.72 397.12 421.84 A40.6 40.6 0 0 1 397.05 421.14 Q437.20 416.46 474.41 400.70 Z" fill="#e47ebf" fill-opacity="0.15"/><path d="M475.30 402.79 A40.6 40.6 0 0 1 475.65 403.71 Q437.34 416.83 397.00 420.43 A40.6 40.6 0 0 1 396.96 419.72 Q437.28 416.59 475.30 402.79 Z" fill="#e47ebf" fill-opacity="0.15"/><path d="M476.07 404.92 A40.6 40.6 0 0 1 476.37 405.87 Q437.39 416.94 396.92 419.02 A40.6 40.6 0 0 1 396.91 418.31 Q437.35 416.70 476.07 404.92 Z" fill="#e47ebf" fill-opacity="0.15"/><path d="M477.95 414.06 A40.6 40.6 0 0 1 436.08 458.18 Q431.00 416.00 477.95 414.06 Z" fill="#e47ebf" fill-opacity="0.62"/><path d="M407.81 389.91 A40.6 40.6 0 0 1 409.45 388.25 Q438.79 417.13 434.67 458.10 A40.6 40.6 0 0 1 432.48 457.89 Q432.68 419.34 407.81 389.91 Z" fill="#e47ebf" fill-opacity="0.50" stroke="#ffffff" stroke-width="0.35"/><path d="M409.63 388.08 A40.6 40.6 0 0 1 411.38 386.52 Q440.66 416.67 432.24 457.86 A40.6 40.6 0 0 1 430.07 457.51 Q434.42 418.50 409.63 388.08 Z" fill="#e47ebf" fill-opacity="0.50" stroke="#ffffff" stroke-width="0.35"/><path d="M411.57 386.36 A40.6 40.6 0 0 1 413.41 384.92 Q446.25 415.61 429.82 457.47 A40.6 40.6 0 0 1 427.68 456.99 Q439.92 417.05 411.57 386.36 Z" fill="#e47ebf" fill-opacity="0.50" stroke="#ffffff" stroke-width="0.35"/><path d="M413.61 384.77 A40.6 40.6 0 0 1 415.54 383.45 Q443.19 416.67 427.44 456.93 A40.6 40.6 0 0 1 425.33 456.33 Q436.78 417.72 413.61 384.77 Z" fill="#e47ebf" fill-opacity="0.50" stroke="#ffffff" stroke-width="0.35"/><path d="M415.75 383.32 A40.6 40.6 0 0 1 417.75 382.12 Q434.96 417.85 425.09 456.26 A40.6 40.6 0 0 1 423.02 455.53 Q428.50 418.50 415.75 383.32 Z" fill="#e47ebf" fill-opacity="0.50" stroke="#ffffff" stroke-width="0.35"/><path d="M417.97 382.00 A40.6 40.6 0 0 1 420.05 380.94 Q438.61 417.56 422.79 455.44 A40.6 40.6 0 0 1 420.76 454.59 Q432.12 417.80 417.97 382.00 Z" fill="#e47ebf" fill-opacity="0.50" stroke="#ffffff" stroke-width="0.35"/><path d="M420.28 380.83 A40.6 40.6 0 0 1 422.42 379.90 Q436.80 417.58 420.53 454.49 A40.6 40.6 0 0 1 418.56 453.51 Q430.31 417.42 420.28 380.83 Z" fill="#e47ebf" fill-opacity="0.50" stroke="#ffffff" stroke-width="0.35"/><path d="M422.65 379.81 A40.6 40.6 0 0 1 424.85 379.02 Q446.91 418.42 418.35 453.40 A40.6 40.6 0 0 1 416.44 452.31 Q440.44 417.85 422.65 379.81 Z" fill="#e47ebf" fill-opacity="0.50" stroke="#ffffff" stroke-width="0.35"/><path d="M425.09 378.94 A40.6 40.6 0 0 1 427.33 378.29 Q445.99 418.87 416.23 452.18 A40.6 40.6 0 0 1 414.39 450.98 Q439.56 417.91 425.09 378.94 Z" fill="#e47ebf" fill-opacity="0.50" stroke="#ffffff" stroke-width="0.35"/><path d="M427.57 378.23 A40.6 40.6 0 0 1 429.86 377.73 Q445.85 419.38 414.18 450.84 A40.6 40.6 0 0 1 412.42 449.53 Q439.49 418.02 427.57 378.23 Z" fill="#e47ebf" fill-opacity="0.50" stroke="#ffffff" stroke-width="0.35"/><path d="M430.10 377.68 A40.6 40.6 0 0 1 432.41 377.32 Q445.99 419.97 412.23 449.37 A40.6 40.6 0 0 1 410.54 447.96 Q439.73 418.22 430.10 377.68 Z" fill="#e47ebf" fill-opacity="0.50" stroke="#ffffff" stroke-width="0.35"/><path d="M432.66 377.29 A40.6 40.6 0 0 1 434.99 377.08 Q444.75 420.12 410.36 447.80 A40.6 40.6 0 0 1 408.77 446.28 Q438.61 417.99 432.66 377.29 Z" fill="#e47ebf" fill-opacity="0.50" stroke="#ffffff" stroke-width="0.35"/><path d="M435.23 377.06 A40.6 40.6 0 0 1 437.57 377.00 Q447.22 421.67 408.59 446.11 A40.6 40.6 0 0 1 407.09 444.50 Q441.23 419.16 435.23 377.06 Z" fill="#e47ebf" fill-opacity="0.50" stroke="#ffffff" stroke-width="0.35"/><path d="M437.82 377.00 A40.6 40.6 0 0 1 440.16 377.09 Q445.00 421.30 406.93 444.32 A40.6 40.6 0 0 1 405.53 442.62 Q439.17 418.42 437.82 377.00 Z" fill="#e47ebf" fill-opacity="0.50" stroke="#ffffff" stroke-width="0.35"/><path d="M440.40 377.10 A40.6 40.6 0 0 1 442.73 377.34 Q438.23 418.02 405.38 442.43 A40.6 40.6 0 0 1 404.08 440.65 Q432.59 414.79 440.40 377.10 Z" fill="#e47ebf" fill-opacity="0.50" stroke="#ffffff" stroke-width="0.35"/><path d="M442.97 377.37 A40.6 40.6 0 0 1 445.28 377.75 Q445.14 422.63 403.94 440.45 A40.6 40.6 0 0 1 402.75 438.60 Q439.71 419.06 442.97 377.37 Z" fill="#e47ebf" fill-opacity="0.50" stroke="#ffffff" stroke-width="0.35"/><path d="M445.52 377.80 A40.6 40.6 0 0 1 447.80 378.33 Q440.75 420.04 402.63 438.39 A40.6 40.6 0 0 1 401.55 436.47 Q435.55 416.14 445.52 377.80 Z" fill="#e47ebf" fill-opacity="0.50" stroke="#ffffff" stroke-width="0.35"/><path d="M448.04 378.39 A40.6 40.6 0 0 1 450.28 379.06 Q443.45 422.67 401.44 436.25 A40.6 40.6 0 0 1 400.48 434.28 Q438.50 418.46 448.04 378.39 Z" fill="#e47ebf" fill-opacity="0.50" stroke="#ffffff" stroke-width="0.35"/><path d="M450.52 379.14 A40.6 40.6 0 0 1 452.71 379.96 Q441.20 421.18 400.38 434.05 A40.6 40.6 0 0 1 399.55 432.02 Q436.53 416.66 450.52 379.14 Z" fill="#e47ebf" fill-opacity="0.50" stroke="#ffffff" stroke-width="0.35"/><path d="M452.94 380.05 A40.6 40.6 0 0 1 455.07 381.00 Q439.70 420.01 399.46 431.79 A40.6 40.6 0 0 1 398.75 429.71 Q435.32 415.21 452.94 380.05 Z" fill="#e47ebf" fill-opacity="0.50" stroke="#ffffff" stroke-width="0.35"/><path d="M455.30 381.11 A40.6 40.6 0 0 1 457.37 382.19 Q438.97 419.43 398.67 429.47 A40.6 40.6 0 0 1 398.09 427.35 Q434.89 414.37 455.30 381.11 Z" fill="#e47ebf" fill-opacity="0.50" stroke="#ffffff" stroke-width="0.35"/><path d="M457.58 382.32 A40.6 40.6 0 0 1 459.58 383.53 Q439.39 420.27 398.03 427.11 A40.6 40.6 0 0 1 397.57 424.96 Q435.63 414.96 457.58 382.32 Z" fill="#e47ebf" fill-opacity="0.50" stroke="#ffffff" stroke-width="0.35"/><path d="M459.79 383.67 A40.6 40.6 0 0 1 461.71 385.01 Q438.37 419.00 397.53 424.72 A40.6 40.6 0 0 1 397.20 422.55 Q434.94 413.47 459.79 383.67 Z" fill="#e47ebf" fill-opacity="0.50" stroke="#ffffff" stroke-width="0.35"/><path d="M461.91 385.15 A40.6 40.6 0 0 1 463.73 386.61 Q436.98 416.62 397.17 422.30 A40.6 40.6 0 0 1 396.98 420.11 Q433.90 410.90 461.91 385.15 Z" fill="#e47ebf" fill-opacity="0.50" stroke="#ffffff" stroke-width="0.35"/><path d="M405.17 387.46 A44.2 44.2 0 0 1 467.64 385.27" stroke="#a0521e" stroke-width="2.40" fill="none" stroke-opacity="1.00" stroke-dasharray="1.6 0.7"/><path d="M466.83 386.15 A43.0 43.0 0 0 1 479.22 407.20" stroke="#c8a27c" stroke-width="0.80" fill="none" stroke-opacity="0.80"/><path d="M481.53 413.75 A44.2 44.2 0 0 1 435.96 461.77" stroke="#e070b0" stroke-width="2.50" fill="none" stroke-opacity="1.00"/><path d="M434.42 461.69 A44.2 44.2 0 0 1 393.41 420.68" stroke="#e070b0" stroke-width="2.50" fill="none" stroke-opacity="1.00" stroke-dasharray="6 0.6"/><path d="M433.14 459.07 A41.7 41.7 0 0 1 396.03 421.96" stroke="#a0521e" stroke-width="0.60" fill="none" stroke-opacity="0.90"/><path d="M395.10 420.56 A42.5 42.5 0 0 1 407.98 387.03" stroke="#f0c8e0" stroke-width="0.70" fill="none" stroke-opacity="0.90"/><text transform="translate(406.48 382.42) rotate(48.6)" x="0" y="2.0" font-size="5.8" fill="#2a2a2a" text-anchor="end" textLength="15.0" lengthAdjust="spacingAndGlyphs">KLRK1</text><text transform="translate(412.28 377.23) rotate(58.0)" x="0" y="2.0" font-size="5.8" fill="#2a2a2a" text-anchor="end" textLength="15.0" lengthAdjust="spacingAndGlyphs">KLRB1</text><text transform="translate(419.18 374.86) rotate(66.8)" x="0" y="2.0" font-size="5.8" fill="#2a2a2a" text-anchor="end" textLength="33.5" lengthAdjust="spacingAndGlyphs">CD94:NKG2E</text><text transform="translate(423.31 372.58) rotate(72.5)" x="0" y="2.0" font-size="5.8" fill="#2a2a2a" text-anchor="end" textLength="12.5" lengthAdjust="spacingAndGlyphs">SELL</text><text transform="translate(429.58 369.75) rotate(80.6)" x="0" y="2.0" font-size="5.8" fill="#2a2a2a" text-anchor="end" textLength="16.0" lengthAdjust="spacingAndGlyphs">KLRC2</text><text transform="translate(395.08 437.38) rotate(-25.0)" x="0" y="2.0" font-size="5.8" fill="#2a2a2a" text-anchor="end" textLength="37.0" lengthAdjust="spacingAndGlyphs">PGE2−PTGES3</text><text transform="translate(397.39 442.86) rotate(-32.2)" x="0" y="2.0" font-size="5.8" fill="#2a2a2a" text-anchor="end" textLength="16.2" lengthAdjust="spacingAndGlyphs">TGFB1</text><text transform="translate(400.60 449.23) rotate(-40.6)" x="0" y="2.0" font-size="5.8" fill="#2a2a2a" text-anchor="end" textLength="19.0" lengthAdjust="spacingAndGlyphs">SELPLG</text><text transform="translate(406.07 453.88) rotate(-49.1)" x="0" y="2.0" font-size="5.8" fill="#2a2a2a" text-anchor="end" textLength="19.8" lengthAdjust="spacingAndGlyphs">CLEC2B</text><text transform="translate(418.67 462.62) rotate(-67.3)" x="0" y="2.0" font-size="5.8" fill="#2a2a2a" text-anchor="end" textLength="14.8" lengthAdjust="spacingAndGlyphs">HLA-E</text><text transform="translate(469.80 453.10) rotate(47.7)" x="0" y="2.0" font-size="5.8" fill="#2a2a2a" text-anchor="start" textLength="14.0" lengthAdjust="spacingAndGlyphs">CD69</text><text x="465.1" y="357.9" font-size="4.7" fill="#444" text-anchor="start" textLength="22.1" lengthAdjust="spacingAndGlyphs">Cell State</text><rect x="465.6" y="361.3" width="3.3" height="3.3" fill="#e48cc0"/><rect x="465.6" y="367.6" width="3.3" height="3.3" fill="#8b4a1c"/><text x="472.8" y="364.8" font-size="4.9" fill="#444" text-anchor="start" textLength="10.1" lengthAdjust="spacingAndGlyphs">pDC</text><text x="472.8" y="371.1" font-size="4.9" fill="#444" text-anchor="start" textLength="17.3" lengthAdjust="spacingAndGlyphs">NK−ILC</text><rect x="106.4" y="337.1" width="140.1" height="152.4" fill="none" stroke="#555" stroke-width="1.1"/><rect x="357.6" y="337.1" width="139.6" height="152.4" fill="none" stroke="#555" stroke-width="1.1"/><line x1="64.4" y1="363.8" x2="106.4" y2="337.1" stroke="#333" stroke-width="0.7" stroke-dasharray="1.2 0.8"/><line x1="64.2" y1="462.6" x2="106.5" y2="489.5" stroke="#333" stroke-width="0.7" stroke-dasharray="1.2 0.8"/><line x1="314.8" y1="363.8" x2="357.6" y2="337.1" stroke="#333" stroke-width="0.7" stroke-dasharray="1.2 0.8"/><line x1="315.4" y1="462.3" x2="357.6" y2="489.5" stroke="#333" stroke-width="0.7" stroke-dasharray="1.2 0.8"/><rect x="0" y="0" width="520" height="1" fill="#555"/><rect x="0" y="0" width="1" height="496" fill="#555"/><rect x="518.8" y="0" width="1.2" height="496" fill="#444"/><rect x="0" y="494.6" width="520" height="1.4" fill="#444"/></svg></body></html>
